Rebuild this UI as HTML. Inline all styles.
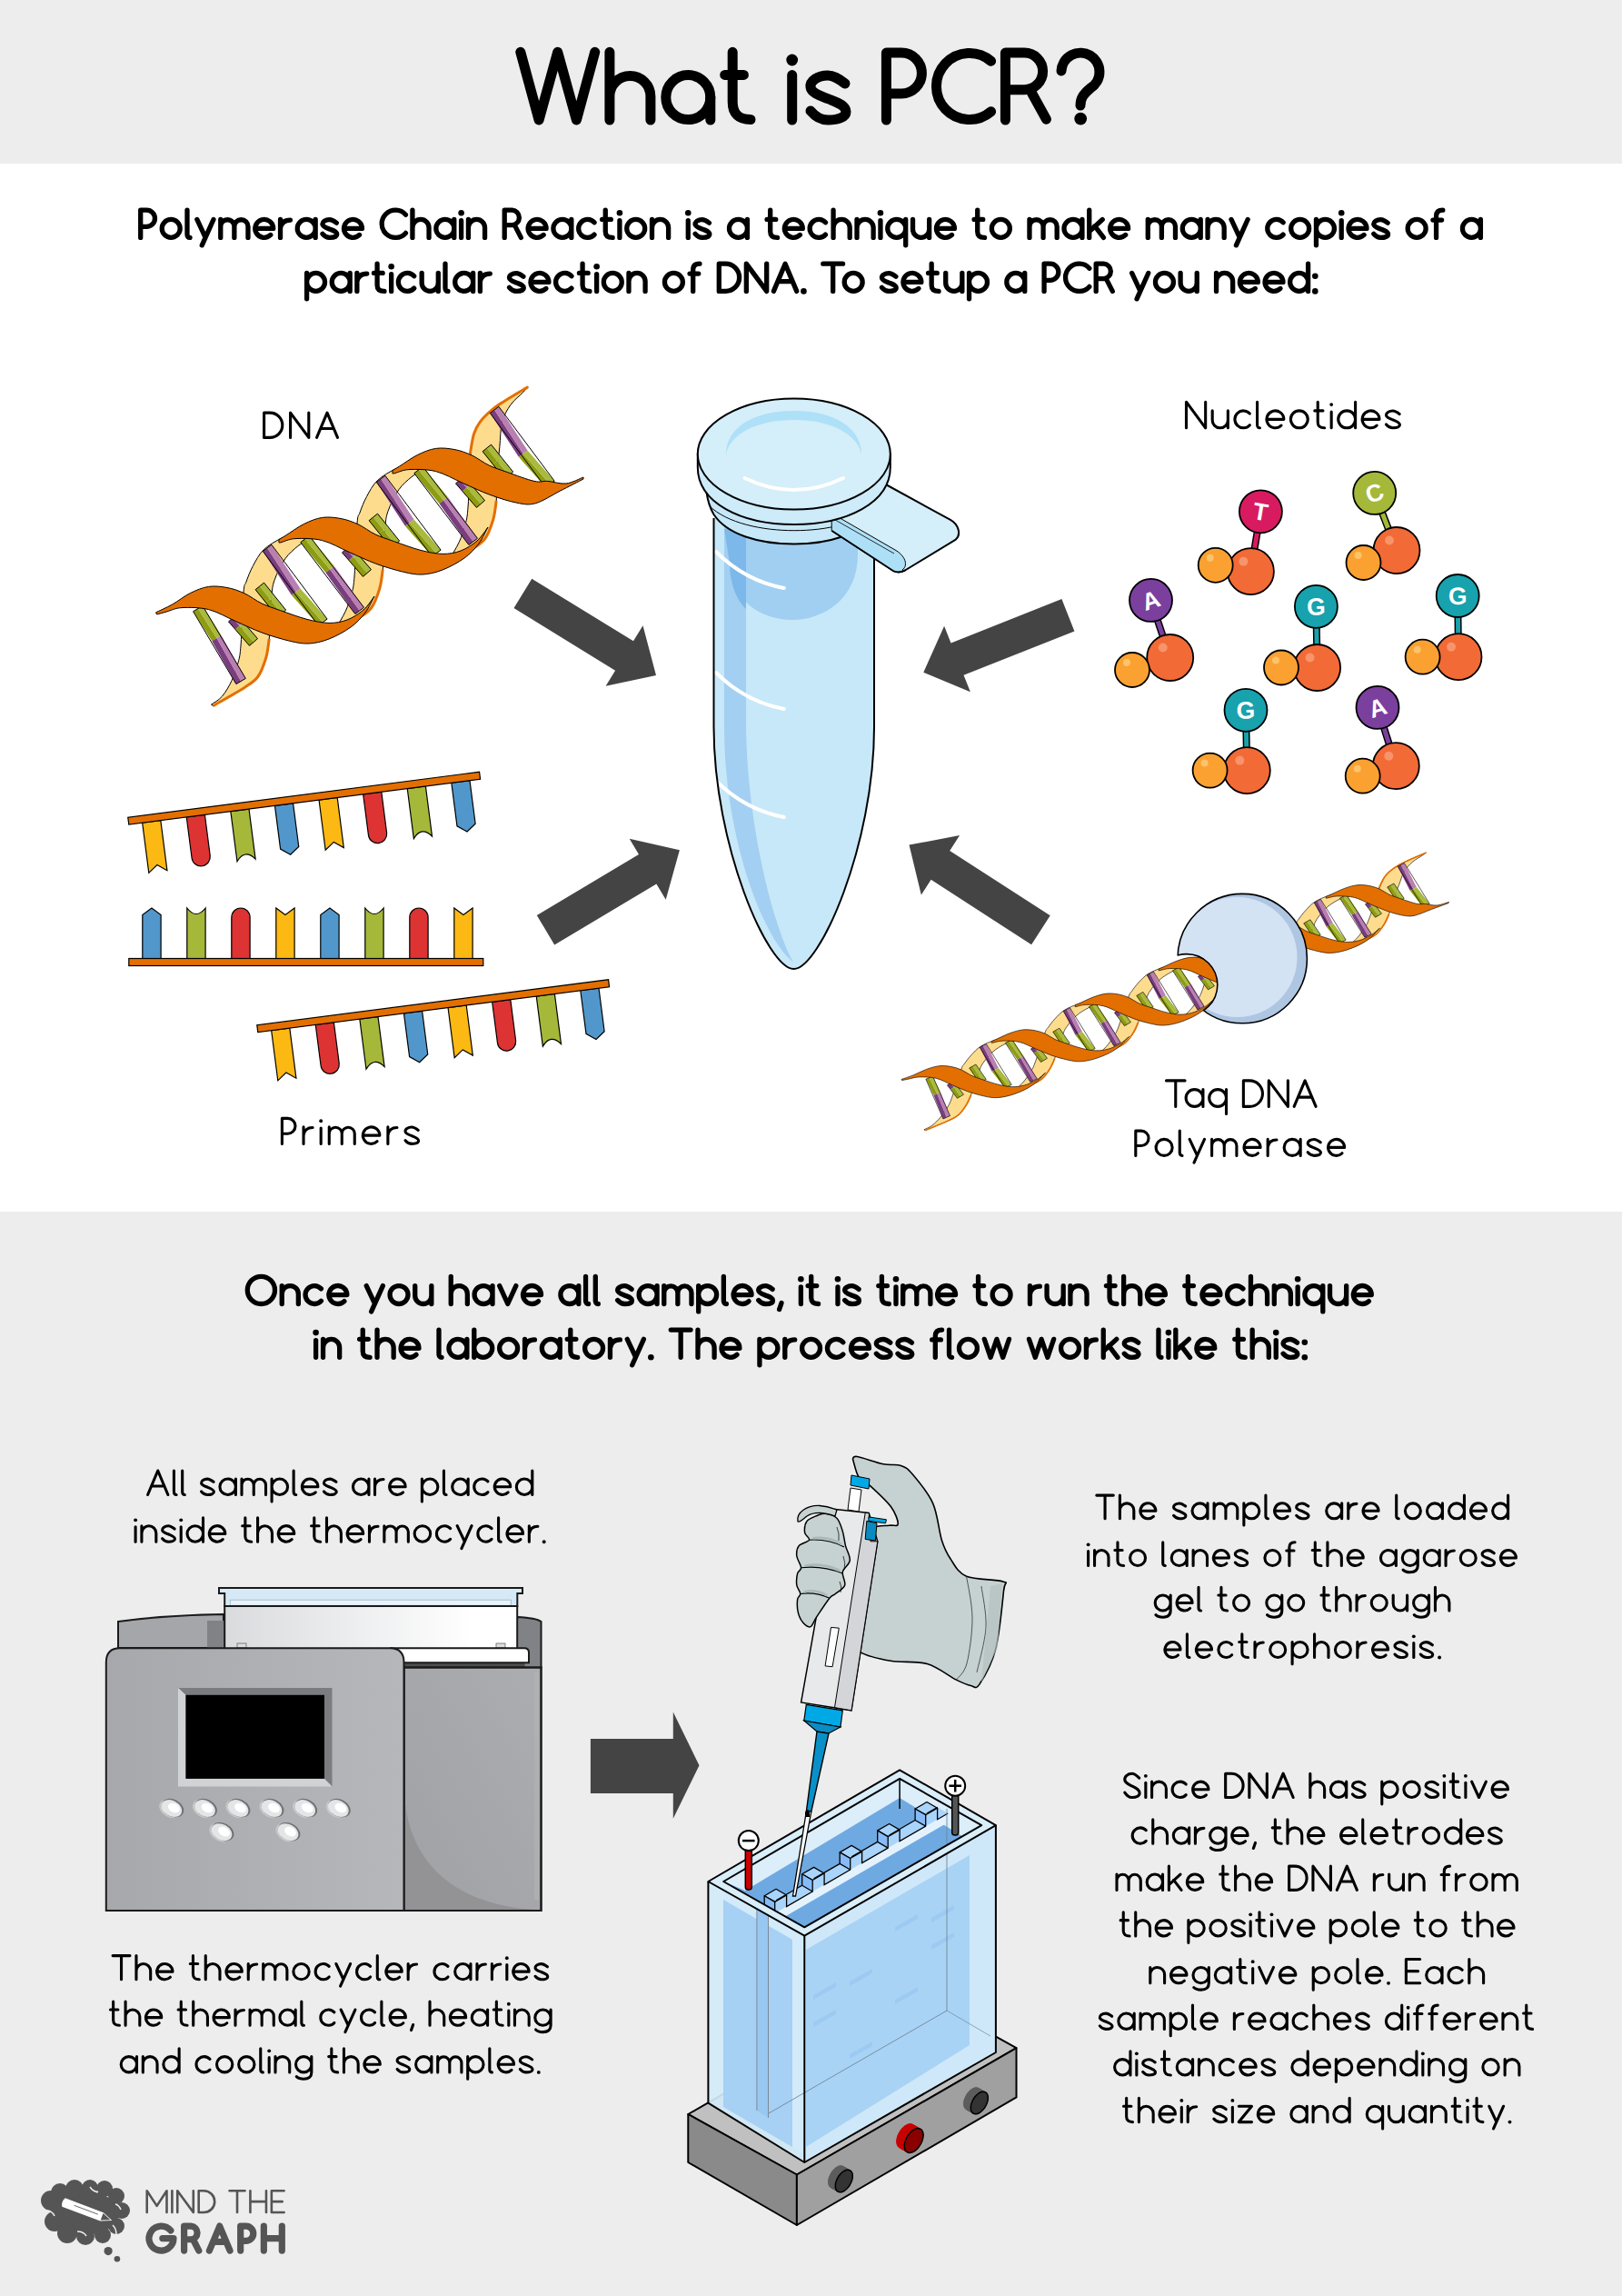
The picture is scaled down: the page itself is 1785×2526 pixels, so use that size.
<!DOCTYPE html>
<html><head><meta charset="utf-8"><title>What is PCR?</title>
<style>html,body{margin:0;padding:0;background:#fff;width:1785px;height:2526px;overflow:hidden} svg{display:block}</style>
</head><body>
<svg width="1785" height="2526" viewBox="0 0 1785 2526">
<rect x="0" y="0" width="1785" height="180" fill="#ededed"/>
<rect x="0" y="1333" width="1785" height="1193" fill="#ededed"/>
<path d="M232.5,775.1 C234.5,773.6 240.6,770.6 244.4,766.2 C248.2,761.8 252.2,754.7 255.2,748.5 C258.1,742.3 260.5,735.4 262.1,728.8 C263.8,722.2 264.1,721.8 265.1,709.0 C266.1,696.2 267.0,663.3 268.0,651.8 C269.0,640.3 269.3,644.9 271.0,640.0 C272.7,635.1 275.2,628.5 278.4,622.6 C281.6,616.7 284.9,609.9 290.2,604.8 C295.5,599.7 303.8,595.0 310.0,592.0 C316.2,589.0 321.9,588.2 327.7,587.0 C333.5,585.8 342.1,585.3 345.0,585.0 L345.0,592.0 C343.8,592.5 340.5,593.5 337.6,595.0 C334.7,596.5 331.6,597.6 327.7,600.9 C323.8,604.2 318.2,608.5 313.9,614.7 C309.6,621.0 304.6,630.9 302.0,638.4 C299.4,645.9 299.6,648.9 298.6,659.7 C297.6,670.5 297.2,692.4 296.2,703.1 C295.2,713.8 294.8,716.9 292.7,723.8 C290.6,730.7 287.8,739.1 283.8,744.5 C279.9,749.9 277.2,751.0 269.0,756.4 C260.8,761.8 240.2,773.2 234.5,776.6 Z" fill="#fedc8e" stroke="#000" stroke-width="1.0"/>
<path d="M357.5,699.1 C359.5,697.6 365.6,694.6 369.4,690.2 C373.2,685.8 377.2,678.7 380.2,672.5 C383.1,666.3 385.5,659.4 387.1,652.8 C388.8,646.2 389.1,645.8 390.1,633.0 C391.1,620.2 392.0,587.3 393.0,575.8 C394.0,564.3 394.3,568.9 396.0,564.0 C397.7,559.1 400.2,552.5 403.4,546.6 C406.6,540.7 409.9,533.9 415.2,528.8 C420.5,523.7 428.8,519.0 435.0,516.0 C441.2,513.0 446.9,512.2 452.7,511.0 C458.5,509.8 467.1,509.3 470.0,509.0 L470.0,516.0 C468.8,516.5 465.5,517.5 462.6,519.0 C459.7,520.5 456.6,521.6 452.7,524.9 C448.8,528.2 443.2,532.5 438.9,538.7 C434.6,545.0 429.6,554.9 427.0,562.4 C424.4,569.9 424.6,572.9 423.6,583.7 C422.6,594.5 422.2,616.4 421.2,627.1 C420.2,637.8 419.8,640.9 417.7,647.8 C415.6,654.7 412.8,663.1 408.8,668.5 C404.9,673.9 402.2,675.0 394.0,680.4 C385.8,685.8 365.2,697.2 359.5,700.6 Z" fill="#fedc8e" stroke="#000" stroke-width="1.0"/>
<path d="M482.5,623.1 C484.5,621.6 490.6,618.6 494.4,614.2 C498.2,609.8 502.2,602.7 505.2,596.5 C508.1,590.3 510.5,583.4 512.1,576.8 C513.8,570.2 514.1,569.8 515.1,557.0 C516.1,544.2 517.0,513.0 518.0,499.8 C519.0,486.6 519.7,483.7 521.4,477.8 C523.1,471.9 524.8,468.8 528.2,464.3 C531.6,459.8 537.2,454.6 541.7,450.7 C546.2,446.9 548.7,445.4 555.3,441.2 C561.9,437.0 576.8,428.2 581.1,425.6 L581.1,425.6 C580.2,426.6 578.8,428.4 575.6,431.7 C572.4,435.0 565.8,439.9 562.0,445.3 C558.2,450.7 554.6,456.6 552.6,464.3 C550.6,472.0 550.8,482.4 549.9,491.4 C549.0,500.4 547.7,508.6 547.1,518.5 C546.5,528.5 546.9,542.2 546.2,551.1 C545.5,560.0 544.8,564.9 542.7,571.8 C540.6,578.7 537.8,587.1 533.8,592.5 C529.8,597.9 527.2,599.0 519.0,604.4 C510.8,609.8 490.2,621.2 484.5,624.6 Z" fill="#fedc8e" stroke="#000" stroke-width="1.0"/>
<path d="M296.2,703.1 C295.6,706.5 294.8,716.9 292.7,723.8 C290.6,730.7 287.8,739.1 283.8,744.5 C279.9,749.9 277.2,751.0 269.0,756.4 C260.8,761.8 240.2,773.2 234.5,776.6" fill="none" stroke="#e36f00" stroke-width="3"/>
<path d="M421.2,627.1 C420.6,630.5 419.8,640.9 417.7,647.8 C415.6,654.7 412.8,663.1 408.8,668.5 C404.9,673.9 402.2,675.0 394.0,680.4 C385.8,685.8 365.2,697.2 359.5,700.6" fill="none" stroke="#e36f00" stroke-width="3"/>
<path d="M546.2,551.1 C545.6,554.5 544.8,564.9 542.7,571.8 C540.6,578.7 537.8,587.1 533.8,592.5 C529.8,597.9 527.2,599.0 519.0,604.4 C510.8,609.8 490.2,621.2 484.5,624.6" fill="none" stroke="#e36f00" stroke-width="3"/>
<path d="M517.3,499.5 C518.0,495.9 519.6,483.7 521.4,477.8 C523.2,471.9 524.8,468.8 528.2,464.3 C531.6,459.8 537.2,454.6 541.7,450.7 C546.2,446.8 548.7,445.4 555.3,441.2 C561.9,437.0 576.8,428.2 581.1,425.6" fill="none" stroke="#e36f00" stroke-width="3"/>
<polygon points="289.3,606.5 320.9,654.8 325.7,651.2 294.1,602.9" fill="#7a3e7f"/><polygon points="294.1,602.9 325.7,651.2 330.5,647.6 298.9,599.3" fill="#b97eb2"/><polygon points="320.9,654.8 350.5,688.3 355.3,684.7 325.7,651.2" fill="#8e9c12"/><polygon points="325.7,651.2 355.3,684.7 360.1,681.1 330.5,647.6" fill="#a9ba3c"/><polygon points="289.3,606.5 350.5,688.3 360.1,681.1 298.9,599.3" fill="none" stroke="#000" stroke-width="1"/>
<polygon points="330.8,596.6 358.4,630.1 363.2,626.5 335.6,593.0" fill="#8e9c12"/><polygon points="335.6,593.0 363.2,626.5 368.0,622.9 340.4,589.4" fill="#a9ba3c"/><polygon points="358.4,630.1 390.9,675.5 395.7,671.9 363.2,626.5" fill="#7a3e7f"/><polygon points="363.2,626.5 395.7,671.9 400.5,668.3 368.0,622.9" fill="#b97eb2"/><polygon points="330.8,596.6 390.9,675.5 400.5,668.3 340.4,589.4" fill="none" stroke="#000" stroke-width="1"/>
<polygon points="281.1,648.7 292.3,662.8 297.0,659.0 285.8,644.9" fill="#8e9c12"/><polygon points="285.8,644.9 297.0,659.0 301.7,655.2 290.5,641.1" fill="#a9ba3c"/><polygon points="292.3,662.8 305.3,678.8 310.0,675.0 297.0,659.0" fill="#8e9c12"/><polygon points="297.0,659.0 310.0,675.0 314.7,671.2 301.7,655.2" fill="#a9ba3c"/><polygon points="281.1,648.7 305.3,678.8 314.7,671.2 290.5,641.1" fill="none" stroke="#000" stroke-width="1"/>
<polygon points="251.5,683.9 259.0,692.4 263.5,688.5 256.0,680.0" fill="#7a3e7f"/><polygon points="256.0,680.0 263.5,688.5 268.0,684.6 260.5,676.1" fill="#b97eb2"/><polygon points="259.0,692.4 274.5,710.4 279.0,706.5 263.5,688.5" fill="#8e9c12"/><polygon points="263.5,688.5 279.0,706.5 283.5,702.6 268.0,684.6" fill="#a9ba3c"/><polygon points="251.5,683.9 274.5,710.4 283.5,702.6 260.5,676.1" fill="none" stroke="#000" stroke-width="1"/>
<polygon points="414.3,530.5 445.9,578.8 450.7,575.2 419.1,526.9" fill="#7a3e7f"/><polygon points="419.1,526.9 450.7,575.2 455.5,571.6 423.9,523.3" fill="#b97eb2"/><polygon points="445.9,578.8 475.5,612.3 480.3,608.7 450.7,575.2" fill="#8e9c12"/><polygon points="450.7,575.2 480.3,608.7 485.1,605.1 455.5,571.6" fill="#a9ba3c"/><polygon points="414.3,530.5 475.5,612.3 485.1,605.1 423.9,523.3" fill="none" stroke="#000" stroke-width="1"/>
<polygon points="455.8,520.6 483.4,554.1 488.2,550.5 460.6,517.0" fill="#8e9c12"/><polygon points="460.6,517.0 488.2,550.5 493.0,546.9 465.4,513.4" fill="#a9ba3c"/><polygon points="483.4,554.1 515.9,599.5 520.7,595.9 488.2,550.5" fill="#7a3e7f"/><polygon points="488.2,550.5 520.7,595.9 525.5,592.3 493.0,546.9" fill="#b97eb2"/><polygon points="455.8,520.6 515.9,599.5 525.5,592.3 465.4,513.4" fill="none" stroke="#000" stroke-width="1"/>
<polygon points="406.1,572.7 417.3,586.8 422.0,583.0 410.8,568.9" fill="#8e9c12"/><polygon points="410.8,568.9 422.0,583.0 426.7,579.2 415.5,565.1" fill="#a9ba3c"/><polygon points="417.3,586.8 430.3,602.8 435.0,599.0 422.0,583.0" fill="#8e9c12"/><polygon points="422.0,583.0 435.0,599.0 439.7,595.2 426.7,579.2" fill="#a9ba3c"/><polygon points="406.1,572.7 430.3,602.8 439.7,595.2 415.5,565.1" fill="none" stroke="#000" stroke-width="1"/>
<polygon points="376.5,607.9 384.0,616.4 388.5,612.5 381.0,604.0" fill="#7a3e7f"/><polygon points="381.0,604.0 388.5,612.5 393.0,608.6 385.5,600.1" fill="#b97eb2"/><polygon points="384.0,616.4 399.5,634.4 404.0,630.5 388.5,612.5" fill="#8e9c12"/><polygon points="388.5,612.5 404.0,630.5 408.5,626.6 393.0,608.6" fill="#a9ba3c"/><polygon points="376.5,607.9 399.5,634.4 408.5,626.6 385.5,600.1" fill="none" stroke="#000" stroke-width="1"/>
<polygon points="539.3,454.5 570.9,502.8 575.7,499.2 544.1,450.9" fill="#7a3e7f"/><polygon points="544.1,450.9 575.7,499.2 580.5,495.6 548.9,447.3" fill="#b97eb2"/><polygon points="570.9,502.8 600.5,536.3 605.3,532.7 575.7,499.2" fill="#8e9c12"/><polygon points="575.7,499.2 605.3,532.7 610.1,529.1 580.5,495.6" fill="#a9ba3c"/><polygon points="539.3,454.5 600.5,536.3 610.1,529.1 548.9,447.3" fill="none" stroke="#000" stroke-width="1"/>
<polygon points="531.1,496.7 542.3,510.8 547.0,507.0 535.8,492.9" fill="#8e9c12"/><polygon points="535.8,492.9 547.0,507.0 551.7,503.2 540.5,489.1" fill="#a9ba3c"/><polygon points="542.3,510.8 555.3,526.8 560.0,523.0 547.0,507.0" fill="#8e9c12"/><polygon points="547.0,507.0 560.0,523.0 564.7,519.2 551.7,503.2" fill="#a9ba3c"/><polygon points="531.1,496.7 555.3,526.8 564.7,519.2 540.5,489.1" fill="none" stroke="#000" stroke-width="1"/>
<polygon points="501.5,531.9 509.0,540.4 513.5,536.5 506.0,528.0" fill="#7a3e7f"/><polygon points="506.0,528.0 513.5,536.5 518.0,532.6 510.5,524.1" fill="#b97eb2"/><polygon points="509.0,540.4 524.5,558.4 529.0,554.5 513.5,536.5" fill="#8e9c12"/><polygon points="513.5,536.5 529.0,554.5 533.5,550.6 518.0,532.6" fill="#a9ba3c"/><polygon points="501.5,531.9 524.5,558.4 533.5,550.6 510.5,524.1" fill="none" stroke="#000" stroke-width="1"/>
<polygon points="212.6,672.7 233.3,705.2 238.5,702.1 217.8,669.6" fill="#8e9c12"/><polygon points="217.8,669.6 238.5,702.1 243.7,699.0 223.0,666.5" fill="#a9ba3c"/><polygon points="233.3,705.2 259.9,752.6 265.1,749.5 238.5,702.1" fill="#7a3e7f"/><polygon points="238.5,702.1 265.1,749.5 270.3,746.4 243.7,699.0" fill="#b97eb2"/><polygon points="212.6,672.7 259.9,752.6 270.3,746.4 223.0,666.5" fill="none" stroke="#000" stroke-width="1"/>
<path d="M171.4,673.9 C174.4,672.4 183.3,668.5 189.6,665.0 C195.9,661.5 202.6,655.9 209.3,652.6 C216.0,649.3 222.8,646.4 229.6,645.4 C236.4,644.4 243.4,645.3 250.0,646.5 C256.6,647.7 262.6,649.9 269.0,652.8 C275.4,655.7 281.6,660.9 288.2,664.0 C294.8,667.1 300.2,668.7 308.5,671.6 C316.8,674.5 329.1,679.1 338.0,681.4 C346.9,683.7 354.7,685.3 362.0,685.4 C369.3,685.5 375.7,684.4 382.0,682.0 C388.3,679.6 395.0,675.3 400.0,671.0 C405.0,666.7 410.0,658.5 412.0,656.0 L412.0,656.0 C410.3,659.0 406.3,668.3 402.0,674.0 C397.7,679.7 392.7,685.2 386.0,690.0 C379.3,694.8 369.7,700.0 362.0,703.0 C354.3,706.0 347.3,707.6 340.0,708.0 C332.7,708.4 326.8,707.1 318.3,705.1 C309.8,703.1 298.7,699.8 288.8,696.2 C278.9,692.6 269.1,687.7 259.2,683.4 C249.3,679.1 239.5,673.1 229.6,670.6 C219.7,668.1 207.7,668.2 200.0,668.6 C192.3,669.0 188.2,671.7 183.7,672.9 C179.2,674.1 174.6,675.4 172.8,675.9 Z" fill="#e36f00" stroke="#000" stroke-width="1.0"/>
<path d="M307.0,593.5 C308.3,592.8 310.1,591.8 314.6,589.0 C319.2,586.2 327.6,579.9 334.3,576.6 C341.0,573.3 347.8,570.4 354.6,569.4 C361.4,568.4 368.4,569.3 375.0,570.5 C381.6,571.7 387.6,573.9 394.0,576.8 C400.4,579.7 406.6,584.9 413.2,588.0 C419.8,591.1 425.2,592.7 433.5,595.6 C441.8,598.5 454.1,603.1 463.0,605.4 C471.9,607.7 479.7,609.3 487.0,609.4 C494.3,609.5 500.7,608.4 507.0,606.0 C513.3,603.6 520.0,599.3 525.0,595.0 C530.0,590.7 535.0,582.5 537.0,580.0 L537.0,580.0 C535.3,583.0 531.3,592.3 527.0,598.0 C522.7,603.7 517.7,609.2 511.0,614.0 C504.3,618.8 494.7,624.0 487.0,627.0 C479.3,630.0 472.3,631.6 465.0,632.0 C457.7,632.4 451.8,631.1 443.3,629.1 C434.8,627.1 423.7,623.8 413.8,620.2 C403.9,616.6 394.1,611.7 384.2,607.4 C374.3,603.1 364.5,597.1 354.6,594.6 C344.7,592.1 332.6,592.2 325.0,592.6 C317.4,593.0 311.7,596.3 308.7,596.9 C305.7,597.5 307.3,596.1 307.0,596.0 Z" fill="#e36f00" stroke="#000" stroke-width="1.0"/>
<path d="M432.0,517.5 C433.3,516.8 435.1,515.8 439.6,513.0 C444.2,510.2 452.6,503.9 459.3,500.6 C466.0,497.3 472.8,494.4 479.6,493.4 C486.4,492.4 493.4,493.3 500.0,494.5 C506.6,495.7 512.6,497.9 519.0,500.8 C525.4,503.7 531.6,508.9 538.2,512.0 C544.8,515.1 550.2,516.7 558.5,519.6 C566.8,522.5 580.6,527.8 588.0,529.4 C595.4,531.0 597.0,529.0 602.8,529.4 C608.6,529.8 616.5,532.7 623.0,532.0 C629.5,531.3 638.8,526.2 642.0,525.0 L642.0,527.0 C637.7,529.2 625.1,535.7 616.3,540.2 C607.5,544.7 597.2,551.6 589.2,553.8 C581.2,555.9 576.7,554.7 568.3,553.1 C559.9,551.5 548.6,547.8 538.8,544.2 C528.9,540.6 519.1,535.7 509.2,531.4 C499.3,527.1 489.5,521.1 479.6,518.6 C469.7,516.1 457.6,516.2 450.0,516.6 C442.4,517.0 436.7,520.3 433.7,520.9 C430.7,521.5 432.3,520.1 432.0,520.0 Z" fill="#e36f00" stroke="#000" stroke-width="1.0"/>
<path d="M785.5,570 L785.5,800 C785.5,930 845,1066 873.5,1066 C902,1066 962,930 962,800 L962,570 Z" fill="#c7e8f8"/>
<path d="M797,575 L821,575 L821,800 C823,930 860,1040 873,1058 C845,1040 797,930 797,800 Z" fill="#a3cff2"/>
<path d="M797,582 L944,582 L944,610 C944,660 905,682 872,682 C838,682 803,660 803,620 Z" fill="#9ecdf0" opacity="0.95"/>
<path d="M797,582 L821,582 L821,670 C810,660 803,640 803,620 Z" fill="#7db8ea"/>
<path d="M788,607 Q820,639 862.9,647" fill="none" stroke="#fff" stroke-width="4" stroke-linecap="round"/>
<path d="M788,740 Q820,772 862.9,780" fill="none" stroke="#fff" stroke-width="4" stroke-linecap="round"/>
<path d="M788,859 Q820,891 862.9,899" fill="none" stroke="#fff" stroke-width="4" stroke-linecap="round"/>
<path d="M785.5,570 L785.5,800 C785.5,930 845,1066 873.5,1066 C902,1066 962,930 962,800 L962,570" fill="none" stroke="#000" stroke-width="2"/>
<path d="M777.6,535 L777.6,542 C779,552 782,560 785.5,566 C800,588 835,598.5 873.8,598.5 C912,598.5 947,588 962,566 C965,560 969,552 970,542 L970,535 Z" fill="#c7e8f8" stroke="#000" stroke-width="2"/>
<path d="M780,556 C800,576 840,583.7 873.8,583.7 C910,583.7 945,576 968,556" fill="none" stroke="#000" stroke-width="1"/>
<path d="M915.7,565 L973,532 L1045.9,571.9 C1055,577 1058,588 1051.8,593.6 L996,627.5 C991,630 987,630 983,628 L915.7,584 Z" fill="#d4eefa" stroke="#000" stroke-width="2" stroke-linejoin="round"/>
<path d="M915.7,566 L985,605 C996,611 1000,622 993,627 C989,629.5 986,629 983,628 L915.7,584 Z" fill="#ade0f7"/>
<path d="M915.7,565 L985,605 C996,611 1000,622 993,627" fill="none" stroke="#000" stroke-width="1"/>
<path d="M915.7,570 L984,609" fill="none" stroke="#000" stroke-width="0.8"/>
<path d="M915.7,584 L983,628 C987,630 991,630 996,627.5" fill="none" stroke="#000" stroke-width="1.6"/>
<path d="M767.8,499.6 L767.8,514 C767.8,553 815,577 873.8,577 C932,577 979.8,553 979.8,514 L979.8,499.6 Z" fill="#cdebf9" stroke="#000" stroke-width="2"/>
<ellipse cx="873.8" cy="499.6" rx="106" ry="61" fill="#d4eefa" stroke="#000" stroke-width="2"/>
<path d="M799,500 C799,470 830,452 873.8,452 C917,452 948,470 948,500 C944,478 915,462 873.8,462 C832,462 803,478 799,500 Z" fill="#aee0f7"/>
<path d="M819.5,526 Q873.8,552 928,526" fill="none" stroke="#fff" stroke-width="4" stroke-linecap="round"/>
<polygon points="565.5,669.1 677.1,737.7 666.6,754.8 722.0,743.0 707.5,688.3 697.0,705.3 585.3,636.7" fill="#444444" />
<polygon points="610.2,1039.5 722.4,972.5 732.7,989.7 747.9,935.2 692.7,922.7 703.0,939.9 590.8,1006.9" fill="#444444" />
<polygon points="1168.4,659.0 1046.5,707.4 1039.1,688.8 1016.3,739.8 1067.9,761.3 1060.5,742.7 1182.4,694.4" fill="#444444" />
<polygon points="1155.7,1007.3 1045.2,935.9 1056.1,919.1 1000.5,929.6 1013.8,984.6 1024.6,967.8 1135.1,1039.3" fill="#444444" />
<polygon points="649.9,1912.9 740.8,1912.9 740.8,1883.6 769.5,1942.2 740.8,2000.8 740.8,1973.0 649.9,1973.0" fill="#444444" />
<line x1="1387.4" y1="562.8" x2="1376.4" y2="628.7" stroke="#000" stroke-width="8"/>
<line x1="1387.4" y1="562.8" x2="1376.4" y2="628.7" stroke="#d81b60" stroke-width="5"/>
<circle cx="1376.4" cy="628.7" r="25.5" fill="#f26a36" stroke="#000" stroke-width="1.8"/>
<circle cx="1368.4" cy="617.7" r="5" fill="#f7946b"/>
<circle cx="1337.7" cy="621.8" r="19" fill="#fba131" stroke="#000" stroke-width="1.8"/>
<circle cx="1331.7" cy="613.8" r="4" fill="#fcc36a"/>
<circle cx="1387.4" cy="562.8" r="23.5" fill="#d81b60" stroke="#000" stroke-width="1.8"/>
<text x="1387.4" y="572.1" font-size="26.5" font-weight="bold" fill="#fff" text-anchor="middle" font-family="Liberation Sans, sans-serif" transform="rotate(9.5 1387.4 562.8)">T</text>
<line x1="1512.7" y1="542.4" x2="1537.0" y2="605.5" stroke="#000" stroke-width="8"/>
<line x1="1512.7" y1="542.4" x2="1537.0" y2="605.5" stroke="#a5b83a" stroke-width="5"/>
<circle cx="1537.0" cy="605.5" r="25.5" fill="#f26a36" stroke="#000" stroke-width="1.8"/>
<circle cx="1529.0" cy="594.5" r="5" fill="#f7946b"/>
<circle cx="1500.5" cy="619.0" r="19" fill="#fba131" stroke="#000" stroke-width="1.8"/>
<circle cx="1494.5" cy="611.0" r="4" fill="#fcc36a"/>
<circle cx="1512.7" cy="542.4" r="23.5" fill="#a5b83a" stroke="#000" stroke-width="1.8"/>
<text x="1512.7" y="551.7" font-size="26.5" font-weight="bold" fill="#fff" text-anchor="middle" font-family="Liberation Sans, sans-serif" transform="rotate(-21.1 1512.7 542.4)">C</text>
<line x1="1266.5" y1="660.4" x2="1287.7" y2="723.5" stroke="#000" stroke-width="8"/>
<line x1="1266.5" y1="660.4" x2="1287.7" y2="723.5" stroke="#7b3f9e" stroke-width="5"/>
<circle cx="1287.7" cy="723.5" r="25.5" fill="#f26a36" stroke="#000" stroke-width="1.8"/>
<circle cx="1279.7" cy="712.5" r="5" fill="#f7946b"/>
<circle cx="1246.0" cy="737.0" r="19" fill="#fba131" stroke="#000" stroke-width="1.8"/>
<circle cx="1240.0" cy="729.0" r="4" fill="#fcc36a"/>
<circle cx="1266.5" cy="660.4" r="23.5" fill="#7b3f9e" stroke="#000" stroke-width="1.8"/>
<text x="1266.5" y="669.7" font-size="26.5" font-weight="bold" fill="#fff" text-anchor="middle" font-family="Liberation Sans, sans-serif" transform="rotate(-18.6 1266.5 660.4)">A</text>
<line x1="1448.4" y1="667.3" x2="1449.6" y2="734.5" stroke="#000" stroke-width="8"/>
<line x1="1448.4" y1="667.3" x2="1449.6" y2="734.5" stroke="#17a2ad" stroke-width="5"/>
<circle cx="1449.6" cy="734.5" r="25.5" fill="#f26a36" stroke="#000" stroke-width="1.8"/>
<circle cx="1441.6" cy="723.5" r="5" fill="#f7946b"/>
<circle cx="1410.0" cy="734.5" r="19" fill="#fba131" stroke="#000" stroke-width="1.8"/>
<circle cx="1404.0" cy="726.5" r="4" fill="#fcc36a"/>
<circle cx="1448.4" cy="667.3" r="23.5" fill="#17a2ad" stroke="#000" stroke-width="1.8"/>
<text x="1448.4" y="676.6" font-size="26.5" font-weight="bold" fill="#fff" text-anchor="middle" font-family="Liberation Sans, sans-serif" transform="rotate(-1.0 1448.4 667.3)">G</text>
<line x1="1604.2" y1="655.5" x2="1605.0" y2="722.7" stroke="#000" stroke-width="8"/>
<line x1="1604.2" y1="655.5" x2="1605.0" y2="722.7" stroke="#17a2ad" stroke-width="5"/>
<circle cx="1605.0" cy="722.7" r="25.5" fill="#f26a36" stroke="#000" stroke-width="1.8"/>
<circle cx="1597.0" cy="711.7" r="5" fill="#f7946b"/>
<circle cx="1565.6" cy="722.7" r="19" fill="#fba131" stroke="#000" stroke-width="1.8"/>
<circle cx="1559.6" cy="714.7" r="4" fill="#fcc36a"/>
<circle cx="1604.2" cy="655.5" r="23.5" fill="#17a2ad" stroke="#000" stroke-width="1.8"/>
<text x="1604.2" y="664.8" font-size="26.5" font-weight="bold" fill="#fff" text-anchor="middle" font-family="Liberation Sans, sans-serif" transform="rotate(-0.7 1604.2 655.5)">G</text>
<line x1="1371.0" y1="781.3" x2="1372.3" y2="847.6" stroke="#000" stroke-width="8"/>
<line x1="1371.0" y1="781.3" x2="1372.3" y2="847.6" stroke="#17a2ad" stroke-width="5"/>
<circle cx="1372.3" cy="847.6" r="25.5" fill="#f26a36" stroke="#000" stroke-width="1.8"/>
<circle cx="1364.3" cy="836.6" r="5" fill="#f7946b"/>
<circle cx="1331.6" cy="847.6" r="19" fill="#fba131" stroke="#000" stroke-width="1.8"/>
<circle cx="1325.6" cy="839.6" r="4" fill="#fcc36a"/>
<circle cx="1371.0" cy="781.3" r="23.5" fill="#17a2ad" stroke="#000" stroke-width="1.8"/>
<text x="1371.0" y="790.6" font-size="26.5" font-weight="bold" fill="#fff" text-anchor="middle" font-family="Liberation Sans, sans-serif" transform="rotate(-1.1 1371.0 781.3)">G</text>
<line x1="1516.0" y1="778.4" x2="1536.3" y2="842.7" stroke="#000" stroke-width="8"/>
<line x1="1516.0" y1="778.4" x2="1536.3" y2="842.7" stroke="#7b3f9e" stroke-width="5"/>
<circle cx="1536.3" cy="842.7" r="25.5" fill="#f26a36" stroke="#000" stroke-width="1.8"/>
<circle cx="1528.3" cy="831.7" r="5" fill="#f7946b"/>
<circle cx="1499.7" cy="853.7" r="19" fill="#fba131" stroke="#000" stroke-width="1.8"/>
<circle cx="1493.7" cy="845.7" r="4" fill="#fcc36a"/>
<circle cx="1516.0" cy="778.4" r="23.5" fill="#7b3f9e" stroke="#000" stroke-width="1.8"/>
<text x="1516.0" y="787.7" font-size="26.5" font-weight="bold" fill="#fff" text-anchor="middle" font-family="Liberation Sans, sans-serif" transform="rotate(-17.5 1516.0 778.4)">A</text>
<g transform="translate(141.8,907.2) rotate(-7.37)" stroke="#000" stroke-width="1.2" stroke-linejoin="miter"><path d="M15,0 H35.3 V55.5 L25.15,48.0 L15,55.5 Z" fill="#fdb913"/><path d="M64,0 H84.3 V45.35 A10.15,10.15 0 0 1 64,45.35 Z" fill="#dd3333"/><path d="M113,0 H133.3 V55.5 Q123.15,42.5 113,55.5 Z" fill="#a6b83a"/><path d="M162,0 H182.3 V48.0 L172.15,55.5 L162,48.0 Z" fill="#5197cb"/><path d="M211,0 H231.3 V55.5 L221.15,48.0 L211,55.5 Z" fill="#fdb913"/><path d="M260,0 H280.3 V45.35 A10.15,10.15 0 0 1 260,45.35 Z" fill="#dd3333"/><path d="M309,0 H329.3 V55.5 Q319.15,42.5 309,55.5 Z" fill="#a6b83a"/><path d="M358,0 H378.3 V48.0 L368.15,55.5 L358,48.0 Z" fill="#5197cb"/><rect x="0" y="-8" width="390" height="8" fill="#e36f00"/></g>
<g transform="translate(283.8,1135.7) rotate(-7.37)" stroke="#000" stroke-width="1.2" stroke-linejoin="miter"><path d="M15,0 H35.3 V55.5 L25.15,48.0 L15,55.5 Z" fill="#fdb913"/><path d="M64,0 H84.3 V45.35 A10.15,10.15 0 0 1 64,45.35 Z" fill="#dd3333"/><path d="M113,0 H133.3 V55.5 Q123.15,42.5 113,55.5 Z" fill="#a6b83a"/><path d="M162,0 H182.3 V48.0 L172.15,55.5 L162,48.0 Z" fill="#5197cb"/><path d="M211,0 H231.3 V55.5 L221.15,48.0 L211,55.5 Z" fill="#fdb913"/><path d="M260,0 H280.3 V45.35 A10.15,10.15 0 0 1 260,45.35 Z" fill="#dd3333"/><path d="M309,0 H329.3 V55.5 Q319.15,42.5 309,55.5 Z" fill="#a6b83a"/><path d="M358,0 H378.3 V48.0 L368.15,55.5 L358,48.0 Z" fill="#5197cb"/><rect x="0" y="-8" width="390" height="8" fill="#e36f00"/></g>
<g transform="translate(141.8,1054.5) scale(1,-1)" stroke="#000" stroke-width="1.2" stroke-linejoin="miter"><path d="M15,0 H35.3 V48.0 L25.15,55.5 L15,48.0 Z" fill="#5197cb"/><path d="M64,0 H84.3 V55.5 Q74.15,42.5 64,55.5 Z" fill="#a6b83a"/><path d="M113,0 H133.3 V45.35 A10.15,10.15 0 0 1 113,45.35 Z" fill="#dd3333"/><path d="M162,0 H182.3 V55.5 L172.15,48.0 L162,55.5 Z" fill="#fdb913"/><path d="M211,0 H231.3 V48.0 L221.15,55.5 L211,48.0 Z" fill="#5197cb"/><path d="M260,0 H280.3 V55.5 Q270.15,42.5 260,55.5 Z" fill="#a6b83a"/><path d="M309,0 H329.3 V45.35 A10.15,10.15 0 0 1 309,45.35 Z" fill="#dd3333"/><path d="M358,0 H378.3 V55.5 L368.15,48.0 L358,55.5 Z" fill="#fdb913"/><rect x="0" y="-8" width="390" height="8" fill="#e36f00"/></g>
<g transform="matrix(0.6478,0.0101,-0.14507,0.5403,978.73,821.67)"><path d="M232.5,775.1 C234.5,773.6 240.6,770.6 244.4,766.2 C248.2,761.8 252.2,754.7 255.2,748.5 C258.1,742.3 260.5,735.4 262.1,728.8 C263.8,722.2 264.1,721.8 265.1,709.0 C266.1,696.2 267.0,663.3 268.0,651.8 C269.0,640.3 269.3,644.9 271.0,640.0 C272.7,635.1 275.2,628.5 278.4,622.6 C281.6,616.7 284.9,609.9 290.2,604.8 C295.5,599.7 303.8,595.0 310.0,592.0 C316.2,589.0 321.9,588.2 327.7,587.0 C333.5,585.8 342.1,585.3 345.0,585.0 L345.0,592.0 C343.8,592.5 340.5,593.5 337.6,595.0 C334.7,596.5 331.6,597.6 327.7,600.9 C323.8,604.2 318.2,608.5 313.9,614.7 C309.6,621.0 304.6,630.9 302.0,638.4 C299.4,645.9 299.6,648.9 298.6,659.7 C297.6,670.5 297.2,692.4 296.2,703.1 C295.2,713.8 294.8,716.9 292.7,723.8 C290.6,730.7 287.8,739.1 283.8,744.5 C279.9,749.9 277.2,751.0 269.0,756.4 C260.8,761.8 240.2,773.2 234.5,776.6 Z" fill="#fedc8e" stroke="#000" stroke-width="1.0"/>
<path d="M357.5,699.1 C359.5,697.6 365.6,694.6 369.4,690.2 C373.2,685.8 377.2,678.7 380.2,672.5 C383.1,666.3 385.5,659.4 387.1,652.8 C388.8,646.2 389.1,645.8 390.1,633.0 C391.1,620.2 392.0,587.3 393.0,575.8 C394.0,564.3 394.3,568.9 396.0,564.0 C397.7,559.1 400.2,552.5 403.4,546.6 C406.6,540.7 409.9,533.9 415.2,528.8 C420.5,523.7 428.8,519.0 435.0,516.0 C441.2,513.0 446.9,512.2 452.7,511.0 C458.5,509.8 467.1,509.3 470.0,509.0 L470.0,516.0 C468.8,516.5 465.5,517.5 462.6,519.0 C459.7,520.5 456.6,521.6 452.7,524.9 C448.8,528.2 443.2,532.5 438.9,538.7 C434.6,545.0 429.6,554.9 427.0,562.4 C424.4,569.9 424.6,572.9 423.6,583.7 C422.6,594.5 422.2,616.4 421.2,627.1 C420.2,637.8 419.8,640.9 417.7,647.8 C415.6,654.7 412.8,663.1 408.8,668.5 C404.9,673.9 402.2,675.0 394.0,680.4 C385.8,685.8 365.2,697.2 359.5,700.6 Z" fill="#fedc8e" stroke="#000" stroke-width="1.0"/>
<path d="M482.5,623.1 C484.5,621.6 490.6,618.6 494.4,614.2 C498.2,609.8 502.2,602.7 505.2,596.5 C508.1,590.3 510.5,583.4 512.1,576.8 C513.8,570.2 514.1,569.8 515.1,557.0 C516.1,544.2 517.0,511.3 518.0,499.8 C519.0,488.3 519.3,492.9 521.0,488.0 C522.7,483.1 525.2,476.5 528.4,470.6 C531.6,464.7 534.9,457.9 540.2,452.8 C545.5,447.7 553.8,443.0 560.0,440.0 C566.2,437.0 571.9,436.2 577.7,435.0 C583.5,433.8 592.1,433.3 595.0,433.0 L595.0,440.0 C593.8,440.5 590.5,441.5 587.6,443.0 C584.7,444.5 581.7,445.6 577.7,448.9 C573.8,452.2 568.2,456.5 563.9,462.7 C559.6,469.0 554.5,478.9 552.0,486.4 C549.5,493.9 549.6,496.9 548.6,507.7 C547.6,518.5 547.2,540.4 546.2,551.1 C545.2,561.8 544.8,564.9 542.7,571.8 C540.6,578.7 537.8,587.1 533.8,592.5 C529.8,597.9 527.2,599.0 519.0,604.4 C510.8,609.8 490.2,621.2 484.5,624.6 Z" fill="#fedc8e" stroke="#000" stroke-width="1.0"/>
<path d="M607.5,547.1 C609.5,545.6 615.6,542.6 619.4,538.2 C623.2,533.8 627.2,526.7 630.2,520.5 C633.2,514.3 635.5,507.4 637.1,500.8 C638.8,494.2 639.1,493.8 640.1,481.0 C641.1,468.2 642.0,435.3 643.0,423.8 C644.0,412.3 644.3,416.9 646.0,412.0 C647.7,407.1 650.2,400.5 653.4,394.6 C656.6,388.7 659.9,381.9 665.2,376.8 C670.5,371.7 678.8,367.0 685.0,364.0 C691.2,361.0 696.9,360.2 702.7,359.0 C708.5,357.8 717.1,357.3 720.0,357.0 L720.0,364.0 C718.8,364.5 715.5,365.5 712.6,367.0 C709.7,368.5 706.7,369.6 702.7,372.9 C698.8,376.2 693.2,380.5 688.9,386.7 C684.6,393.0 679.5,402.9 677.0,410.4 C674.5,417.9 674.6,420.9 673.6,431.7 C672.6,442.5 672.2,464.4 671.2,475.1 C670.2,485.8 669.8,488.9 667.7,495.8 C665.6,502.7 662.8,511.1 658.8,516.5 C654.8,521.9 652.2,523.0 644.0,528.4 C635.8,533.8 615.2,545.2 609.5,548.6 Z" fill="#fedc8e" stroke="#000" stroke-width="1.0"/>
<path d="M732.5,471.1 C734.5,469.6 740.6,466.6 744.4,462.2 C748.2,457.8 752.2,450.7 755.2,444.5 C758.2,438.3 760.5,431.4 762.1,424.8 C763.8,418.2 764.1,417.8 765.1,405.0 C766.1,392.2 767.0,359.3 768.0,347.8 C769.0,336.3 769.3,340.9 771.0,336.0 C772.7,331.1 775.2,324.5 778.4,318.6 C781.6,312.7 784.9,305.9 790.2,300.8 C795.5,295.7 803.8,291.0 810.0,288.0 C816.2,285.0 821.9,284.2 827.7,283.0 C833.5,281.8 842.1,281.3 845.0,281.0 L845.0,288.0 C843.8,288.5 840.5,289.5 837.6,291.0 C834.7,292.5 831.7,293.6 827.7,296.9 C823.8,300.2 818.2,304.5 813.9,310.7 C809.6,317.0 804.5,326.9 802.0,334.4 C799.5,341.9 799.6,344.9 798.6,355.7 C797.6,366.5 797.2,388.4 796.2,399.1 C795.2,409.8 794.8,412.9 792.7,419.8 C790.6,426.7 787.8,435.1 783.8,440.5 C779.8,445.9 777.2,447.0 769.0,452.4 C760.8,457.8 740.2,469.2 734.5,472.6 Z" fill="#fedc8e" stroke="#000" stroke-width="1.0"/>
<path d="M857.5,395.1 C859.5,393.6 865.6,390.6 869.4,386.2 C873.2,381.8 877.2,374.7 880.2,368.5 C883.2,362.3 885.5,355.4 887.1,348.8 C888.8,342.2 889.1,341.8 890.1,329.0 C891.1,316.2 892.0,285.0 893.0,271.8 C894.0,258.6 894.7,255.7 896.4,249.8 C898.1,243.9 899.8,240.8 903.2,236.3 C906.6,231.8 912.2,226.6 916.7,222.7 C921.2,218.9 923.7,217.4 930.3,213.2 C936.9,209.0 951.8,200.2 956.1,197.6 L956.1,197.6 C955.2,198.6 953.8,200.4 950.6,203.7 C947.4,207.0 940.8,211.9 937.0,217.3 C933.2,222.7 929.6,228.6 927.6,236.3 C925.6,244.0 925.8,254.4 924.9,263.4 C924.0,272.4 922.7,280.6 922.1,290.5 C921.5,300.4 921.9,314.2 921.2,323.1 C920.5,332.0 919.8,336.9 917.7,343.8 C915.6,350.7 912.8,359.1 908.8,364.5 C904.8,369.9 902.2,371.0 894.0,376.4 C885.8,381.8 865.2,393.2 859.5,396.6 Z" fill="#fedc8e" stroke="#000" stroke-width="1.0"/>
<path d="M296.2,703.1 C295.6,706.5 294.8,716.9 292.7,723.8 C290.6,730.7 287.8,739.1 283.8,744.5 C279.9,749.9 277.2,751.0 269.0,756.4 C260.8,761.8 240.2,773.2 234.5,776.6" fill="none" stroke="#e36f00" stroke-width="3"/>
<path d="M421.2,627.1 C420.6,630.5 419.8,640.9 417.7,647.8 C415.6,654.7 412.8,663.1 408.8,668.5 C404.9,673.9 402.2,675.0 394.0,680.4 C385.8,685.8 365.2,697.2 359.5,700.6" fill="none" stroke="#e36f00" stroke-width="3"/>
<path d="M546.2,551.1 C545.6,554.5 544.8,564.9 542.7,571.8 C540.6,578.7 537.8,587.1 533.8,592.5 C529.8,597.9 527.2,599.0 519.0,604.4 C510.8,609.8 490.2,621.2 484.5,624.6" fill="none" stroke="#e36f00" stroke-width="3"/>
<path d="M671.2,475.1 C670.6,478.6 669.8,488.9 667.7,495.8 C665.6,502.7 662.8,511.1 658.8,516.5 C654.8,521.9 652.2,523.0 644.0,528.4 C635.8,533.8 615.2,545.2 609.5,548.6" fill="none" stroke="#e36f00" stroke-width="3"/>
<path d="M796.2,399.1 C795.6,402.6 794.8,412.9 792.7,419.8 C790.6,426.7 787.8,435.1 783.8,440.5 C779.8,445.9 777.2,447.0 769.0,452.4 C760.8,457.8 740.2,469.2 734.5,472.6" fill="none" stroke="#e36f00" stroke-width="3"/>
<path d="M921.2,323.1 C920.6,326.6 919.8,336.9 917.7,343.8 C915.6,350.7 912.8,359.1 908.8,364.5 C904.8,369.9 902.2,371.0 894.0,376.4 C885.8,381.8 865.2,393.2 859.5,396.6" fill="none" stroke="#e36f00" stroke-width="3"/>
<path d="M892.3,271.5 C893.0,267.9 894.6,255.7 896.4,249.8 C898.2,243.9 899.8,240.8 903.2,236.3 C906.6,231.8 912.2,226.5 916.7,222.7 C921.2,218.8 923.7,217.4 930.3,213.2 C936.9,209.0 951.8,200.2 956.1,197.6" fill="none" stroke="#e36f00" stroke-width="3"/>
<polygon points="289.3,606.5 320.9,654.8 325.7,651.2 294.1,602.9" fill="#7a3e7f"/><polygon points="294.1,602.9 325.7,651.2 330.5,647.6 298.9,599.3" fill="#b97eb2"/><polygon points="320.9,654.8 350.5,688.3 355.3,684.7 325.7,651.2" fill="#8e9c12"/><polygon points="325.7,651.2 355.3,684.7 360.1,681.1 330.5,647.6" fill="#a9ba3c"/><polygon points="289.3,606.5 350.5,688.3 360.1,681.1 298.9,599.3" fill="none" stroke="#000" stroke-width="1"/>
<polygon points="330.8,596.6 358.4,630.1 363.2,626.5 335.6,593.0" fill="#8e9c12"/><polygon points="335.6,593.0 363.2,626.5 368.0,622.9 340.4,589.4" fill="#a9ba3c"/><polygon points="358.4,630.1 390.9,675.5 395.7,671.9 363.2,626.5" fill="#7a3e7f"/><polygon points="363.2,626.5 395.7,671.9 400.5,668.3 368.0,622.9" fill="#b97eb2"/><polygon points="330.8,596.6 390.9,675.5 400.5,668.3 340.4,589.4" fill="none" stroke="#000" stroke-width="1"/>
<polygon points="281.1,648.7 292.3,662.8 297.0,659.0 285.8,644.9" fill="#8e9c12"/><polygon points="285.8,644.9 297.0,659.0 301.7,655.2 290.5,641.1" fill="#a9ba3c"/><polygon points="292.3,662.8 305.3,678.8 310.0,675.0 297.0,659.0" fill="#8e9c12"/><polygon points="297.0,659.0 310.0,675.0 314.7,671.2 301.7,655.2" fill="#a9ba3c"/><polygon points="281.1,648.7 305.3,678.8 314.7,671.2 290.5,641.1" fill="none" stroke="#000" stroke-width="1"/>
<polygon points="251.5,683.9 259.0,692.4 263.5,688.5 256.0,680.0" fill="#7a3e7f"/><polygon points="256.0,680.0 263.5,688.5 268.0,684.6 260.5,676.1" fill="#b97eb2"/><polygon points="259.0,692.4 274.5,710.4 279.0,706.5 263.5,688.5" fill="#8e9c12"/><polygon points="263.5,688.5 279.0,706.5 283.5,702.6 268.0,684.6" fill="#a9ba3c"/><polygon points="251.5,683.9 274.5,710.4 283.5,702.6 260.5,676.1" fill="none" stroke="#000" stroke-width="1"/>
<polygon points="414.3,530.5 445.9,578.8 450.7,575.2 419.1,526.9" fill="#7a3e7f"/><polygon points="419.1,526.9 450.7,575.2 455.5,571.6 423.9,523.3" fill="#b97eb2"/><polygon points="445.9,578.8 475.5,612.3 480.3,608.7 450.7,575.2" fill="#8e9c12"/><polygon points="450.7,575.2 480.3,608.7 485.1,605.1 455.5,571.6" fill="#a9ba3c"/><polygon points="414.3,530.5 475.5,612.3 485.1,605.1 423.9,523.3" fill="none" stroke="#000" stroke-width="1"/>
<polygon points="455.8,520.6 483.4,554.1 488.2,550.5 460.6,517.0" fill="#8e9c12"/><polygon points="460.6,517.0 488.2,550.5 493.0,546.9 465.4,513.4" fill="#a9ba3c"/><polygon points="483.4,554.1 515.9,599.5 520.7,595.9 488.2,550.5" fill="#7a3e7f"/><polygon points="488.2,550.5 520.7,595.9 525.5,592.3 493.0,546.9" fill="#b97eb2"/><polygon points="455.8,520.6 515.9,599.5 525.5,592.3 465.4,513.4" fill="none" stroke="#000" stroke-width="1"/>
<polygon points="406.1,572.7 417.3,586.8 422.0,583.0 410.8,568.9" fill="#8e9c12"/><polygon points="410.8,568.9 422.0,583.0 426.7,579.2 415.5,565.1" fill="#a9ba3c"/><polygon points="417.3,586.8 430.3,602.8 435.0,599.0 422.0,583.0" fill="#8e9c12"/><polygon points="422.0,583.0 435.0,599.0 439.7,595.2 426.7,579.2" fill="#a9ba3c"/><polygon points="406.1,572.7 430.3,602.8 439.7,595.2 415.5,565.1" fill="none" stroke="#000" stroke-width="1"/>
<polygon points="376.5,607.9 384.0,616.4 388.5,612.5 381.0,604.0" fill="#7a3e7f"/><polygon points="381.0,604.0 388.5,612.5 393.0,608.6 385.5,600.1" fill="#b97eb2"/><polygon points="384.0,616.4 399.5,634.4 404.0,630.5 388.5,612.5" fill="#8e9c12"/><polygon points="388.5,612.5 404.0,630.5 408.5,626.6 393.0,608.6" fill="#a9ba3c"/><polygon points="376.5,607.9 399.5,634.4 408.5,626.6 385.5,600.1" fill="none" stroke="#000" stroke-width="1"/>
<polygon points="539.3,454.5 570.9,502.8 575.7,499.2 544.1,450.9" fill="#7a3e7f"/><polygon points="544.1,450.9 575.7,499.2 580.5,495.6 548.9,447.3" fill="#b97eb2"/><polygon points="570.9,502.8 600.5,536.3 605.3,532.7 575.7,499.2" fill="#8e9c12"/><polygon points="575.7,499.2 605.3,532.7 610.1,529.1 580.5,495.6" fill="#a9ba3c"/><polygon points="539.3,454.5 600.5,536.3 610.1,529.1 548.9,447.3" fill="none" stroke="#000" stroke-width="1"/>
<polygon points="580.8,444.6 608.4,478.1 613.2,474.5 585.6,441.0" fill="#8e9c12"/><polygon points="585.6,441.0 613.2,474.5 618.0,470.9 590.4,437.4" fill="#a9ba3c"/><polygon points="608.4,478.1 640.9,523.5 645.7,519.9 613.2,474.5" fill="#7a3e7f"/><polygon points="613.2,474.5 645.7,519.9 650.5,516.3 618.0,470.9" fill="#b97eb2"/><polygon points="580.8,444.6 640.9,523.5 650.5,516.3 590.4,437.4" fill="none" stroke="#000" stroke-width="1"/>
<polygon points="531.1,496.7 542.3,510.8 547.0,507.0 535.8,492.9" fill="#8e9c12"/><polygon points="535.8,492.9 547.0,507.0 551.7,503.2 540.5,489.1" fill="#a9ba3c"/><polygon points="542.3,510.8 555.3,526.8 560.0,523.0 547.0,507.0" fill="#8e9c12"/><polygon points="547.0,507.0 560.0,523.0 564.7,519.2 551.7,503.2" fill="#a9ba3c"/><polygon points="531.1,496.7 555.3,526.8 564.7,519.2 540.5,489.1" fill="none" stroke="#000" stroke-width="1"/>
<polygon points="501.5,531.9 509.0,540.4 513.5,536.5 506.0,528.0" fill="#7a3e7f"/><polygon points="506.0,528.0 513.5,536.5 518.0,532.6 510.5,524.1" fill="#b97eb2"/><polygon points="509.0,540.4 524.5,558.4 529.0,554.5 513.5,536.5" fill="#8e9c12"/><polygon points="513.5,536.5 529.0,554.5 533.5,550.6 518.0,532.6" fill="#a9ba3c"/><polygon points="501.5,531.9 524.5,558.4 533.5,550.6 510.5,524.1" fill="none" stroke="#000" stroke-width="1"/>
<polygon points="664.3,378.5 695.9,426.8 700.7,423.2 669.1,374.9" fill="#7a3e7f"/><polygon points="669.1,374.9 700.7,423.2 705.5,419.6 673.9,371.3" fill="#b97eb2"/><polygon points="695.9,426.8 725.5,460.3 730.3,456.7 700.7,423.2" fill="#8e9c12"/><polygon points="700.7,423.2 730.3,456.7 735.1,453.1 705.5,419.6" fill="#a9ba3c"/><polygon points="664.3,378.5 725.5,460.3 735.1,453.1 673.9,371.3" fill="none" stroke="#000" stroke-width="1"/>
<polygon points="705.8,368.6 733.4,402.1 738.2,398.5 710.6,365.0" fill="#8e9c12"/><polygon points="710.6,365.0 738.2,398.5 743.0,394.9 715.4,361.4" fill="#a9ba3c"/><polygon points="733.4,402.1 765.9,447.5 770.7,443.9 738.2,398.5" fill="#7a3e7f"/><polygon points="738.2,398.5 770.7,443.9 775.5,440.3 743.0,394.9" fill="#b97eb2"/><polygon points="705.8,368.6 765.9,447.5 775.5,440.3 715.4,361.4" fill="none" stroke="#000" stroke-width="1"/>
<polygon points="656.1,420.7 667.3,434.8 672.0,431.0 660.8,416.9" fill="#8e9c12"/><polygon points="660.8,416.9 672.0,431.0 676.7,427.2 665.5,413.1" fill="#a9ba3c"/><polygon points="667.3,434.8 680.3,450.8 685.0,447.0 672.0,431.0" fill="#8e9c12"/><polygon points="672.0,431.0 685.0,447.0 689.7,443.2 676.7,427.2" fill="#a9ba3c"/><polygon points="656.1,420.7 680.3,450.8 689.7,443.2 665.5,413.1" fill="none" stroke="#000" stroke-width="1"/>
<polygon points="626.5,455.9 634.0,464.4 638.5,460.5 631.0,452.0" fill="#7a3e7f"/><polygon points="631.0,452.0 638.5,460.5 643.0,456.6 635.5,448.1" fill="#b97eb2"/><polygon points="634.0,464.4 649.5,482.4 654.0,478.5 638.5,460.5" fill="#8e9c12"/><polygon points="638.5,460.5 654.0,478.5 658.5,474.6 643.0,456.6" fill="#a9ba3c"/><polygon points="626.5,455.9 649.5,482.4 658.5,474.6 635.5,448.1" fill="none" stroke="#000" stroke-width="1"/>
<polygon points="789.3,302.5 820.9,350.8 825.7,347.2 794.1,298.9" fill="#7a3e7f"/><polygon points="794.1,298.9 825.7,347.2 830.5,343.6 798.9,295.3" fill="#b97eb2"/><polygon points="820.9,350.8 850.5,384.3 855.3,380.7 825.7,347.2" fill="#8e9c12"/><polygon points="825.7,347.2 855.3,380.7 860.1,377.1 830.5,343.6" fill="#a9ba3c"/><polygon points="789.3,302.5 850.5,384.3 860.1,377.1 798.9,295.3" fill="none" stroke="#000" stroke-width="1"/>
<polygon points="830.8,292.6 858.4,326.1 863.2,322.5 835.6,289.0" fill="#8e9c12"/><polygon points="835.6,289.0 863.2,322.5 868.0,318.9 840.4,285.4" fill="#a9ba3c"/><polygon points="858.4,326.1 890.9,371.5 895.7,367.9 863.2,322.5" fill="#7a3e7f"/><polygon points="863.2,322.5 895.7,367.9 900.5,364.3 868.0,318.9" fill="#b97eb2"/><polygon points="830.8,292.6 890.9,371.5 900.5,364.3 840.4,285.4" fill="none" stroke="#000" stroke-width="1"/>
<polygon points="781.1,344.7 792.3,358.8 797.0,355.0 785.8,340.9" fill="#8e9c12"/><polygon points="785.8,340.9 797.0,355.0 801.7,351.2 790.5,337.1" fill="#a9ba3c"/><polygon points="792.3,358.8 805.3,374.8 810.0,371.0 797.0,355.0" fill="#8e9c12"/><polygon points="797.0,355.0 810.0,371.0 814.7,367.2 801.7,351.2" fill="#a9ba3c"/><polygon points="781.1,344.7 805.3,374.8 814.7,367.2 790.5,337.1" fill="none" stroke="#000" stroke-width="1"/>
<polygon points="751.5,379.9 759.0,388.4 763.5,384.5 756.0,376.0" fill="#7a3e7f"/><polygon points="756.0,376.0 763.5,384.5 768.0,380.6 760.5,372.1" fill="#b97eb2"/><polygon points="759.0,388.4 774.5,406.4 779.0,402.5 763.5,384.5" fill="#8e9c12"/><polygon points="763.5,384.5 779.0,402.5 783.5,398.6 768.0,380.6" fill="#a9ba3c"/><polygon points="751.5,379.9 774.5,406.4 783.5,398.6 760.5,372.1" fill="none" stroke="#000" stroke-width="1"/>
<polygon points="914.3,226.5 945.9,274.8 950.7,271.2 919.1,222.9" fill="#7a3e7f"/><polygon points="919.1,222.9 950.7,271.2 955.5,267.6 923.9,219.3" fill="#b97eb2"/><polygon points="945.9,274.8 975.5,308.3 980.3,304.7 950.7,271.2" fill="#8e9c12"/><polygon points="950.7,271.2 980.3,304.7 985.1,301.1 955.5,267.6" fill="#a9ba3c"/><polygon points="914.3,226.5 975.5,308.3 985.1,301.1 923.9,219.3" fill="none" stroke="#000" stroke-width="1"/>
<polygon points="906.1,268.7 917.3,282.8 922.0,279.0 910.8,264.9" fill="#8e9c12"/><polygon points="910.8,264.9 922.0,279.0 926.7,275.2 915.5,261.1" fill="#a9ba3c"/><polygon points="917.3,282.8 930.3,298.8 935.0,295.0 922.0,279.0" fill="#8e9c12"/><polygon points="922.0,279.0 935.0,295.0 939.7,291.2 926.7,275.2" fill="#a9ba3c"/><polygon points="906.1,268.7 930.3,298.8 939.7,291.2 915.5,261.1" fill="none" stroke="#000" stroke-width="1"/>
<polygon points="876.5,303.9 884.0,312.4 888.5,308.5 881.0,300.0" fill="#7a3e7f"/><polygon points="881.0,300.0 888.5,308.5 893.0,304.6 885.5,296.1" fill="#b97eb2"/><polygon points="884.0,312.4 899.5,330.4 904.0,326.5 888.5,308.5" fill="#8e9c12"/><polygon points="888.5,308.5 904.0,326.5 908.5,322.6 893.0,304.6" fill="#a9ba3c"/><polygon points="876.5,303.9 899.5,330.4 908.5,322.6 885.5,296.1" fill="none" stroke="#000" stroke-width="1"/>
<polygon points="212.6,672.7 233.3,705.2 238.5,702.1 217.8,669.6" fill="#8e9c12"/><polygon points="217.8,669.6 238.5,702.1 243.7,699.0 223.0,666.5" fill="#a9ba3c"/><polygon points="233.3,705.2 259.9,752.6 265.1,749.5 238.5,702.1" fill="#7a3e7f"/><polygon points="238.5,702.1 265.1,749.5 270.3,746.4 243.7,699.0" fill="#b97eb2"/><polygon points="212.6,672.7 259.9,752.6 270.3,746.4 223.0,666.5" fill="none" stroke="#000" stroke-width="1"/>
<path d="M171.4,673.9 C174.4,672.4 183.3,668.5 189.6,665.0 C195.9,661.5 202.6,655.9 209.3,652.6 C216.0,649.3 222.8,646.4 229.6,645.4 C236.4,644.4 243.4,645.3 250.0,646.5 C256.6,647.7 262.6,649.9 269.0,652.8 C275.4,655.7 281.6,660.9 288.2,664.0 C294.8,667.1 300.2,668.7 308.5,671.6 C316.8,674.5 329.1,679.1 338.0,681.4 C346.9,683.7 354.7,685.3 362.0,685.4 C369.3,685.5 375.7,684.4 382.0,682.0 C388.3,679.6 395.0,675.3 400.0,671.0 C405.0,666.7 410.0,658.5 412.0,656.0 L412.0,656.0 C410.3,659.0 406.3,668.3 402.0,674.0 C397.7,679.7 392.7,685.2 386.0,690.0 C379.3,694.8 369.7,700.0 362.0,703.0 C354.3,706.0 347.3,707.6 340.0,708.0 C332.7,708.4 326.8,707.1 318.3,705.1 C309.8,703.1 298.7,699.8 288.8,696.2 C278.9,692.6 269.1,687.7 259.2,683.4 C249.3,679.1 239.5,673.1 229.6,670.6 C219.7,668.1 207.7,668.2 200.0,668.6 C192.3,669.0 188.2,671.7 183.7,672.9 C179.2,674.1 174.6,675.4 172.8,675.9 Z" fill="#e36f00" stroke="#000" stroke-width="1.0"/>
<path d="M307.0,593.5 C308.3,592.8 310.1,591.8 314.6,589.0 C319.2,586.2 327.6,579.9 334.3,576.6 C341.0,573.3 347.8,570.4 354.6,569.4 C361.4,568.4 368.4,569.3 375.0,570.5 C381.6,571.7 387.6,573.9 394.0,576.8 C400.4,579.7 406.6,584.9 413.2,588.0 C419.8,591.1 425.2,592.7 433.5,595.6 C441.8,598.5 454.1,603.1 463.0,605.4 C471.9,607.7 479.7,609.3 487.0,609.4 C494.3,609.5 500.7,608.4 507.0,606.0 C513.3,603.6 520.0,599.3 525.0,595.0 C530.0,590.7 535.0,582.5 537.0,580.0 L537.0,580.0 C535.3,583.0 531.3,592.3 527.0,598.0 C522.7,603.7 517.7,609.2 511.0,614.0 C504.3,618.8 494.7,624.0 487.0,627.0 C479.3,630.0 472.3,631.6 465.0,632.0 C457.7,632.4 451.8,631.1 443.3,629.1 C434.8,627.1 423.7,623.8 413.8,620.2 C403.9,616.6 394.1,611.7 384.2,607.4 C374.3,603.1 364.5,597.1 354.6,594.6 C344.7,592.1 332.6,592.2 325.0,592.6 C317.4,593.0 311.7,596.3 308.7,596.9 C305.7,597.5 307.3,596.1 307.0,596.0 Z" fill="#e36f00" stroke="#000" stroke-width="1.0"/>
<path d="M432.0,517.5 C433.3,516.8 435.1,515.8 439.6,513.0 C444.2,510.2 452.6,503.9 459.3,500.6 C466.0,497.3 472.8,494.4 479.6,493.4 C486.4,492.4 493.4,493.3 500.0,494.5 C506.6,495.7 512.6,497.9 519.0,500.8 C525.4,503.7 531.6,508.9 538.2,512.0 C544.8,515.1 550.2,516.7 558.5,519.6 C566.8,522.5 579.1,527.1 588.0,529.4 C596.9,531.7 604.7,533.3 612.0,533.4 C619.3,533.5 625.7,532.4 632.0,530.0 C638.3,527.6 645.0,523.3 650.0,519.0 C655.0,514.7 660.0,506.5 662.0,504.0 L662.0,504.0 C660.3,507.0 656.3,516.3 652.0,522.0 C647.7,527.7 642.7,533.2 636.0,538.0 C629.3,542.8 619.7,548.0 612.0,551.0 C604.3,554.0 597.3,555.6 590.0,556.0 C582.7,556.4 576.8,555.1 568.3,553.1 C559.8,551.1 548.6,547.8 538.8,544.2 C528.9,540.6 519.1,535.7 509.2,531.4 C499.3,527.1 489.5,521.1 479.6,518.6 C469.7,516.1 457.6,516.2 450.0,516.6 C442.4,517.0 436.7,520.3 433.7,520.9 C430.7,521.5 432.3,520.1 432.0,520.0 Z" fill="#e36f00" stroke="#000" stroke-width="1.0"/>
<path d="M557.0,441.5 C558.3,440.8 560.1,439.8 564.6,437.0 C569.1,434.2 577.6,427.9 584.3,424.6 C591.0,421.3 597.8,418.4 604.6,417.4 C611.4,416.4 618.4,417.3 625.0,418.5 C631.6,419.7 637.6,421.9 644.0,424.8 C650.4,427.7 656.6,432.9 663.2,436.0 C669.8,439.1 675.2,440.7 683.5,443.6 C691.8,446.5 704.1,451.1 713.0,453.4 C721.9,455.7 729.7,457.3 737.0,457.4 C744.3,457.5 750.7,456.4 757.0,454.0 C763.3,451.6 770.0,447.3 775.0,443.0 C780.0,438.7 785.0,430.5 787.0,428.0 L787.0,428.0 C785.3,431.0 781.3,440.3 777.0,446.0 C772.7,451.7 767.7,457.2 761.0,462.0 C754.3,466.8 744.7,472.0 737.0,475.0 C729.3,478.0 722.3,479.6 715.0,480.0 C707.7,480.4 701.8,479.1 693.3,477.1 C684.8,475.1 673.6,471.8 663.8,468.2 C653.9,464.6 644.1,459.7 634.2,455.4 C624.3,451.1 614.5,445.1 604.6,442.6 C594.7,440.1 582.6,440.2 575.0,440.6 C567.4,441.0 561.7,444.3 558.7,444.9 C555.7,445.5 557.3,444.1 557.0,444.0 Z" fill="#e36f00" stroke="#000" stroke-width="1.0"/>
<path d="M682.0,365.5 C683.3,364.8 685.1,363.8 689.6,361.0 C694.1,358.2 702.6,351.9 709.3,348.6 C716.0,345.3 722.8,342.4 729.6,341.4 C736.4,340.4 743.4,341.3 750.0,342.5 C756.6,343.7 762.6,345.9 769.0,348.8 C775.4,351.7 781.6,356.9 788.2,360.0 C794.8,363.1 800.2,364.7 808.5,367.6 C816.8,370.5 829.1,375.1 838.0,377.4 C846.9,379.7 854.7,381.3 862.0,381.4 C869.3,381.5 875.7,380.4 882.0,378.0 C888.3,375.6 895.0,371.3 900.0,367.0 C905.0,362.7 910.0,354.5 912.0,352.0 L912.0,352.0 C910.3,355.0 906.3,364.3 902.0,370.0 C897.7,375.7 892.7,381.2 886.0,386.0 C879.3,390.8 869.7,396.0 862.0,399.0 C854.3,402.0 847.3,403.6 840.0,404.0 C832.7,404.4 826.8,403.1 818.3,401.1 C809.8,399.1 798.6,395.8 788.8,392.2 C778.9,388.6 769.1,383.7 759.2,379.4 C749.3,375.1 739.5,369.1 729.6,366.6 C719.7,364.1 707.6,364.2 700.0,364.6 C692.4,365.0 686.7,368.3 683.7,368.9 C680.7,369.5 682.3,368.1 682.0,368.0 Z" fill="#e36f00" stroke="#000" stroke-width="1.0"/>
<path d="M807.0,289.5 C808.3,288.8 810.1,287.8 814.6,285.0 C819.1,282.2 827.6,275.9 834.3,272.6 C841.0,269.3 847.8,266.4 854.6,265.4 C861.4,264.4 868.4,265.3 875.0,266.5 C881.6,267.7 887.6,269.9 894.0,272.8 C900.4,275.7 906.6,280.9 913.2,284.0 C919.8,287.1 925.2,288.7 933.5,291.6 C941.8,294.5 955.6,299.8 963.0,301.4 C970.4,303.0 972.0,301.0 977.8,301.4 C983.6,301.8 991.5,304.7 998.0,304.0 C1004.5,303.3 1013.8,298.2 1017.0,297.0 L1017.0,299.0 C1012.7,301.2 1000.1,307.7 991.3,312.2 C982.5,316.7 972.2,323.6 964.2,325.8 C956.2,327.9 951.7,326.7 943.3,325.1 C934.9,323.5 923.6,319.8 913.8,316.2 C903.9,312.6 894.1,307.7 884.2,303.4 C874.3,299.1 864.5,293.1 854.6,290.6 C844.7,288.1 832.6,288.2 825.0,288.6 C817.4,289.0 811.7,292.3 808.7,292.9 C805.7,293.5 807.3,292.1 807.0,292.0 Z" fill="#e36f00" stroke="#000" stroke-width="1.0"/></g>
<defs><mask id="bite" maskUnits="userSpaceOnUse" x="1200" y="900" width="300" height="300"><rect x="1200" y="900" width="300" height="300" fill="#fff"/><circle cx="1306" cy="1083.4" r="33.8" fill="#000"/></mask><clipPath id="bigc"><circle cx="1367.2" cy="1054.6" r="71.2"/></clipPath></defs>
<g mask="url(#bite)">
<circle cx="1367.2" cy="1054.6" r="71.2" fill="#aec6e2"/>
<circle cx="1361.5" cy="1053" r="66" fill="#d3e3f4" clip-path="url(#bigc)"/>
<circle cx="1367.2" cy="1054.6" r="71.2" fill="none" stroke="#000" stroke-width="1.6"/>
</g>
<g clip-path="url(#bigc)"><circle cx="1306" cy="1083.4" r="33.8" fill="none" stroke="#000" stroke-width="1.6"/></g>
<defs>
<linearGradient id="trayg" x1="0" y1="0" x2="1" y2="0"><stop offset="0" stop-color="#dadbde"/><stop offset="0.85" stop-color="#ffffff"/><stop offset="1" stop-color="#ffffff"/></linearGradient>
<linearGradient id="frontg" x1="0" y1="0" x2="1" y2="0"><stop offset="0" stop-color="#a7a8ac"/><stop offset="1" stop-color="#b6b7ba"/></linearGradient>
<linearGradient id="sideg" x1="0" y1="1" x2="1" y2="0"><stop offset="0" stop-color="#a0a1a5"/><stop offset="1" stop-color="#acadb0"/></linearGradient>
<radialGradient id="btng" cx="0.45" cy="0.4" r="0.6"><stop offset="0" stop-color="#ffffff"/><stop offset="0.5" stop-color="#f2f2f2"/><stop offset="1" stop-color="#c9c9cb"/></radialGradient>
</defs>
<path d="M130,1813 L130,1784 Q180,1777 246,1776 L246,1813 Z" fill="#a5a6aa" stroke="#1a1a1a" stroke-width="2"/>
<rect x="228" y="1783" width="19" height="30" fill="#818286"/>
<path d="M569,1779 Q590,1780 595.5,1784 L595.5,1835 L569,1835 Z" fill="#818286" stroke="#1a1a1a" stroke-width="2"/>
<path d="M241,1747 L575,1747 L575,1753 L569.3,1753 L569.3,1767 L247.2,1767 L247.2,1753 L241,1753 Z" fill="#d5eaf6" stroke="#1a1a1a" stroke-width="2"/>
<rect x="253.3" y="1760.2" width="309" height="6" fill="#e6f3fa" stroke="#9fb6c4" stroke-width="0.8"/>
<rect x="247.2" y="1767" width="322" height="47" fill="url(#trayg)" stroke="#1a1a1a" stroke-width="2"/>
<rect x="261" y="1808" width="10" height="5" fill="#ddd" stroke="#666" stroke-width="0.8"/>
<rect x="546" y="1808" width="10" height="5" fill="#ddd" stroke="#666" stroke-width="0.8"/>
<rect x="444.5" y="1829.3" width="133" height="6" fill="#4d4d4f"/>
<path d="M430,1813.2 L577,1813.2 Q582,1813.2 582,1818 L582,1829.3 L430,1829.3 Z" fill="#fff" stroke="#1a1a1a" stroke-width="2"/>
<rect x="444.5" y="1834.5" width="151" height="267.5" fill="url(#sideg)" stroke="#1a1a1a" stroke-width="2"/>
<rect x="588" y="1840" width="5" height="250" fill="#b3b4b7" opacity="0.6"/>
<path d="M445.5,1980 C452,2050 500,2095 588,2101 L445.5,2101 Z" fill="#939396"/>
<rect x="444.5" y="1834.5" width="151" height="267.5" fill="none" stroke="#1a1a1a" stroke-width="2"/>
<path d="M116.8,2102 L116.8,1829 Q116.8,1813.2 132,1813.2 L429,1813.2 Q444.5,1813.2 444.5,1829 L444.5,2102 Z" fill="url(#frontg)" stroke="#1a1a1a" stroke-width="2"/>
<polygon points="196,1856.9 365.5,1856.9 365.5,1965.4 357,1956.9 357,1864.7 204.4,1864.7" fill="#7b7c80"/>
<polygon points="196,1856.9 204.4,1864.7 204.4,1956.9 357,1956.9 365.5,1965.4 196,1965.4" fill="#d1d2d5"/>
<rect x="204.4" y="1864.7" width="152.6" height="92.2" fill="#000"/>
<ellipse cx="188.0" cy="1990.3" rx="13.2" ry="9.6" fill="#c6c7c9" transform="rotate(28 188.8 1989.5)"/>
<ellipse cx="189.60000000000002" cy="1988.7" rx="13" ry="9.4" fill="#6f7074" transform="rotate(28 188.8 1989.5)"/>
<ellipse cx="188.8" cy="1989.5" rx="12" ry="8.6" fill="#e4e5e7" transform="rotate(28 188.8 1989.5)"/>
<ellipse cx="190.8" cy="1987.9" rx="6.8" ry="4.8" fill="#ffffff" transform="rotate(28 188.8 1989.5)"/>
<ellipse cx="224.7" cy="1990.3" rx="13.2" ry="9.6" fill="#c6c7c9" transform="rotate(28 225.5 1989.5)"/>
<ellipse cx="226.3" cy="1988.7" rx="13" ry="9.4" fill="#6f7074" transform="rotate(28 225.5 1989.5)"/>
<ellipse cx="225.5" cy="1989.5" rx="12" ry="8.6" fill="#e4e5e7" transform="rotate(28 225.5 1989.5)"/>
<ellipse cx="227.5" cy="1987.9" rx="6.8" ry="4.8" fill="#ffffff" transform="rotate(28 225.5 1989.5)"/>
<ellipse cx="261.2" cy="1990.3" rx="13.2" ry="9.6" fill="#c6c7c9" transform="rotate(28 262 1989.5)"/>
<ellipse cx="262.8" cy="1988.7" rx="13" ry="9.4" fill="#6f7074" transform="rotate(28 262 1989.5)"/>
<ellipse cx="262" cy="1989.5" rx="12" ry="8.6" fill="#e4e5e7" transform="rotate(28 262 1989.5)"/>
<ellipse cx="264" cy="1987.9" rx="6.8" ry="4.8" fill="#ffffff" transform="rotate(28 262 1989.5)"/>
<ellipse cx="298.2" cy="1990.3" rx="13.2" ry="9.6" fill="#c6c7c9" transform="rotate(28 299 1989.5)"/>
<ellipse cx="299.8" cy="1988.7" rx="13" ry="9.4" fill="#6f7074" transform="rotate(28 299 1989.5)"/>
<ellipse cx="299" cy="1989.5" rx="12" ry="8.6" fill="#e4e5e7" transform="rotate(28 299 1989.5)"/>
<ellipse cx="301" cy="1987.9" rx="6.8" ry="4.8" fill="#ffffff" transform="rotate(28 299 1989.5)"/>
<ellipse cx="334.9" cy="1990.3" rx="13.2" ry="9.6" fill="#c6c7c9" transform="rotate(28 335.7 1989.5)"/>
<ellipse cx="336.5" cy="1988.7" rx="13" ry="9.4" fill="#6f7074" transform="rotate(28 335.7 1989.5)"/>
<ellipse cx="335.7" cy="1989.5" rx="12" ry="8.6" fill="#e4e5e7" transform="rotate(28 335.7 1989.5)"/>
<ellipse cx="337.7" cy="1987.9" rx="6.8" ry="4.8" fill="#ffffff" transform="rotate(28 335.7 1989.5)"/>
<ellipse cx="371.5" cy="1990.3" rx="13.2" ry="9.6" fill="#c6c7c9" transform="rotate(28 372.3 1989.5)"/>
<ellipse cx="373.1" cy="1988.7" rx="13" ry="9.4" fill="#6f7074" transform="rotate(28 372.3 1989.5)"/>
<ellipse cx="372.3" cy="1989.5" rx="12" ry="8.6" fill="#e4e5e7" transform="rotate(28 372.3 1989.5)"/>
<ellipse cx="374.3" cy="1987.9" rx="6.8" ry="4.8" fill="#ffffff" transform="rotate(28 372.3 1989.5)"/>
<ellipse cx="243.2" cy="2016.3999999999999" rx="13.2" ry="9.6" fill="#c6c7c9" transform="rotate(28 244 2015.6)"/>
<ellipse cx="244.8" cy="2014.8" rx="13" ry="9.4" fill="#6f7074" transform="rotate(28 244 2015.6)"/>
<ellipse cx="244" cy="2015.6" rx="12" ry="8.6" fill="#e4e5e7" transform="rotate(28 244 2015.6)"/>
<ellipse cx="246" cy="2014.0" rx="6.8" ry="4.8" fill="#ffffff" transform="rotate(28 244 2015.6)"/>
<ellipse cx="316.2" cy="2016.3999999999999" rx="13.2" ry="9.6" fill="#c6c7c9" transform="rotate(28 317 2015.6)"/>
<ellipse cx="317.8" cy="2014.8" rx="13" ry="9.4" fill="#6f7074" transform="rotate(28 317 2015.6)"/>
<ellipse cx="317" cy="2015.6" rx="12" ry="8.6" fill="#e4e5e7" transform="rotate(28 317 2015.6)"/>
<ellipse cx="319" cy="2014.0" rx="6.8" ry="4.8" fill="#ffffff" transform="rotate(28 317 2015.6)"/>
<polygon points="757.3,2326.0 999.0,2186.6 1118.5,2253.2 876.9,2392.5" fill="#c0c0c0" stroke="#000" stroke-width="2" stroke-linejoin="round"/>
<polygon points="757.3,2326.0 876.9,2392.5 876.9,2448.0 757.3,2379.0" fill="#8a8a8a" stroke="#000" stroke-width="2" stroke-linejoin="round"/>
<polygon points="876.9,2392.5 1118.5,2253.2 1118.5,2307.4 876.9,2448.0" fill="#a0a0a0" stroke="#000" stroke-width="2" stroke-linejoin="round"/>
<polygon points="930.5,2389.5 930.4,2391.3 938.2,2395.8 938.3,2394.0" fill="#5c5c5c" stroke="#5c5c5c" stroke-width="0.6"/><polygon points="930.4,2391.3 930.1,2393.2 937.9,2397.7 938.2,2395.8" fill="#5c5c5c" stroke="#5c5c5c" stroke-width="0.6"/><polygon points="930.1,2393.2 929.5,2395.1 937.3,2399.6 937.9,2397.7" fill="#5c5c5c" stroke="#5c5c5c" stroke-width="0.6"/><polygon points="929.5,2395.1 928.7,2397.0 936.5,2401.5 937.3,2399.6" fill="#5c5c5c" stroke="#5c5c5c" stroke-width="0.6"/><polygon points="928.7,2397.0 927.7,2398.9 935.5,2403.4 936.5,2401.5" fill="#5c5c5c" stroke="#5c5c5c" stroke-width="0.6"/><polygon points="927.7,2398.9 926.6,2400.7 934.4,2405.2 935.5,2403.4" fill="#5c5c5c" stroke="#5c5c5c" stroke-width="0.6"/><polygon points="926.6,2400.7 925.3,2402.3 933.1,2406.8 934.4,2405.2" fill="#5c5c5c" stroke="#5c5c5c" stroke-width="0.6"/><polygon points="925.3,2402.3 923.9,2403.8 931.7,2408.3 933.1,2406.8" fill="#5c5c5c" stroke="#5c5c5c" stroke-width="0.6"/><polygon points="923.9,2403.8 922.5,2405.0 930.3,2409.5 931.7,2408.3" fill="#5c5c5c" stroke="#5c5c5c" stroke-width="0.6"/><polygon points="922.5,2405.0 921.0,2406.0 928.8,2410.5 930.3,2409.5" fill="#5c5c5c" stroke="#5c5c5c" stroke-width="0.6"/><polygon points="921.0,2406.0 919.5,2406.7 927.3,2411.2 928.8,2410.5" fill="#5c5c5c" stroke="#5c5c5c" stroke-width="0.6"/><polygon points="919.5,2406.7 918.1,2407.2 925.9,2411.7 927.3,2411.2" fill="#5c5c5c" stroke="#5c5c5c" stroke-width="0.6"/><polygon points="918.1,2407.2 916.7,2407.3 924.5,2411.8 925.9,2411.7" fill="#5c5c5c" stroke="#5c5c5c" stroke-width="0.6"/><polygon points="916.7,2407.3 915.4,2407.1 923.2,2411.6 924.5,2411.8" fill="#5c5c5c" stroke="#5c5c5c" stroke-width="0.6"/><polygon points="915.4,2407.1 914.3,2406.7 922.1,2411.2 923.2,2411.6" fill="#5c5c5c" stroke="#5c5c5c" stroke-width="0.6"/><polygon points="914.3,2406.7 913.3,2405.9 921.1,2410.4 922.1,2411.2" fill="#5c5c5c" stroke="#5c5c5c" stroke-width="0.6"/><polygon points="913.3,2405.9 912.5,2404.9 920.3,2409.4 921.1,2410.4" fill="#5c5c5c" stroke="#5c5c5c" stroke-width="0.6"/><polygon points="912.5,2404.9 911.9,2403.6 919.7,2408.1 920.3,2409.4" fill="#5c5c5c" stroke="#5c5c5c" stroke-width="0.6"/><polygon points="911.9,2403.6 911.6,2402.2 919.4,2406.7 919.7,2408.1" fill="#5c5c5c" stroke="#5c5c5c" stroke-width="0.6"/><polygon points="911.6,2402.2 911.5,2400.5 919.3,2405.0 919.4,2406.7" fill="#5c5c5c" stroke="#5c5c5c" stroke-width="0.6"/><polygon points="911.5,2400.5 911.6,2398.7 919.4,2403.2 919.3,2405.0" fill="#5c5c5c" stroke="#5c5c5c" stroke-width="0.6"/><polygon points="911.6,2398.7 911.9,2396.8 919.7,2401.3 919.4,2403.2" fill="#5c5c5c" stroke="#5c5c5c" stroke-width="0.6"/><polygon points="911.9,2396.8 912.5,2394.9 920.3,2399.4 919.7,2401.3" fill="#5c5c5c" stroke="#5c5c5c" stroke-width="0.6"/><polygon points="912.5,2394.9 913.3,2393.0 921.1,2397.5 920.3,2399.4" fill="#5c5c5c" stroke="#5c5c5c" stroke-width="0.6"/><polygon points="913.3,2393.0 914.3,2391.1 922.1,2395.6 921.1,2397.5" fill="#5c5c5c" stroke="#5c5c5c" stroke-width="0.6"/><polygon points="914.3,2391.1 915.4,2389.3 923.2,2393.8 922.1,2395.6" fill="#5c5c5c" stroke="#5c5c5c" stroke-width="0.6"/><polygon points="915.4,2389.3 916.7,2387.7 924.5,2392.2 923.2,2393.8" fill="#5c5c5c" stroke="#5c5c5c" stroke-width="0.6"/><polygon points="916.7,2387.7 918.1,2386.2 925.9,2390.7 924.5,2392.2" fill="#5c5c5c" stroke="#5c5c5c" stroke-width="0.6"/><polygon points="918.1,2386.2 919.5,2385.0 927.3,2389.5 925.9,2390.7" fill="#5c5c5c" stroke="#5c5c5c" stroke-width="0.6"/><polygon points="919.5,2385.0 921.0,2384.0 928.8,2388.5 927.3,2389.5" fill="#5c5c5c" stroke="#5c5c5c" stroke-width="0.6"/><polygon points="921.0,2384.0 922.5,2383.3 930.3,2387.8 928.8,2388.5" fill="#5c5c5c" stroke="#5c5c5c" stroke-width="0.6"/><polygon points="922.5,2383.3 923.9,2382.8 931.7,2387.3 930.3,2387.8" fill="#5c5c5c" stroke="#5c5c5c" stroke-width="0.6"/><polygon points="923.9,2382.8 925.3,2382.7 933.1,2387.2 931.7,2387.3" fill="#5c5c5c" stroke="#5c5c5c" stroke-width="0.6"/><polygon points="925.3,2382.7 926.6,2382.9 934.4,2387.4 933.1,2387.2" fill="#5c5c5c" stroke="#5c5c5c" stroke-width="0.6"/><polygon points="926.6,2382.9 927.7,2383.3 935.5,2387.8 934.4,2387.4" fill="#5c5c5c" stroke="#5c5c5c" stroke-width="0.6"/><polygon points="927.7,2383.3 928.7,2384.1 936.5,2388.6 935.5,2387.8" fill="#5c5c5c" stroke="#5c5c5c" stroke-width="0.6"/><polygon points="928.7,2384.1 929.5,2385.1 937.3,2389.6 936.5,2388.6" fill="#5c5c5c" stroke="#5c5c5c" stroke-width="0.6"/><polygon points="929.5,2385.1 930.1,2386.4 937.9,2390.9 937.3,2389.6" fill="#5c5c5c" stroke="#5c5c5c" stroke-width="0.6"/><polygon points="930.1,2386.4 930.4,2387.8 938.2,2392.3 937.9,2390.9" fill="#5c5c5c" stroke="#5c5c5c" stroke-width="0.6"/><polygon points="930.4,2387.8 930.5,2389.5 938.3,2394.0 938.2,2392.3" fill="#5c5c5c" stroke="#5c5c5c" stroke-width="0.6"/><polygon points="930.5,2389.5 930.4,2391.3 930.1,2393.2 929.5,2395.1 928.7,2397.0 927.7,2398.9 926.6,2400.7 925.3,2402.3 923.9,2403.8 922.5,2405.0 921.0,2406.0 919.5,2406.7 918.1,2407.2 916.7,2407.3 915.4,2407.1 914.3,2406.7 913.3,2405.9 912.5,2404.9 911.9,2403.6 911.6,2402.2 911.5,2400.5 911.6,2398.7 911.9,2396.8 912.5,2394.9 913.3,2393.0 914.3,2391.1 915.4,2389.3 916.7,2387.7 918.1,2386.2 919.5,2385.0 921.0,2384.0 922.5,2383.3 923.9,2382.8 925.3,2382.7 926.6,2382.9 927.7,2383.3 928.7,2384.1 929.5,2385.1 930.1,2386.4 930.4,2387.8" fill="#5c5c5c"/><polygon points="938.3,2394.0 938.2,2395.8 937.9,2397.7 937.3,2399.6 936.5,2401.5 935.5,2403.4 934.4,2405.2 933.1,2406.8 931.7,2408.3 930.3,2409.5 928.8,2410.5 927.3,2411.2 925.9,2411.7 924.5,2411.8 923.2,2411.6 922.1,2411.2 921.1,2410.4 920.3,2409.4 919.7,2408.1 919.4,2406.7 919.3,2405.0 919.4,2403.2 919.7,2401.3 920.3,2399.4 921.1,2397.5 922.1,2395.6 923.2,2393.8 924.5,2392.2 925.9,2390.7 927.3,2389.5 928.8,2388.5 930.3,2387.8 931.7,2387.3 933.1,2387.2 934.4,2387.4 935.5,2387.8 936.5,2388.6 937.3,2389.6 937.9,2390.9 938.2,2392.3" fill="#333333" stroke="#000" stroke-width="1.5"/><path d="M921.0,2406.0 A1,1 0 0 0 0,0" fill="none"/>
<polygon points="1079.5,2303.5 1079.4,2305.3 1087.2,2309.8 1087.3,2308.0" fill="#5c5c5c" stroke="#5c5c5c" stroke-width="0.6"/><polygon points="1079.4,2305.3 1079.1,2307.2 1086.9,2311.7 1087.2,2309.8" fill="#5c5c5c" stroke="#5c5c5c" stroke-width="0.6"/><polygon points="1079.1,2307.2 1078.5,2309.1 1086.3,2313.6 1086.9,2311.7" fill="#5c5c5c" stroke="#5c5c5c" stroke-width="0.6"/><polygon points="1078.5,2309.1 1077.7,2311.0 1085.5,2315.5 1086.3,2313.6" fill="#5c5c5c" stroke="#5c5c5c" stroke-width="0.6"/><polygon points="1077.7,2311.0 1076.7,2312.9 1084.5,2317.4 1085.5,2315.5" fill="#5c5c5c" stroke="#5c5c5c" stroke-width="0.6"/><polygon points="1076.7,2312.9 1075.6,2314.7 1083.4,2319.2 1084.5,2317.4" fill="#5c5c5c" stroke="#5c5c5c" stroke-width="0.6"/><polygon points="1075.6,2314.7 1074.3,2316.3 1082.1,2320.8 1083.4,2319.2" fill="#5c5c5c" stroke="#5c5c5c" stroke-width="0.6"/><polygon points="1074.3,2316.3 1072.9,2317.8 1080.7,2322.3 1082.1,2320.8" fill="#5c5c5c" stroke="#5c5c5c" stroke-width="0.6"/><polygon points="1072.9,2317.8 1071.5,2319.0 1079.3,2323.5 1080.7,2322.3" fill="#5c5c5c" stroke="#5c5c5c" stroke-width="0.6"/><polygon points="1071.5,2319.0 1070.0,2320.0 1077.8,2324.5 1079.3,2323.5" fill="#5c5c5c" stroke="#5c5c5c" stroke-width="0.6"/><polygon points="1070.0,2320.0 1068.5,2320.7 1076.3,2325.2 1077.8,2324.5" fill="#5c5c5c" stroke="#5c5c5c" stroke-width="0.6"/><polygon points="1068.5,2320.7 1067.1,2321.2 1074.9,2325.7 1076.3,2325.2" fill="#5c5c5c" stroke="#5c5c5c" stroke-width="0.6"/><polygon points="1067.1,2321.2 1065.7,2321.3 1073.5,2325.8 1074.9,2325.7" fill="#5c5c5c" stroke="#5c5c5c" stroke-width="0.6"/><polygon points="1065.7,2321.3 1064.4,2321.1 1072.2,2325.6 1073.5,2325.8" fill="#5c5c5c" stroke="#5c5c5c" stroke-width="0.6"/><polygon points="1064.4,2321.1 1063.3,2320.7 1071.1,2325.2 1072.2,2325.6" fill="#5c5c5c" stroke="#5c5c5c" stroke-width="0.6"/><polygon points="1063.3,2320.7 1062.3,2319.9 1070.1,2324.4 1071.1,2325.2" fill="#5c5c5c" stroke="#5c5c5c" stroke-width="0.6"/><polygon points="1062.3,2319.9 1061.5,2318.9 1069.3,2323.4 1070.1,2324.4" fill="#5c5c5c" stroke="#5c5c5c" stroke-width="0.6"/><polygon points="1061.5,2318.9 1060.9,2317.6 1068.7,2322.1 1069.3,2323.4" fill="#5c5c5c" stroke="#5c5c5c" stroke-width="0.6"/><polygon points="1060.9,2317.6 1060.6,2316.2 1068.4,2320.7 1068.7,2322.1" fill="#5c5c5c" stroke="#5c5c5c" stroke-width="0.6"/><polygon points="1060.6,2316.2 1060.5,2314.5 1068.3,2319.0 1068.4,2320.7" fill="#5c5c5c" stroke="#5c5c5c" stroke-width="0.6"/><polygon points="1060.5,2314.5 1060.6,2312.7 1068.4,2317.2 1068.3,2319.0" fill="#5c5c5c" stroke="#5c5c5c" stroke-width="0.6"/><polygon points="1060.6,2312.7 1060.9,2310.8 1068.7,2315.3 1068.4,2317.2" fill="#5c5c5c" stroke="#5c5c5c" stroke-width="0.6"/><polygon points="1060.9,2310.8 1061.5,2308.9 1069.3,2313.4 1068.7,2315.3" fill="#5c5c5c" stroke="#5c5c5c" stroke-width="0.6"/><polygon points="1061.5,2308.9 1062.3,2307.0 1070.1,2311.5 1069.3,2313.4" fill="#5c5c5c" stroke="#5c5c5c" stroke-width="0.6"/><polygon points="1062.3,2307.0 1063.3,2305.1 1071.1,2309.6 1070.1,2311.5" fill="#5c5c5c" stroke="#5c5c5c" stroke-width="0.6"/><polygon points="1063.3,2305.1 1064.4,2303.3 1072.2,2307.8 1071.1,2309.6" fill="#5c5c5c" stroke="#5c5c5c" stroke-width="0.6"/><polygon points="1064.4,2303.3 1065.7,2301.7 1073.5,2306.2 1072.2,2307.8" fill="#5c5c5c" stroke="#5c5c5c" stroke-width="0.6"/><polygon points="1065.7,2301.7 1067.1,2300.2 1074.9,2304.7 1073.5,2306.2" fill="#5c5c5c" stroke="#5c5c5c" stroke-width="0.6"/><polygon points="1067.1,2300.2 1068.5,2299.0 1076.3,2303.5 1074.9,2304.7" fill="#5c5c5c" stroke="#5c5c5c" stroke-width="0.6"/><polygon points="1068.5,2299.0 1070.0,2298.0 1077.8,2302.5 1076.3,2303.5" fill="#5c5c5c" stroke="#5c5c5c" stroke-width="0.6"/><polygon points="1070.0,2298.0 1071.5,2297.3 1079.3,2301.8 1077.8,2302.5" fill="#5c5c5c" stroke="#5c5c5c" stroke-width="0.6"/><polygon points="1071.5,2297.3 1072.9,2296.8 1080.7,2301.3 1079.3,2301.8" fill="#5c5c5c" stroke="#5c5c5c" stroke-width="0.6"/><polygon points="1072.9,2296.8 1074.3,2296.7 1082.1,2301.2 1080.7,2301.3" fill="#5c5c5c" stroke="#5c5c5c" stroke-width="0.6"/><polygon points="1074.3,2296.7 1075.6,2296.9 1083.4,2301.4 1082.1,2301.2" fill="#5c5c5c" stroke="#5c5c5c" stroke-width="0.6"/><polygon points="1075.6,2296.9 1076.7,2297.3 1084.5,2301.8 1083.4,2301.4" fill="#5c5c5c" stroke="#5c5c5c" stroke-width="0.6"/><polygon points="1076.7,2297.3 1077.7,2298.1 1085.5,2302.6 1084.5,2301.8" fill="#5c5c5c" stroke="#5c5c5c" stroke-width="0.6"/><polygon points="1077.7,2298.1 1078.5,2299.1 1086.3,2303.6 1085.5,2302.6" fill="#5c5c5c" stroke="#5c5c5c" stroke-width="0.6"/><polygon points="1078.5,2299.1 1079.1,2300.4 1086.9,2304.9 1086.3,2303.6" fill="#5c5c5c" stroke="#5c5c5c" stroke-width="0.6"/><polygon points="1079.1,2300.4 1079.4,2301.8 1087.2,2306.3 1086.9,2304.9" fill="#5c5c5c" stroke="#5c5c5c" stroke-width="0.6"/><polygon points="1079.4,2301.8 1079.5,2303.5 1087.3,2308.0 1087.2,2306.3" fill="#5c5c5c" stroke="#5c5c5c" stroke-width="0.6"/><polygon points="1079.5,2303.5 1079.4,2305.3 1079.1,2307.2 1078.5,2309.1 1077.7,2311.0 1076.7,2312.9 1075.6,2314.7 1074.3,2316.3 1072.9,2317.8 1071.5,2319.0 1070.0,2320.0 1068.5,2320.7 1067.1,2321.2 1065.7,2321.3 1064.4,2321.1 1063.3,2320.7 1062.3,2319.9 1061.5,2318.9 1060.9,2317.6 1060.6,2316.2 1060.5,2314.5 1060.6,2312.7 1060.9,2310.8 1061.5,2308.9 1062.3,2307.0 1063.3,2305.1 1064.4,2303.3 1065.7,2301.7 1067.1,2300.2 1068.5,2299.0 1070.0,2298.0 1071.5,2297.3 1072.9,2296.8 1074.3,2296.7 1075.6,2296.9 1076.7,2297.3 1077.7,2298.1 1078.5,2299.1 1079.1,2300.4 1079.4,2301.8" fill="#5c5c5c"/><polygon points="1087.3,2308.0 1087.2,2309.8 1086.9,2311.7 1086.3,2313.6 1085.5,2315.5 1084.5,2317.4 1083.4,2319.2 1082.1,2320.8 1080.7,2322.3 1079.3,2323.5 1077.8,2324.5 1076.3,2325.2 1074.9,2325.7 1073.5,2325.8 1072.2,2325.6 1071.1,2325.2 1070.1,2324.4 1069.3,2323.4 1068.7,2322.1 1068.4,2320.7 1068.3,2319.0 1068.4,2317.2 1068.7,2315.3 1069.3,2313.4 1070.1,2311.5 1071.1,2309.6 1072.2,2307.8 1073.5,2306.2 1074.9,2304.7 1076.3,2303.5 1077.8,2302.5 1079.3,2301.8 1080.7,2301.3 1082.1,2301.2 1083.4,2301.4 1084.5,2301.8 1085.5,2302.6 1086.3,2303.6 1086.9,2304.9 1087.2,2306.3" fill="#333333" stroke="#000" stroke-width="1.5"/><path d="M1070.0,2320.0 A1,1 0 0 0 0,0" fill="none"/>
<polygon points="1007.4,2344.0 1007.3,2346.0 1015.9,2351.0 1016.1,2349.0" fill="#c80000" stroke="#c80000" stroke-width="0.6"/><polygon points="1007.3,2346.0 1006.9,2348.0 1015.5,2353.0 1015.9,2351.0" fill="#c80000" stroke="#c80000" stroke-width="0.6"/><polygon points="1006.9,2348.0 1006.3,2350.1 1014.9,2355.1 1015.5,2353.0" fill="#c80000" stroke="#c80000" stroke-width="0.6"/><polygon points="1006.3,2350.1 1005.4,2352.2 1014.1,2357.2 1014.9,2355.1" fill="#c80000" stroke="#c80000" stroke-width="0.6"/><polygon points="1005.4,2352.2 1004.3,2354.2 1013.0,2359.2 1014.1,2357.2" fill="#c80000" stroke="#c80000" stroke-width="0.6"/><polygon points="1004.3,2354.2 1003.1,2356.2 1011.8,2361.2 1013.0,2359.2" fill="#c80000" stroke="#c80000" stroke-width="0.6"/><polygon points="1003.1,2356.2 1001.7,2358.0 1010.4,2363.0 1011.8,2361.2" fill="#c80000" stroke="#c80000" stroke-width="0.6"/><polygon points="1001.7,2358.0 1000.2,2359.6 1008.9,2364.6 1010.4,2363.0" fill="#c80000" stroke="#c80000" stroke-width="0.6"/><polygon points="1000.2,2359.6 998.6,2360.9 1007.3,2365.9 1008.9,2364.6" fill="#c80000" stroke="#c80000" stroke-width="0.6"/><polygon points="998.6,2360.9 997.0,2362.0 1005.7,2367.0 1007.3,2365.9" fill="#c80000" stroke="#c80000" stroke-width="0.6"/><polygon points="997.0,2362.0 995.4,2362.8 1004.0,2367.8 1005.7,2367.0" fill="#c80000" stroke="#c80000" stroke-width="0.6"/><polygon points="995.4,2362.8 993.8,2363.3 1002.4,2368.3 1004.0,2367.8" fill="#c80000" stroke="#c80000" stroke-width="0.6"/><polygon points="993.8,2363.3 992.3,2363.4 1000.9,2368.4 1002.4,2368.3" fill="#c80000" stroke="#c80000" stroke-width="0.6"/><polygon points="992.3,2363.4 990.9,2363.2 999.6,2368.2 1000.9,2368.4" fill="#c80000" stroke="#c80000" stroke-width="0.6"/><polygon points="990.9,2363.2 989.7,2362.7 998.3,2367.7 999.6,2368.2" fill="#c80000" stroke="#c80000" stroke-width="0.6"/><polygon points="989.7,2362.7 988.6,2361.9 997.3,2366.9 998.3,2367.7" fill="#c80000" stroke="#c80000" stroke-width="0.6"/><polygon points="988.6,2361.9 987.7,2360.8 996.4,2365.8 997.3,2366.9" fill="#c80000" stroke="#c80000" stroke-width="0.6"/><polygon points="987.7,2360.8 987.1,2359.4 995.8,2364.4 996.4,2365.8" fill="#c80000" stroke="#c80000" stroke-width="0.6"/><polygon points="987.1,2359.4 986.7,2357.8 995.4,2362.8 995.8,2364.4" fill="#c80000" stroke="#c80000" stroke-width="0.6"/><polygon points="986.7,2357.8 986.6,2356.0 995.3,2361.0 995.4,2362.8" fill="#c80000" stroke="#c80000" stroke-width="0.6"/><polygon points="986.6,2356.0 986.7,2354.0 995.4,2359.0 995.3,2361.0" fill="#c80000" stroke="#c80000" stroke-width="0.6"/><polygon points="986.7,2354.0 987.1,2352.0 995.8,2357.0 995.4,2359.0" fill="#c80000" stroke="#c80000" stroke-width="0.6"/><polygon points="987.1,2352.0 987.7,2349.9 996.4,2354.9 995.8,2357.0" fill="#c80000" stroke="#c80000" stroke-width="0.6"/><polygon points="987.7,2349.9 988.6,2347.8 997.3,2352.8 996.4,2354.9" fill="#c80000" stroke="#c80000" stroke-width="0.6"/><polygon points="988.6,2347.8 989.7,2345.8 998.3,2350.8 997.3,2352.8" fill="#c80000" stroke="#c80000" stroke-width="0.6"/><polygon points="989.7,2345.8 990.9,2343.8 999.6,2348.8 998.3,2350.8" fill="#c80000" stroke="#c80000" stroke-width="0.6"/><polygon points="990.9,2343.8 992.3,2342.0 1000.9,2347.0 999.6,2348.8" fill="#c80000" stroke="#c80000" stroke-width="0.6"/><polygon points="992.3,2342.0 993.8,2340.4 1002.4,2345.4 1000.9,2347.0" fill="#c80000" stroke="#c80000" stroke-width="0.6"/><polygon points="993.8,2340.4 995.4,2339.1 1004.0,2344.1 1002.4,2345.4" fill="#c80000" stroke="#c80000" stroke-width="0.6"/><polygon points="995.4,2339.1 997.0,2338.0 1005.7,2343.0 1004.0,2344.1" fill="#c80000" stroke="#c80000" stroke-width="0.6"/><polygon points="997.0,2338.0 998.6,2337.2 1007.3,2342.2 1005.7,2343.0" fill="#c80000" stroke="#c80000" stroke-width="0.6"/><polygon points="998.6,2337.2 1000.2,2336.7 1008.9,2341.7 1007.3,2342.2" fill="#c80000" stroke="#c80000" stroke-width="0.6"/><polygon points="1000.2,2336.7 1001.7,2336.6 1010.4,2341.6 1008.9,2341.7" fill="#c80000" stroke="#c80000" stroke-width="0.6"/><polygon points="1001.7,2336.6 1003.1,2336.8 1011.8,2341.8 1010.4,2341.6" fill="#c80000" stroke="#c80000" stroke-width="0.6"/><polygon points="1003.1,2336.8 1004.3,2337.3 1013.0,2342.3 1011.8,2341.8" fill="#c80000" stroke="#c80000" stroke-width="0.6"/><polygon points="1004.3,2337.3 1005.4,2338.1 1014.1,2343.1 1013.0,2342.3" fill="#c80000" stroke="#c80000" stroke-width="0.6"/><polygon points="1005.4,2338.1 1006.3,2339.2 1014.9,2344.2 1014.1,2343.1" fill="#c80000" stroke="#c80000" stroke-width="0.6"/><polygon points="1006.3,2339.2 1006.9,2340.6 1015.5,2345.6 1014.9,2344.2" fill="#c80000" stroke="#c80000" stroke-width="0.6"/><polygon points="1006.9,2340.6 1007.3,2342.2 1015.9,2347.2 1015.5,2345.6" fill="#c80000" stroke="#c80000" stroke-width="0.6"/><polygon points="1007.3,2342.2 1007.4,2344.0 1016.1,2349.0 1015.9,2347.2" fill="#c80000" stroke="#c80000" stroke-width="0.6"/><polygon points="1007.4,2344.0 1007.3,2346.0 1006.9,2348.0 1006.3,2350.1 1005.4,2352.2 1004.3,2354.2 1003.1,2356.2 1001.7,2358.0 1000.2,2359.6 998.6,2360.9 997.0,2362.0 995.4,2362.8 993.8,2363.3 992.3,2363.4 990.9,2363.2 989.7,2362.7 988.6,2361.9 987.7,2360.8 987.1,2359.4 986.7,2357.8 986.6,2356.0 986.7,2354.0 987.1,2352.0 987.7,2349.9 988.6,2347.8 989.7,2345.8 990.9,2343.8 992.3,2342.0 993.8,2340.4 995.4,2339.1 997.0,2338.0 998.6,2337.2 1000.2,2336.7 1001.7,2336.6 1003.1,2336.8 1004.3,2337.3 1005.4,2338.1 1006.3,2339.2 1006.9,2340.6 1007.3,2342.2" fill="#c80000"/><polygon points="1016.1,2349.0 1015.9,2351.0 1015.5,2353.0 1014.9,2355.1 1014.1,2357.2 1013.0,2359.2 1011.8,2361.2 1010.4,2363.0 1008.9,2364.6 1007.3,2365.9 1005.7,2367.0 1004.0,2367.8 1002.4,2368.3 1000.9,2368.4 999.6,2368.2 998.3,2367.7 997.3,2366.9 996.4,2365.8 995.8,2364.4 995.4,2362.8 995.3,2361.0 995.4,2359.0 995.8,2357.0 996.4,2354.9 997.3,2352.8 998.3,2350.8 999.6,2348.8 1000.9,2347.0 1002.4,2345.4 1004.0,2344.1 1005.7,2343.0 1007.3,2342.2 1008.9,2341.7 1010.4,2341.6 1011.8,2341.8 1013.0,2342.3 1014.1,2343.1 1014.9,2344.2 1015.5,2345.6 1015.9,2347.2" fill="#8a0000" stroke="#000" stroke-width="1.5"/><path d="M997.0,2362.0 A1,1 0 0 0 0,0" fill="none"/>
<polygon points="796.2,2070.0 990.1,1956.8 1080.2,2008.1 1080.2,2250.0 885.3,2370.0 796.2,2315.0" fill="#cfe7f8"/>
<polygon points="796.2,2070.0 990.1,1956.8 1080.2,2008.1 885.3,2120.3" fill="#6fa9e2"/>
<polygon points="796.2,2070.0 990.1,1956.8 990.1,1978.0 820.0,2080.0" fill="#dbeef9"/>
<polygon points="990.1,1956.8 1080.2,2008.1 1080.2,2012.0 1062.0,2022.0 990.1,1978.0" fill="#dbeef9"/>
<line x1="990.1" y1="1956.8" x2="990.1" y2="1990" stroke="#000" stroke-width="1.5"/>
<polygon points="840.5,2112.0 852.7,2104.9 852.7,2092.4 865.6,2085.0 865.6,2097.5 894.2,2081.0 894.2,2068.5 907.1,2061.0 907.1,2073.5 935.7,2057.0 935.7,2044.5 948.6,2037.1 948.6,2049.6 977.2,2033.1 977.2,2020.6 990.1,2013.1 990.1,2025.6 1018.7,2009.1 1018.7,1996.6 1031.6,1989.2 1031.6,2001.7 1043.2,1995.0 1043.2,2005.0 840.5,2122.0" fill="#e4f2fd"/>
<polygon points="829.0,2105.3 1031.7,1988.3 1043.2,1995.0 840.5,2112.0" fill="#a9d4fb"/>
<polygon points="841.2,2085.8 854.1,2078.3 865.6,2085.0 852.7,2092.4" fill="#a9d4fb" stroke="#000" stroke-width="1.3" stroke-linejoin="round"/>
<polygon points="841.2,2085.8 852.7,2092.4 852.7,2104.9 841.2,2098.2" fill="#86bbf8" stroke="#000" stroke-width="1.3" stroke-linejoin="round"/>
<polyline points="865.6,2085.0 865.6,2097.5 894.2,2081.0" fill="none" stroke="#000" stroke-width="1.3"/>
<polyline points="854.1,2090.8 882.7,2074.3" fill="none" stroke="#000" stroke-width="1.3"/>
<polygon points="882.7,2061.8 895.6,2054.4 907.1,2061.0 894.2,2068.5" fill="#a9d4fb" stroke="#000" stroke-width="1.3" stroke-linejoin="round"/>
<polygon points="882.7,2061.8 894.2,2068.5 894.2,2081.0 882.7,2074.3" fill="#86bbf8" stroke="#000" stroke-width="1.3" stroke-linejoin="round"/>
<polyline points="907.1,2061.0 907.1,2073.5 935.7,2057.0" fill="none" stroke="#000" stroke-width="1.3"/>
<polyline points="895.6,2066.9 924.2,2050.4" fill="none" stroke="#000" stroke-width="1.3"/>
<polygon points="924.2,2037.9 937.1,2030.4 948.6,2037.1 935.7,2044.5" fill="#a9d4fb" stroke="#000" stroke-width="1.3" stroke-linejoin="round"/>
<polygon points="924.2,2037.9 935.7,2044.5 935.7,2057.0 924.2,2050.4" fill="#86bbf8" stroke="#000" stroke-width="1.3" stroke-linejoin="round"/>
<polyline points="948.6,2037.1 948.6,2049.6 977.2,2033.1" fill="none" stroke="#000" stroke-width="1.3"/>
<polyline points="937.1,2042.9 965.7,2026.4" fill="none" stroke="#000" stroke-width="1.3"/>
<polygon points="965.7,2013.9 978.6,2006.5 990.1,2013.1 977.2,2020.6" fill="#a9d4fb" stroke="#000" stroke-width="1.3" stroke-linejoin="round"/>
<polygon points="965.7,2013.9 977.2,2020.6 977.2,2033.1 965.7,2026.4" fill="#86bbf8" stroke="#000" stroke-width="1.3" stroke-linejoin="round"/>
<polyline points="990.1,2013.1 990.1,2025.6 1018.7,2009.1" fill="none" stroke="#000" stroke-width="1.3"/>
<polyline points="978.6,2019.0 1007.1,2002.5" fill="none" stroke="#000" stroke-width="1.3"/>
<polygon points="1007.1,1990.0 1020.0,1982.5 1031.6,1989.2 1018.7,1996.6" fill="#a9d4fb" stroke="#000" stroke-width="1.3" stroke-linejoin="round"/>
<polygon points="1007.1,1990.0 1018.7,1996.6 1018.7,2009.1 1007.1,2002.5" fill="#86bbf8" stroke="#000" stroke-width="1.3" stroke-linejoin="round"/>
<polyline points="1031.6,1989.2 1031.6,2001.7 1043.2,1995.0" fill="none" stroke="#000" stroke-width="1.3"/>
<polyline points="1020.0,1995.0 1031.7,1988.3" fill="none" stroke="#000" stroke-width="1.3"/>
<polygon points="779.4,2070.0 885.3,2129.7 885.3,2379.0 779.4,2313.6" fill="#d3eaf9" opacity="0.92"/>
<polygon points="796.0,2090.0 872.0,2134.0 872.0,2362.0 796.0,2318.0" fill="#a6d0f4"/>
<polygon points="832.9,2097 845.5,2105 845.5,2330 832.9,2322" fill="#98c8f2"/>
<line x1="832.9" y1="2097" x2="832.9" y2="2322" stroke="#7a8a99" stroke-width="1"/>
<line x1="845.5" y1="2105" x2="845.5" y2="2330" stroke="#7a8a99" stroke-width="1"/>
<polygon points="885.3,2129.7 1095.9,2008.1 1095.9,2258.0 885.3,2379.0" fill="#cfe8f9"/>
<polygon points="887.0,2145.0 1067.0,2041.0 1067.0,2250.0 887.0,2362.0" fill="#a9d3f5"/>
<polygon points="895.0,2195.0 920.0,2181.0 920.0,2186.0 895.0,2200.0" fill="#9ccaf2"/>
<polygon points="895.0,2225.0 920.0,2211.0 920.0,2216.0 895.0,2230.0" fill="#9ccaf2"/>
<polygon points="935.0,2180.0 960.0,2166.0 960.0,2171.0 935.0,2185.0" fill="#9ccaf2"/>
<polygon points="935.0,2260.0 960.0,2246.0 960.0,2251.0 935.0,2265.0" fill="#9ccaf2"/>
<polygon points="985.0,2120.0 1010.0,2106.0 1010.0,2111.0 985.0,2125.0" fill="#9ccaf2"/>
<polygon points="985.0,2200.0 1010.0,2186.0 1010.0,2191.0 985.0,2205.0" fill="#9ccaf2"/>
<polygon points="1025.0,2110.0 1050.0,2096.0 1050.0,2101.0 1025.0,2115.0" fill="#9ccaf2"/>
<polygon points="1025.0,2140.0 1050.0,2126.0 1050.0,2131.0 1025.0,2145.0" fill="#9ccaf2"/>
<polyline points="1042,1990 1042,2212 846,2325" fill="none" stroke="#6f8799" stroke-width="0.9"/>
<line x1="1042" y1="2212" x2="1090" y2="2240" stroke="#6f8799" stroke-width="0.7"/>
<path d="M779.4,2070 L990.1,1947.3 L1095.9,2008.1 L885.3,2129.7 Z M796.2,2070 L885.3,2120.3 L1080.2,2008.1 L990.1,1956.8 Z" fill="#d9eef9" fill-rule="evenodd" stroke="#000" stroke-width="2" stroke-linejoin="round"/>
<polyline points="779.4,2070 779.4,2313.6 885.3,2379 1095.9,2258 1095.9,2008.1" fill="none" stroke="#000" stroke-width="2" stroke-linejoin="round"/>
<line x1="885.3" y1="2129.7" x2="885.3" y2="2379" stroke="#000" stroke-width="2" stroke-linejoin="round"/>
<rect x="820.3" y="2034" width="7" height="45" rx="3" fill="#cc0000" stroke="#000" stroke-width="1.5"/>
<circle cx="823.8" cy="2025.1" r="11" fill="#fff" stroke="#000" stroke-width="2"/><line x1="817" y1="2025.1" x2="830.6" y2="2025.1" stroke="#000" stroke-width="2.5"/>
<rect x="1047.7" y="1972" width="7" height="47" rx="3" fill="#555" stroke="#000" stroke-width="1.5"/>
<circle cx="1051.2" cy="1964.7" r="11" fill="#fff" stroke="#000" stroke-width="2"/><line x1="1044.4" y1="1964.7" x2="1058" y2="1964.7" stroke="#000" stroke-width="2.5"/><line x1="1051.2" y1="1957.9" x2="1051.2" y2="1971.5" stroke="#000" stroke-width="2.5"/>
<path d="M938.5,1605.2 C939.3,1604.8 937.8,1601.6 943.4,1602.5 C949.0,1603.4 964.2,1609.1 972.2,1610.8 C980.2,1612.5 986.1,1610.5 991.5,1612.4 C996.9,1614.3 998.4,1615.1 1004.3,1622.1 C1010.2,1629.0 1021.4,1642.1 1026.7,1654.1 C1032.0,1666.1 1033.1,1684.0 1036.3,1694.2 C1039.5,1704.4 1041.5,1708.3 1046.0,1715.0 C1050.5,1721.7 1054.0,1730.1 1063.6,1734.3 C1073.2,1738.5 1096.9,1737.2 1103.7,1739.9 C1110.5,1742.6 1105.8,1737.9 1104.5,1750.3 C1103.2,1762.7 1100.1,1797.3 1095.7,1814.4 C1091.3,1831.5 1082.5,1846.2 1078.0,1852.9 C1073.5,1859.6 1072.7,1855.3 1068.4,1854.5 C1064.1,1853.7 1060.4,1852.1 1052.4,1848.1 C1044.4,1844.1 1032.3,1834.0 1020.3,1830.5 C1008.3,1827.0 992.5,1829.5 980.2,1827.3 C967.9,1825.1 954.1,1822.1 946.6,1817.6 C939.1,1813.0 937.8,1809.6 935.0,1800.0 C932.2,1790.4 929.2,1776.7 930.0,1760.0 C930.8,1743.3 935.0,1713.2 940.0,1700.0 C945.0,1686.8 953.6,1684.6 960.0,1681.0 C966.4,1677.4 973.9,1678.9 978.6,1678.2 C983.3,1677.5 987.9,1680.1 988.2,1676.6 C988.5,1673.1 985.5,1664.5 980.2,1657.3 C974.9,1650.1 962.1,1638.7 956.2,1633.3 C950.3,1627.9 948.0,1629.7 945.0,1625.0 C942.0,1620.3 939.6,1608.5 938.5,1605.2 Z" fill="#c6d1d1" stroke="#000" stroke-width="1.6"/>
<path d="M1063.6,1734.3 C1064.7,1741.9 1069.9,1764.0 1070.0,1780.0 C1070.1,1796.0 1066.9,1818.7 1064.0,1830.0 C1061.1,1841.3 1054.3,1845.1 1052.4,1848.1" fill="none" stroke="#333" stroke-width="0.8"/>
<path d="M1080.0,1745.0 C1080.8,1752.5 1085.8,1774.2 1085.0,1790.0 C1084.2,1805.8 1076.7,1831.7 1075.0,1840.0" fill="none" stroke="#333" stroke-width="0.8"/>
<path d="M1090,1745 L1103,1742 L1098,1812 L1080,1851 Z" fill="#b5c2c2" opacity="0.7"/>
<polygon points="919.3,1660.5 956.2,1664.5 965.8,1695.8 937.0,1881.8 881.6,1872.9" fill="#e8e9eb" stroke="#000" stroke-width="1.5"/>
<polygon points="952.2,1664.5 956.2,1664.5 958.0,1695.8 965.8,1695.8 937.0,1881.8 918.5,1878.6" fill="#d4d5d8" stroke="#000" stroke-width="1"/>
<polygon points="914.5,1790.4 923.3,1791.2 916.1,1833.7 908.1,1832.9" fill="#fff" stroke="#000" stroke-width="1"/>
<polygon points="936.0,1637.0 948.0,1639.0 945.0,1663.0 933.0,1661.0" fill="#fff" stroke="#000" stroke-width="1"/>
<polygon points="937.0,1623.0 957.0,1627.0 956.0,1638.0 936.0,1634.0" fill="#00a9e6" stroke="#000" stroke-width="1"/>
<polygon points="953.8,1673.4 965.0,1675.8 963.4,1695.0 952.2,1693.4" fill="#0b8ac0" stroke="#000" stroke-width="1"/>
<polygon points="955.9,1668.9 975.4,1671.8 974.6,1675.8 955.9,1673.4" fill="#00a9e6" stroke="#000" stroke-width="1"/>
<path d="M900.1,1667.0 C898.1,1668.1 890.5,1670.2 888.1,1673.4 C885.7,1676.6 885.2,1682.7 885.6,1686.2 C886.0,1689.7 891.6,1691.8 890.5,1694.2 C889.4,1696.6 881.5,1697.7 879.2,1700.6 C876.9,1703.5 876.4,1707.8 876.8,1711.8 C877.2,1715.8 881.5,1721.5 881.6,1724.7 C881.7,1727.9 878.4,1727.9 877.6,1731.1 C876.8,1734.3 876.3,1740.2 876.8,1743.9 C877.3,1747.6 880.7,1750.8 880.8,1753.5 C880.9,1756.2 878.0,1756.4 877.6,1759.9 C877.2,1763.4 877.3,1770.1 878.4,1774.4 C879.5,1778.7 881.7,1783.1 884.0,1785.6 C886.3,1788.1 889.7,1790.7 892.1,1789.6 C894.5,1788.5 895.0,1784.4 898.5,1779.2 C902.0,1774.0 909.4,1762.6 912.9,1758.3 C916.4,1754.0 916.5,1755.9 919.3,1753.5 C922.1,1751.1 928.4,1747.9 929.7,1743.9 C931.0,1739.9 926.4,1734.0 927.3,1729.5 C928.2,1725.0 934.8,1721.4 935.3,1716.6 C935.8,1711.8 931.8,1705.9 930.5,1700.6 C929.2,1695.3 928.9,1689.7 927.3,1684.6 C925.7,1679.5 924.1,1673.4 920.9,1670.2 C917.7,1667.0 911.6,1665.8 908.1,1665.3 C904.6,1664.8 901.4,1666.7 900.1,1667.0 Z" fill="#c6d1d1" stroke="#000" stroke-width="1.5" stroke-linejoin="round"/>
<path d="M890.5,1694.2 Q912,1693 929,1702" fill="none" stroke="#000" stroke-width="1.1"/>
<path d="M894.5,1692.2 Q912,1690 926,1699" fill="none" stroke="#a9b8b8" stroke-width="2.5"/>
<path d="M881.6,1724.7 Q905,1722 927.3,1731" fill="none" stroke="#000" stroke-width="1.1"/>
<path d="M885.6,1722.7 Q905,1719 924.3,1728" fill="none" stroke="#a9b8b8" stroke-width="2.5"/>
<path d="M880.8,1753.5 Q897,1751 912.9,1758.3" fill="none" stroke="#000" stroke-width="1.1"/>
<path d="M884.8,1751.5 Q897,1748 909.9,1755.3" fill="none" stroke="#a9b8b8" stroke-width="2.5"/>
<path d="M921,1680 Q924,1687.5 923,1695" fill="none" stroke="#000" stroke-width="0.7"/>
<path d="M928,1712 Q931,1719.5 929,1727" fill="none" stroke="#000" stroke-width="0.7"/>
<path d="M924,1740 Q927,1746.0 925,1752" fill="none" stroke="#000" stroke-width="0.7"/>
<path d="M878,1674 C876,1664 888,1656 902,1656.5 C912,1657 918,1660 921,1661 L919,1668 C908,1664 896,1663 888,1668 C884,1671 881,1675 878,1674 Z" fill="#c6d1d1" stroke="#000" stroke-width="1.3"/>
<polygon points="887.3,1875.3 927.3,1881.8 924.9,1900.0 884.8,1893.0" fill="#00a9e6" stroke="#000" stroke-width="1.2"/>
<polygon points="884.8,1893.0 924.9,1900.0 912.0,1907.0 899.0,1905.0" fill="#0c8cc2" stroke="#000" stroke-width="1.2"/>
<polygon points="899.0,1905.0 912.0,1907.0 892.8,1993.0 887.5,1992.0" fill="#0a90c8" stroke="#000" stroke-width="1.4"/>
<polygon points="887.5,1992.0 892.8,1993.0 875.5,2086.0 872.5,2086.0" fill="#fff" stroke="#000" stroke-width="1.3"/>
<rect x="886" y="1993" width="5" height="6" fill="#000"/>
<g fill="#555555">
<ellipse cx="93" cy="2435" rx="38" ry="24"/>
<circle cx="56" cy="2421" r="11"/>
<circle cx="60" cy="2444" r="11"/>
<circle cx="74" cy="2457" r="11"/>
<circle cx="94" cy="2460" r="10"/>
<circle cx="113" cy="2459" r="9"/>
<circle cx="128" cy="2449" r="9"/>
<circle cx="134" cy="2432" r="9"/>
<circle cx="128" cy="2416" r="9"/>
<circle cx="115" cy="2408" r="9"/>
<circle cx="99" cy="2407" r="9"/>
<circle cx="82" cy="2408" r="10"/>
<circle cx="66" cy="2412" r="10"/>
<circle cx="119.1" cy="2476.6" r="4.6"/><circle cx="128.9" cy="2485.2" r="3.3"/>
</g>
<path d="M99,2406 Q103,2412 108,2411" fill="none" stroke="#ededed" stroke-width="1.5"/>
<path d="M52,2432 Q58,2433 60,2438" fill="none" stroke="#ededed" stroke-width="1.5"/>
<path d="M85,2455 Q92,2455 95,2460" fill="none" stroke="#ededed" stroke-width="1.5"/>
<path d="M124,2448 Q128,2452 128,2458" fill="none" stroke="#ededed" stroke-width="1.5"/>
<path d="M127,2425 Q131,2426 133,2431" fill="none" stroke="#ededed" stroke-width="1.5"/>
<g transform="translate(70,2423) rotate(20.6)"><path d="M0,-5 Q-3,0 0,5 L45,5 L57,0 L45,-5 Z" fill="#fff"/><path d="M45,-4 L55,0 L45,4 Z" fill="#555"/><line x1="12" y1="-1" x2="40" y2="-1" stroke="#555" stroke-width="0.8"/></g>
<g font-family="Liberation Sans, sans-serif"><g fill="none" stroke="#000" stroke-width="11" stroke-linecap="round" stroke-linejoin="round">
<path d="M572.8,57.3 L593.1,132 L613.7,57.3 L634.4,132 L654.7,57.3"/>
<path d="M670.9,57.3 V132 M670.9,106 A22.5,22.5 0 0 1 715.9,106 V132"/>
<circle cx="757.3" cy="107.1" r="24.5"/><path d="M781.8,107 V132"/>
<path d="M806.2,57.3 V112 Q806.2,131.5 826,131.5 M797.7,82.4 H818.4"/>
<path d="M871.7,82.6 V132"/>
<path d="M930,92 C922,86 917,83 911,83 C900,83 891,89 892,96 C893,103 905,106 912,109 C922,113 931,116 931,123 C931,129 922,132 911,132 C903,132 897,128 892,122"/>
<path d="M975.4,132 V58.1 H992 A22.4,22.4 0 0 1 992,102.9 H975.4"/>
<path d="M1090.6,67.2 A36.5,36.5 0 1 0 1090.6,122.8"/>
<path d="M1106.4,132 V58.1 H1127.3 A20.3,20.3 0 0 1 1127.3,98.7 H1106.4 M1134.7,100.8 L1151.4,131.2"/>
<path d="M1168,78 A21,21 0 1 1 1200,97 C1192,104 1189,108 1189,116"/>
</g>
<circle cx="871.7" cy="66" r="6.4" fill="#000"/><circle cx="1189.2" cy="130.6" r="6.9" fill="#000"/>
<g transform="translate(154.7,261.4) scale(30.200)"><g fill="none" stroke="#000" stroke-width="0.1755" stroke-linecap="round" stroke-linejoin="round"><path transform="translate(0.000,0)" d="M0,0 V-1 H0.222 A0.3,0.3 0 0 1 0.222,-0.4 H0"/><path transform="translate(0.779,0)" d="M0.000,-0.330 A0.330,0.330 0 1 0 0.660,-0.330 A0.330,0.330 0 1 0 0.000,-0.330 Z"/><path transform="translate(1.698,0)" d="M0,-1 V-0.12 Q0,0 0.1,0"/><path transform="translate(2.057,0)" d="M0,-0.66 L0.3,-0.02 M0.6,-0.66 L0.18,0.28"/><path transform="translate(2.916,0)" d="M0,-0.66 V0 M0,-0.4 A0.25,0.25 0 0 1 0.5,-0.4 V0 M0.5,-0.4 A0.25,0.25 0 0 1 1.0,-0.4 V0"/><path transform="translate(4.175,0)" d="M0.02,-0.33 H0.66  A0.330,0.330 0 1 0 0.563,-0.097"/><path transform="translate(5.094,0)" d="M0,-0.66 V0 M0,-0.34 Q0.05,-0.64 0.36,-0.64"/><path transform="translate(5.713,0)" d="M0.000,-0.330 A0.330,0.330 0 1 0 0.660,-0.330 A0.330,0.330 0 1 0 0.000,-0.330 Z M0.66,-0.66 V0"/><path transform="translate(6.632,0)" d="M0.509,-0.535 C0.402,-0.616 0.335,-0.656 0.254,-0.656 C0.107,-0.656 -0.013,-0.576 0,-0.482 C0.013,-0.388 0.174,-0.348 0.268,-0.308 C0.402,-0.254 0.522,-0.214 0.522,-0.12 C0.522,-0.04 0.402,0 0.254,0 C0.147,0 0.067,-0.054 0,-0.134"/><path transform="translate(7.411,0)" d="M0.02,-0.33 H0.66  A0.330,0.330 0 1 0 0.563,-0.097"/><path transform="translate(8.789,0)" d="M0.872,-0.835 A0.500,0.500 0 1 0 0.872,-0.165"/><path transform="translate(9.908,0)" d="M0,-1 V0 M0,-0.36 A0.3,0.3 0 0 1 0.6,-0.36 V0"/><path transform="translate(10.767,0)" d="M0.000,-0.330 A0.330,0.330 0 1 0 0.660,-0.330 A0.330,0.330 0 1 0 0.000,-0.330 Z M0.66,-0.66 V0"/><path transform="translate(11.686,0)" d="M0,-0.62 V0"/><path transform="translate(11.945,0)" d="M0,-0.66 V0 M0,-0.36 A0.3,0.3 0 0 1 0.6,-0.36 V0"/><path transform="translate(13.262,0)" d="M0,0 V-1 H0.28 A0.272,0.272 0 0 1 0.28,-0.457 H0 M0.38,-0.43 L0.6,0"/><path transform="translate(14.121,0)" d="M0.02,-0.33 H0.66  A0.330,0.330 0 1 0 0.563,-0.097"/><path transform="translate(15.040,0)" d="M0.000,-0.330 A0.330,0.330 0 1 0 0.660,-0.330 A0.330,0.330 0 1 0 0.000,-0.330 Z M0.66,-0.66 V0"/><path transform="translate(15.960,0)" d="M0.575,-0.551 A0.330,0.330 0 1 0 0.575,-0.109"/><path transform="translate(16.819,0)" d="M0.12,-1 V-0.22 Q0.12,0 0.38,0 M0,-0.66 H0.32"/><path transform="translate(17.458,0)" d="M0,-0.62 V0"/><path transform="translate(17.717,0)" d="M0.000,-0.330 A0.330,0.330 0 1 0 0.660,-0.330 A0.330,0.330 0 1 0 0.000,-0.330 Z"/><path transform="translate(18.636,0)" d="M0,-0.66 V0 M0,-0.36 A0.3,0.3 0 0 1 0.6,-0.36 V0"/><path transform="translate(19.953,0)" d="M0,-0.62 V0"/><path transform="translate(20.212,0)" d="M0.509,-0.535 C0.402,-0.616 0.335,-0.656 0.254,-0.656 C0.107,-0.656 -0.013,-0.576 0,-0.482 C0.013,-0.388 0.174,-0.348 0.268,-0.308 C0.402,-0.254 0.522,-0.214 0.522,-0.12 C0.522,-0.04 0.402,0 0.254,0 C0.147,0 0.067,-0.054 0,-0.134"/><path transform="translate(21.450,0)" d="M0.000,-0.330 A0.330,0.330 0 1 0 0.660,-0.330 A0.330,0.330 0 1 0 0.000,-0.330 Z M0.66,-0.66 V0"/><path transform="translate(22.827,0)" d="M0.12,-1 V-0.22 Q0.12,0 0.38,0 M0,-0.66 H0.32"/><path transform="translate(23.466,0)" d="M0.02,-0.33 H0.66  A0.330,0.330 0 1 0 0.563,-0.097"/><path transform="translate(24.385,0)" d="M0.575,-0.551 A0.330,0.330 0 1 0 0.575,-0.109"/><path transform="translate(25.244,0)" d="M0,-1 V0 M0,-0.36 A0.3,0.3 0 0 1 0.6,-0.36 V0"/><path transform="translate(26.103,0)" d="M0,-0.66 V0 M0,-0.36 A0.3,0.3 0 0 1 0.6,-0.36 V0"/><path transform="translate(26.962,0)" d="M0,-0.62 V0"/><path transform="translate(27.221,0)" d="M0.000,-0.330 A0.330,0.330 0 1 0 0.660,-0.330 A0.330,0.330 0 1 0 0.000,-0.330 Z M0.66,-0.66 V0.28"/><path transform="translate(28.140,0)" d="M0,-0.66 V-0.3 A0.3,0.3 0 0 0 0.6,-0.3 M0.6,-0.66 V0"/><path transform="translate(28.999,0)" d="M0.02,-0.33 H0.66  A0.330,0.330 0 1 0 0.563,-0.097"/><path transform="translate(30.377,0)" d="M0.12,-1 V-0.22 Q0.12,0 0.38,0 M0,-0.66 H0.32"/><path transform="translate(31.016,0)" d="M0.000,-0.330 A0.330,0.330 0 1 0 0.660,-0.330 A0.330,0.330 0 1 0 0.000,-0.330 Z"/><path transform="translate(32.393,0)" d="M0,-0.66 V0 M0,-0.4 A0.25,0.25 0 0 1 0.5,-0.4 V0 M0.5,-0.4 A0.25,0.25 0 0 1 1.0,-0.4 V0"/><path transform="translate(33.652,0)" d="M0.000,-0.330 A0.330,0.330 0 1 0 0.660,-0.330 A0.330,0.330 0 1 0 0.000,-0.330 Z M0.66,-0.66 V0"/><path transform="translate(34.571,0)" d="M0,-1 V0 M0.48,-0.66 L0.02,-0.24 M0.2,-0.42 L0.52,0"/><path transform="translate(35.330,0)" d="M0.02,-0.33 H0.66  A0.330,0.330 0 1 0 0.563,-0.097"/><path transform="translate(36.708,0)" d="M0,-0.66 V0 M0,-0.4 A0.25,0.25 0 0 1 0.5,-0.4 V0 M0.5,-0.4 A0.25,0.25 0 0 1 1.0,-0.4 V0"/><path transform="translate(37.967,0)" d="M0.000,-0.330 A0.330,0.330 0 1 0 0.660,-0.330 A0.330,0.330 0 1 0 0.000,-0.330 Z M0.66,-0.66 V0"/><path transform="translate(38.886,0)" d="M0,-0.66 V0 M0,-0.36 A0.3,0.3 0 0 1 0.6,-0.36 V0"/><path transform="translate(39.745,0)" d="M0,-0.66 L0.3,-0.02 M0.6,-0.66 L0.18,0.28"/><path transform="translate(41.062,0)" d="M0.575,-0.551 A0.330,0.330 0 1 0 0.575,-0.109"/><path transform="translate(41.921,0)" d="M0.000,-0.330 A0.330,0.330 0 1 0 0.660,-0.330 A0.330,0.330 0 1 0 0.000,-0.330 Z"/><path transform="translate(42.840,0)" d="M0.000,-0.330 A0.330,0.330 0 1 0 0.660,-0.330 A0.330,0.330 0 1 0 0.000,-0.330 Z M0,-0.66 V0.28"/><path transform="translate(43.759,0)" d="M0,-0.62 V0"/><path transform="translate(44.018,0)" d="M0.02,-0.33 H0.66  A0.330,0.330 0 1 0 0.563,-0.097"/><path transform="translate(44.937,0)" d="M0.509,-0.535 C0.402,-0.616 0.335,-0.656 0.254,-0.656 C0.107,-0.656 -0.013,-0.576 0,-0.482 C0.013,-0.388 0.174,-0.348 0.268,-0.308 C0.402,-0.254 0.522,-0.214 0.522,-0.12 C0.522,-0.04 0.402,0 0.254,0 C0.147,0 0.067,-0.054 0,-0.134"/><path transform="translate(46.175,0)" d="M0.000,-0.330 A0.330,0.330 0 1 0 0.660,-0.330 A0.330,0.330 0 1 0 0.000,-0.330 Z"/><path transform="translate(47.094,0)" d="M0.12,0 V-0.78 Q0.12,-1 0.36,-1 M0,-0.64 H0.32"/><path transform="translate(48.171,0)" d="M0.000,-0.330 A0.330,0.330 0 1 0 0.660,-0.330 A0.330,0.330 0 1 0 0.000,-0.330 Z M0.66,-0.66 V0"/></g><g fill="#000"><circle cx="11.686" cy="-0.900" r="0.109"/><circle cx="17.458" cy="-0.900" r="0.109"/><circle cx="19.953" cy="-0.900" r="0.109"/><circle cx="26.962" cy="-0.900" r="0.109"/><circle cx="43.759" cy="-0.900" r="0.109"/></g></g>
<g transform="translate(337.6,320.4) scale(30.200)"><g fill="none" stroke="#000" stroke-width="0.1755" stroke-linecap="round" stroke-linejoin="round"><path transform="translate(0.000,0)" d="M0.000,-0.330 A0.330,0.330 0 1 0 0.660,-0.330 A0.330,0.330 0 1 0 0.000,-0.330 Z M0,-0.66 V0.28"/><path transform="translate(0.915,0)" d="M0.000,-0.330 A0.330,0.330 0 1 0 0.660,-0.330 A0.330,0.330 0 1 0 0.000,-0.330 Z M0.66,-0.66 V0"/><path transform="translate(1.830,0)" d="M0,-0.66 V0 M0,-0.34 Q0.05,-0.64 0.36,-0.64"/><path transform="translate(2.446,0)" d="M0.12,-1 V-0.22 Q0.12,0 0.38,0 M0,-0.66 H0.32"/><path transform="translate(3.081,0)" d="M0,-0.62 V0"/><path transform="translate(3.336,0)" d="M0.575,-0.551 A0.330,0.330 0 1 0 0.575,-0.109"/><path transform="translate(4.191,0)" d="M0,-0.66 V-0.3 A0.3,0.3 0 0 0 0.6,-0.3 M0.6,-0.66 V0"/><path transform="translate(5.046,0)" d="M0,-1 V-0.12 Q0,0 0.1,0"/><path transform="translate(5.401,0)" d="M0.000,-0.330 A0.330,0.330 0 1 0 0.660,-0.330 A0.330,0.330 0 1 0 0.000,-0.330 Z M0.66,-0.66 V0"/><path transform="translate(6.317,0)" d="M0,-0.66 V0 M0,-0.34 Q0.05,-0.64 0.36,-0.64"/><path transform="translate(7.383,0)" d="M0.509,-0.535 C0.402,-0.616 0.335,-0.656 0.254,-0.656 C0.107,-0.656 -0.013,-0.576 0,-0.482 C0.013,-0.388 0.174,-0.348 0.268,-0.308 C0.402,-0.254 0.522,-0.214 0.522,-0.12 C0.522,-0.04 0.402,0 0.254,0 C0.147,0 0.067,-0.054 0,-0.134"/><path transform="translate(8.158,0)" d="M0.02,-0.33 H0.66  A0.330,0.330 0 1 0 0.563,-0.097"/><path transform="translate(9.073,0)" d="M0.575,-0.551 A0.330,0.330 0 1 0 0.575,-0.109"/><path transform="translate(9.929,0)" d="M0.12,-1 V-0.22 Q0.12,0 0.38,0 M0,-0.66 H0.32"/><path transform="translate(10.564,0)" d="M0,-0.62 V0"/><path transform="translate(10.819,0)" d="M0.000,-0.330 A0.330,0.330 0 1 0 0.660,-0.330 A0.330,0.330 0 1 0 0.000,-0.330 Z"/><path transform="translate(11.734,0)" d="M0,-0.66 V0 M0,-0.36 A0.3,0.3 0 0 1 0.6,-0.36 V0"/><path transform="translate(13.041,0)" d="M0.000,-0.330 A0.330,0.330 0 1 0 0.660,-0.330 A0.330,0.330 0 1 0 0.000,-0.330 Z"/><path transform="translate(13.956,0)" d="M0.12,0 V-0.78 Q0.12,-1 0.36,-1 M0,-0.64 H0.32"/><path transform="translate(15.023,0)" d="M0,0 V-1 H0.24 A0.5,0.5 0 0 1 0.24,0 Z"/><path transform="translate(16.018,0)" d="M0,0 V-1 L0.74,0 V-1"/><path transform="translate(17.013,0)" d="M0,0 L0.42,-1 L0.84,0 M0.17,-0.36 H0.67"/><path transform="translate(18.815,0)" d="M0,-1 H0.72 M0.36,-1 V0"/><path transform="translate(19.590,0)" d="M0.000,-0.330 A0.330,0.330 0 1 0 0.660,-0.330 A0.330,0.330 0 1 0 0.000,-0.330 Z"/><path transform="translate(20.957,0)" d="M0.509,-0.535 C0.402,-0.616 0.335,-0.656 0.254,-0.656 C0.107,-0.656 -0.013,-0.576 0,-0.482 C0.013,-0.388 0.174,-0.348 0.268,-0.308 C0.402,-0.254 0.522,-0.214 0.522,-0.12 C0.522,-0.04 0.402,0 0.254,0 C0.147,0 0.067,-0.054 0,-0.134"/><path transform="translate(21.732,0)" d="M0.02,-0.33 H0.66  A0.330,0.330 0 1 0 0.563,-0.097"/><path transform="translate(22.647,0)" d="M0.12,-1 V-0.22 Q0.12,0 0.38,0 M0,-0.66 H0.32"/><path transform="translate(23.282,0)" d="M0,-0.66 V-0.3 A0.3,0.3 0 0 0 0.6,-0.3 M0.6,-0.66 V0"/><path transform="translate(24.137,0)" d="M0.000,-0.330 A0.330,0.330 0 1 0 0.660,-0.330 A0.330,0.330 0 1 0 0.000,-0.330 Z M0,-0.66 V0.28"/><path transform="translate(25.504,0)" d="M0.000,-0.330 A0.330,0.330 0 1 0 0.660,-0.330 A0.330,0.330 0 1 0 0.000,-0.330 Z M0.66,-0.66 V0"/><path transform="translate(26.870,0)" d="M0,0 V-1 H0.222 A0.3,0.3 0 0 1 0.222,-0.4 H0"/><path transform="translate(27.646,0)" d="M0.872,-0.835 A0.500,0.500 0 1 0 0.872,-0.165"/><path transform="translate(28.761,0)" d="M0,0 V-1 H0.28 A0.272,0.272 0 0 1 0.28,-0.457 H0 M0.38,-0.43 L0.6,0"/><path transform="translate(30.067,0)" d="M0,-0.66 L0.3,-0.02 M0.6,-0.66 L0.18,0.28"/><path transform="translate(30.923,0)" d="M0.000,-0.330 A0.330,0.330 0 1 0 0.660,-0.330 A0.330,0.330 0 1 0 0.000,-0.330 Z"/><path transform="translate(31.838,0)" d="M0,-0.66 V-0.3 A0.3,0.3 0 0 0 0.6,-0.3 M0.6,-0.66 V0"/><path transform="translate(33.144,0)" d="M0,-0.66 V0 M0,-0.36 A0.3,0.3 0 0 1 0.6,-0.36 V0"/><path transform="translate(34.000,0)" d="M0.02,-0.33 H0.66  A0.330,0.330 0 1 0 0.563,-0.097"/><path transform="translate(34.915,0)" d="M0.02,-0.33 H0.66  A0.330,0.330 0 1 0 0.563,-0.097"/><path transform="translate(35.830,0)" d="M0.000,-0.330 A0.330,0.330 0 1 0 0.660,-0.330 A0.330,0.330 0 1 0 0.000,-0.330 Z M0.66,-1 V0"/></g><g fill="#000"><circle cx="3.081" cy="-0.900" r="0.109"/><circle cx="10.564" cy="-0.900" r="0.109"/><circle cx="18.108" cy="0.000" r="0.109"/><circle cx="36.745" cy="0.000" r="0.109"/><circle cx="36.745" cy="-0.550" r="0.109"/></g></g>
<g transform="translate(290.6,481.4) scale(27.300)"><g fill="none" stroke="#000" stroke-width="0.1136" stroke-linecap="round" stroke-linejoin="round"><path transform="translate(0.000,0)" d="M0,0 V-1 H0.24 A0.5,0.5 0 0 1 0.24,0 Z"/><path transform="translate(1.062,0)" d="M0,0 V-1 L0.74,0 V-1"/><path transform="translate(2.123,0)" d="M0,0 L0.42,-1 L0.84,0 M0.17,-0.36 H0.67"/></g><g fill="#000"></g></g>
<g transform="translate(1305.5,470.8) scale(28.600)"><g fill="none" stroke="#000" stroke-width="0.1084" stroke-linecap="round" stroke-linejoin="round"><path transform="translate(0.000,0)" d="M0,0 V-1 L0.74,0 V-1"/><path transform="translate(1.003,0)" d="M0,-0.66 V-0.3 A0.3,0.3 0 0 0 0.6,-0.3 M0.6,-0.66 V0"/><path transform="translate(1.867,0)" d="M0.575,-0.551 A0.330,0.330 0 1 0 0.575,-0.109"/><path transform="translate(2.730,0)" d="M0,-1 V-0.12 Q0,0 0.1,0"/><path transform="translate(3.093,0)" d="M0.02,-0.33 H0.66  A0.330,0.330 0 1 0 0.563,-0.097"/><path transform="translate(4.017,0)" d="M0.000,-0.330 A0.330,0.330 0 1 0 0.660,-0.330 A0.330,0.330 0 1 0 0.000,-0.330 Z"/><path transform="translate(4.940,0)" d="M0.12,-1 V-0.22 Q0.12,0 0.38,0 M0,-0.66 H0.32"/><path transform="translate(5.583,0)" d="M0,-0.62 V0"/><path transform="translate(5.847,0)" d="M0.000,-0.330 A0.330,0.330 0 1 0 0.660,-0.330 A0.330,0.330 0 1 0 0.000,-0.330 Z M0.66,-1 V0"/><path transform="translate(6.770,0)" d="M0.02,-0.33 H0.66  A0.330,0.330 0 1 0 0.563,-0.097"/><path transform="translate(7.693,0)" d="M0.509,-0.535 C0.402,-0.616 0.335,-0.656 0.254,-0.656 C0.107,-0.656 -0.013,-0.576 0,-0.482 C0.013,-0.388 0.174,-0.348 0.268,-0.308 C0.402,-0.254 0.522,-0.214 0.522,-0.12 C0.522,-0.04 0.402,0 0.254,0 C0.147,0 0.067,-0.054 0,-0.134"/></g><g fill="#000"><circle cx="5.583" cy="-0.900" r="0.067"/></g></g>
<g transform="translate(310.4,1258.4) scale(28.000)"><g fill="none" stroke="#000" stroke-width="0.1107" stroke-linecap="round" stroke-linejoin="round"><path transform="translate(0.000,0)" d="M0,0 V-1 H0.222 A0.3,0.3 0 0 1 0.222,-0.4 H0"/><path transform="translate(0.844,0)" d="M0,-0.66 V0 M0,-0.34 Q0.05,-0.64 0.36,-0.64"/><path transform="translate(1.528,0)" d="M0,-0.62 V0"/><path transform="translate(1.852,0)" d="M0,-0.66 V0 M0,-0.4 A0.25,0.25 0 0 1 0.5,-0.4 V0 M0.5,-0.4 A0.25,0.25 0 0 1 1.0,-0.4 V0"/><path transform="translate(3.176,0)" d="M0.02,-0.33 H0.66  A0.330,0.330 0 1 0 0.563,-0.097"/><path transform="translate(4.160,0)" d="M0,-0.66 V0 M0,-0.34 Q0.05,-0.64 0.36,-0.64"/><path transform="translate(4.844,0)" d="M0.509,-0.535 C0.402,-0.616 0.335,-0.656 0.254,-0.656 C0.107,-0.656 -0.013,-0.576 0,-0.482 C0.013,-0.388 0.174,-0.348 0.268,-0.308 C0.402,-0.254 0.522,-0.214 0.522,-0.12 C0.522,-0.04 0.402,0 0.254,0 C0.147,0 0.067,-0.054 0,-0.134"/></g><g fill="#000"><circle cx="1.528" cy="-0.900" r="0.069"/></g></g>
<g transform="translate(1283.5,1217.4) scale(28.500)"><g fill="none" stroke="#000" stroke-width="0.1088" stroke-linecap="round" stroke-linejoin="round"><path transform="translate(0.000,0)" d="M0,-1 H0.72 M0.36,-1 V0"/><path transform="translate(0.759,0)" d="M0.000,-0.330 A0.330,0.330 0 1 0 0.660,-0.330 A0.330,0.330 0 1 0 0.000,-0.330 Z M0.66,-0.66 V0"/><path transform="translate(1.657,0)" d="M0.000,-0.330 A0.330,0.330 0 1 0 0.660,-0.330 A0.330,0.330 0 1 0 0.000,-0.330 Z M0.66,-0.66 V0.28"/><path transform="translate(2.978,0)" d="M0,0 V-1 H0.24 A0.5,0.5 0 0 1 0.24,0 Z"/><path transform="translate(3.957,0)" d="M0,0 V-1 L0.74,0 V-1"/><path transform="translate(4.935,0)" d="M0,0 L0.42,-1 L0.84,0 M0.17,-0.36 H0.67"/></g><g fill="#000"></g></g>
<g transform="translate(1249.8,1271.4) scale(27.300)"><g fill="none" stroke="#000" stroke-width="0.1136" stroke-linecap="round" stroke-linejoin="round"><path transform="translate(0.000,0)" d="M0,0 V-1 H0.222 A0.3,0.3 0 0 1 0.222,-0.4 H0"/><path transform="translate(0.818,0)" d="M0.000,-0.330 A0.330,0.330 0 1 0 0.660,-0.330 A0.330,0.330 0 1 0 0.000,-0.330 Z"/><path transform="translate(1.775,0)" d="M0,-1 V-0.12 Q0,0 0.1,0"/><path transform="translate(2.173,0)" d="M0,-0.66 L0.3,-0.02 M0.6,-0.66 L0.18,0.28"/><path transform="translate(3.070,0)" d="M0,-0.66 V0 M0,-0.4 A0.25,0.25 0 0 1 0.5,-0.4 V0 M0.5,-0.4 A0.25,0.25 0 0 1 1.0,-0.4 V0"/><path transform="translate(4.368,0)" d="M0.02,-0.33 H0.66  A0.330,0.330 0 1 0 0.563,-0.097"/><path transform="translate(5.325,0)" d="M0,-0.66 V0 M0,-0.34 Q0.05,-0.64 0.36,-0.64"/><path transform="translate(5.983,0)" d="M0.000,-0.330 A0.330,0.330 0 1 0 0.660,-0.330 A0.330,0.330 0 1 0 0.000,-0.330 Z M0.66,-0.66 V0"/><path transform="translate(6.940,0)" d="M0.509,-0.535 C0.402,-0.616 0.335,-0.656 0.254,-0.656 C0.107,-0.656 -0.013,-0.576 0,-0.482 C0.013,-0.388 0.174,-0.348 0.268,-0.308 C0.402,-0.254 0.522,-0.214 0.522,-0.12 C0.522,-0.04 0.402,0 0.254,0 C0.147,0 0.067,-0.054 0,-0.134"/><path transform="translate(7.758,0)" d="M0.02,-0.33 H0.66  A0.330,0.330 0 1 0 0.563,-0.097"/></g><g fill="#000"></g></g>
<g transform="translate(272.3,1434.5) scale(30.200)"><g fill="none" stroke="#000" stroke-width="0.1755" stroke-linecap="round" stroke-linejoin="round"><path transform="translate(0.000,0)" d="M0.000,-0.500 A0.500,0.500 0 1 0 1.000,-0.500 A0.500,0.500 0 1 0 0.000,-0.500 Z"/><path transform="translate(1.256,0)" d="M0,-0.66 V0 M0,-0.36 A0.3,0.3 0 0 1 0.6,-0.36 V0"/><path transform="translate(2.111,0)" d="M0.575,-0.551 A0.330,0.330 0 1 0 0.575,-0.109"/><path transform="translate(2.967,0)" d="M0.02,-0.33 H0.66  A0.330,0.330 0 1 0 0.563,-0.097"/><path transform="translate(4.335,0)" d="M0,-0.66 L0.3,-0.02 M0.6,-0.66 L0.18,0.28"/><path transform="translate(5.191,0)" d="M0.000,-0.330 A0.330,0.330 0 1 0 0.660,-0.330 A0.330,0.330 0 1 0 0.000,-0.330 Z"/><path transform="translate(6.107,0)" d="M0,-0.66 V-0.3 A0.3,0.3 0 0 0 0.6,-0.3 M0.6,-0.66 V0"/><path transform="translate(7.415,0)" d="M0,-1 V0 M0,-0.36 A0.3,0.3 0 0 1 0.6,-0.36 V0"/><path transform="translate(8.271,0)" d="M0.000,-0.330 A0.330,0.330 0 1 0 0.660,-0.330 A0.330,0.330 0 1 0 0.000,-0.330 Z M0.66,-0.66 V0"/><path transform="translate(9.186,0)" d="M0,-0.66 L0.3,0 L0.6,-0.66"/><path transform="translate(10.042,0)" d="M0.02,-0.33 H0.66  A0.330,0.330 0 1 0 0.563,-0.097"/><path transform="translate(11.410,0)" d="M0.000,-0.330 A0.330,0.330 0 1 0 0.660,-0.330 A0.330,0.330 0 1 0 0.000,-0.330 Z M0.66,-0.66 V0"/><path transform="translate(12.326,0)" d="M0,-1 V-0.12 Q0,0 0.1,0"/><path transform="translate(12.682,0)" d="M0,-1 V-0.12 Q0,0 0.1,0"/><path transform="translate(13.490,0)" d="M0.509,-0.535 C0.402,-0.616 0.335,-0.656 0.254,-0.656 C0.107,-0.656 -0.013,-0.576 0,-0.482 C0.013,-0.388 0.174,-0.348 0.268,-0.308 C0.402,-0.254 0.522,-0.214 0.522,-0.12 C0.522,-0.04 0.402,0 0.254,0 C0.147,0 0.067,-0.054 0,-0.134"/><path transform="translate(14.266,0)" d="M0.000,-0.330 A0.330,0.330 0 1 0 0.660,-0.330 A0.330,0.330 0 1 0 0.000,-0.330 Z M0.66,-0.66 V0"/><path transform="translate(15.181,0)" d="M0,-0.66 V0 M0,-0.4 A0.25,0.25 0 0 1 0.5,-0.4 V0 M0.5,-0.4 A0.25,0.25 0 0 1 1.0,-0.4 V0"/><path transform="translate(16.437,0)" d="M0.000,-0.330 A0.330,0.330 0 1 0 0.660,-0.330 A0.330,0.330 0 1 0 0.000,-0.330 Z M0,-0.66 V0.28"/><path transform="translate(17.353,0)" d="M0,-1 V-0.12 Q0,0 0.1,0"/><path transform="translate(17.709,0)" d="M0.02,-0.33 H0.66  A0.330,0.330 0 1 0 0.563,-0.097"/><path transform="translate(18.624,0)" d="M0.509,-0.535 C0.402,-0.616 0.335,-0.656 0.254,-0.656 C0.107,-0.656 -0.013,-0.576 0,-0.482 C0.013,-0.388 0.174,-0.348 0.268,-0.308 C0.402,-0.254 0.522,-0.214 0.522,-0.12 C0.522,-0.04 0.402,0 0.254,0 C0.147,0 0.067,-0.054 0,-0.134"/><path transform="translate(19.400,0)" d="M0.06,-0.03 L-0.02,0.2"/><path transform="translate(20.168,0)" d="M0,-0.62 V0"/><path transform="translate(20.424,0)" d="M0.12,-1 V-0.22 Q0.12,0 0.38,0 M0,-0.66 H0.32"/><path transform="translate(21.512,0)" d="M0,-0.62 V0"/><path transform="translate(21.768,0)" d="M0.509,-0.535 C0.402,-0.616 0.335,-0.656 0.254,-0.656 C0.107,-0.656 -0.013,-0.576 0,-0.482 C0.013,-0.388 0.174,-0.348 0.268,-0.308 C0.402,-0.254 0.522,-0.214 0.522,-0.12 C0.522,-0.04 0.402,0 0.254,0 C0.147,0 0.067,-0.054 0,-0.134"/><path transform="translate(22.996,0)" d="M0.12,-1 V-0.22 Q0.12,0 0.38,0 M0,-0.66 H0.32"/><path transform="translate(23.632,0)" d="M0,-0.62 V0"/><path transform="translate(23.887,0)" d="M0,-0.66 V0 M0,-0.4 A0.25,0.25 0 0 1 0.5,-0.4 V0 M0.5,-0.4 A0.25,0.25 0 0 1 1.0,-0.4 V0"/><path transform="translate(25.143,0)" d="M0.02,-0.33 H0.66  A0.330,0.330 0 1 0 0.563,-0.097"/><path transform="translate(26.511,0)" d="M0.12,-1 V-0.22 Q0.12,0 0.38,0 M0,-0.66 H0.32"/><path transform="translate(27.147,0)" d="M0.000,-0.330 A0.330,0.330 0 1 0 0.660,-0.330 A0.330,0.330 0 1 0 0.000,-0.330 Z"/><path transform="translate(28.515,0)" d="M0,-0.66 V0 M0,-0.34 Q0.05,-0.64 0.36,-0.64"/><path transform="translate(29.131,0)" d="M0,-0.66 V-0.3 A0.3,0.3 0 0 0 0.6,-0.3 M0.6,-0.66 V0"/><path transform="translate(29.987,0)" d="M0,-0.66 V0 M0,-0.36 A0.3,0.3 0 0 1 0.6,-0.36 V0"/><path transform="translate(31.295,0)" d="M0.12,-1 V-0.22 Q0.12,0 0.38,0 M0,-0.66 H0.32"/><path transform="translate(31.931,0)" d="M0,-1 V0 M0,-0.36 A0.3,0.3 0 0 1 0.6,-0.36 V0"/><path transform="translate(32.786,0)" d="M0.02,-0.33 H0.66  A0.330,0.330 0 1 0 0.563,-0.097"/><path transform="translate(34.154,0)" d="M0.12,-1 V-0.22 Q0.12,0 0.38,0 M0,-0.66 H0.32"/><path transform="translate(34.790,0)" d="M0.02,-0.33 H0.66  A0.330,0.330 0 1 0 0.563,-0.097"/><path transform="translate(35.706,0)" d="M0.575,-0.551 A0.330,0.330 0 1 0 0.575,-0.109"/><path transform="translate(36.562,0)" d="M0,-1 V0 M0,-0.36 A0.3,0.3 0 0 1 0.6,-0.36 V0"/><path transform="translate(37.417,0)" d="M0,-0.66 V0 M0,-0.36 A0.3,0.3 0 0 1 0.6,-0.36 V0"/><path transform="translate(38.273,0)" d="M0,-0.62 V0"/><path transform="translate(38.529,0)" d="M0.000,-0.330 A0.330,0.330 0 1 0 0.660,-0.330 A0.330,0.330 0 1 0 0.000,-0.330 Z M0.66,-0.66 V0.28"/><path transform="translate(39.445,0)" d="M0,-0.66 V-0.3 A0.3,0.3 0 0 0 0.6,-0.3 M0.6,-0.66 V0"/><path transform="translate(40.300,0)" d="M0.02,-0.33 H0.66  A0.330,0.330 0 1 0 0.563,-0.097"/></g><g fill="#000"><circle cx="20.168" cy="-0.900" r="0.109"/><circle cx="21.512" cy="-0.900" r="0.109"/><circle cx="23.632" cy="-0.900" r="0.109"/><circle cx="38.273" cy="-0.900" r="0.109"/></g></g>
<g transform="translate(347.6,1493.3) scale(30.200)"><g fill="none" stroke="#000" stroke-width="0.1755" stroke-linecap="round" stroke-linejoin="round"><path transform="translate(0.000,0)" d="M0,-0.62 V0"/><path transform="translate(0.263,0)" d="M0,-0.66 V0 M0,-0.36 A0.3,0.3 0 0 1 0.6,-0.36 V0"/><path transform="translate(1.590,0)" d="M0.12,-1 V-0.22 Q0.12,0 0.38,0 M0,-0.66 H0.32"/><path transform="translate(2.233,0)" d="M0,-1 V0 M0,-0.36 A0.3,0.3 0 0 1 0.6,-0.36 V0"/><path transform="translate(3.095,0)" d="M0.02,-0.33 H0.66  A0.330,0.330 0 1 0 0.563,-0.097"/><path transform="translate(4.483,0)" d="M0,-1 V-0.12 Q0,0 0.1,0"/><path transform="translate(4.846,0)" d="M0.000,-0.330 A0.330,0.330 0 1 0 0.660,-0.330 A0.330,0.330 0 1 0 0.000,-0.330 Z M0.66,-0.66 V0"/><path transform="translate(5.768,0)" d="M0.000,-0.330 A0.330,0.330 0 1 0 0.660,-0.330 A0.330,0.330 0 1 0 0.000,-0.330 Z M0,-1 V0"/><path transform="translate(6.691,0)" d="M0.000,-0.330 A0.330,0.330 0 1 0 0.660,-0.330 A0.330,0.330 0 1 0 0.000,-0.330 Z"/><path transform="translate(7.614,0)" d="M0,-0.66 V0 M0,-0.34 Q0.05,-0.64 0.36,-0.64"/><path transform="translate(8.236,0)" d="M0.000,-0.330 A0.330,0.330 0 1 0 0.660,-0.330 A0.330,0.330 0 1 0 0.000,-0.330 Z M0.66,-0.66 V0"/><path transform="translate(9.159,0)" d="M0.12,-1 V-0.22 Q0.12,0 0.38,0 M0,-0.66 H0.32"/><path transform="translate(9.802,0)" d="M0.000,-0.330 A0.330,0.330 0 1 0 0.660,-0.330 A0.330,0.330 0 1 0 0.000,-0.330 Z"/><path transform="translate(10.724,0)" d="M0,-0.66 V0 M0,-0.34 Q0.05,-0.64 0.36,-0.64"/><path transform="translate(11.347,0)" d="M0,-0.66 L0.3,-0.02 M0.6,-0.66 L0.18,0.28"/><path transform="translate(12.937,0)" d="M0,-1 H0.72 M0.36,-1 V0"/><path transform="translate(13.920,0)" d="M0,-1 V0 M0,-0.36 A0.3,0.3 0 0 1 0.6,-0.36 V0"/><path transform="translate(14.782,0)" d="M0.02,-0.33 H0.66  A0.330,0.330 0 1 0 0.563,-0.097"/><path transform="translate(16.170,0)" d="M0.000,-0.330 A0.330,0.330 0 1 0 0.660,-0.330 A0.330,0.330 0 1 0 0.000,-0.330 Z M0,-0.66 V0.28"/><path transform="translate(17.093,0)" d="M0,-0.66 V0 M0,-0.34 Q0.05,-0.64 0.36,-0.64"/><path transform="translate(17.715,0)" d="M0.000,-0.330 A0.330,0.330 0 1 0 0.660,-0.330 A0.330,0.330 0 1 0 0.000,-0.330 Z"/><path transform="translate(18.638,0)" d="M0.575,-0.551 A0.330,0.330 0 1 0 0.575,-0.109"/><path transform="translate(19.501,0)" d="M0.02,-0.33 H0.66  A0.330,0.330 0 1 0 0.563,-0.097"/><path transform="translate(20.423,0)" d="M0.509,-0.535 C0.402,-0.616 0.335,-0.656 0.254,-0.656 C0.107,-0.656 -0.013,-0.576 0,-0.482 C0.013,-0.388 0.174,-0.348 0.268,-0.308 C0.402,-0.254 0.522,-0.214 0.522,-0.12 C0.522,-0.04 0.402,0 0.254,0 C0.147,0 0.067,-0.054 0,-0.134"/><path transform="translate(21.206,0)" d="M0.509,-0.535 C0.402,-0.616 0.335,-0.656 0.254,-0.656 C0.107,-0.656 -0.013,-0.576 0,-0.482 C0.013,-0.388 0.174,-0.348 0.268,-0.308 C0.402,-0.254 0.522,-0.214 0.522,-0.12 C0.522,-0.04 0.402,0 0.254,0 C0.147,0 0.067,-0.054 0,-0.134"/><path transform="translate(22.453,0)" d="M0.12,0 V-0.78 Q0.12,-1 0.36,-1 M0,-0.64 H0.32"/><path transform="translate(23.076,0)" d="M0,-1 V-0.12 Q0,0 0.1,0"/><path transform="translate(23.439,0)" d="M0.000,-0.330 A0.330,0.330 0 1 0 0.660,-0.330 A0.330,0.330 0 1 0 0.000,-0.330 Z"/><path transform="translate(24.361,0)" d="M0,-0.66 L0.225,0 L0.45,-0.66 L0.675,0 L0.9,-0.66"/><path transform="translate(25.989,0)" d="M0,-0.66 L0.225,0 L0.45,-0.66 L0.675,0 L0.9,-0.66"/><path transform="translate(27.151,0)" d="M0.000,-0.330 A0.330,0.330 0 1 0 0.660,-0.330 A0.330,0.330 0 1 0 0.000,-0.330 Z"/><path transform="translate(28.074,0)" d="M0,-0.66 V0 M0,-0.34 Q0.05,-0.64 0.36,-0.64"/><path transform="translate(28.697,0)" d="M0,-1 V0 M0.48,-0.66 L0.02,-0.24 M0.2,-0.42 L0.52,0"/><path transform="translate(29.460,0)" d="M0.509,-0.535 C0.402,-0.616 0.335,-0.656 0.254,-0.656 C0.107,-0.656 -0.013,-0.576 0,-0.482 C0.013,-0.388 0.174,-0.348 0.268,-0.308 C0.402,-0.254 0.522,-0.214 0.522,-0.12 C0.522,-0.04 0.402,0 0.254,0 C0.147,0 0.067,-0.054 0,-0.134"/><path transform="translate(30.707,0)" d="M0,-1 V-0.12 Q0,0 0.1,0"/><path transform="translate(31.070,0)" d="M0,-0.62 V0"/><path transform="translate(31.332,0)" d="M0,-1 V0 M0.48,-0.66 L0.02,-0.24 M0.2,-0.42 L0.52,0"/><path transform="translate(32.095,0)" d="M0.02,-0.33 H0.66  A0.330,0.330 0 1 0 0.563,-0.097"/><path transform="translate(33.482,0)" d="M0.12,-1 V-0.22 Q0.12,0 0.38,0 M0,-0.66 H0.32"/><path transform="translate(34.125,0)" d="M0,-1 V0 M0,-0.36 A0.3,0.3 0 0 1 0.6,-0.36 V0"/><path transform="translate(34.988,0)" d="M0,-0.62 V0"/><path transform="translate(35.250,0)" d="M0.509,-0.535 C0.402,-0.616 0.335,-0.656 0.254,-0.656 C0.107,-0.656 -0.013,-0.576 0,-0.482 C0.013,-0.388 0.174,-0.348 0.268,-0.308 C0.402,-0.254 0.522,-0.214 0.522,-0.12 C0.522,-0.04 0.402,0 0.254,0 C0.147,0 0.067,-0.054 0,-0.134"/></g><g fill="#000"><circle cx="0.000" cy="-0.900" r="0.109"/><circle cx="12.210" cy="0.000" r="0.109"/><circle cx="31.070" cy="-0.900" r="0.109"/><circle cx="34.988" cy="-0.900" r="0.109"/><circle cx="36.033" cy="0.000" r="0.109"/><circle cx="36.033" cy="-0.550" r="0.109"/></g></g>
<g transform="translate(162.6,1644.5) scale(26.500)"><g fill="none" stroke="#000" stroke-width="0.1170" stroke-linecap="round" stroke-linejoin="round"><path transform="translate(0.000,0)" d="M0,0 L0.42,-1 L0.84,0 M0.17,-0.36 H0.67"/><path transform="translate(1.088,0)" d="M0,-1 V-0.12 Q0,0 0.1,0"/><path transform="translate(1.437,0)" d="M0,-1 V-0.12 Q0,0 0.1,0"/><path transform="translate(2.225,0)" d="M0.509,-0.535 C0.402,-0.616 0.335,-0.656 0.254,-0.656 C0.107,-0.656 -0.013,-0.576 0,-0.482 C0.013,-0.388 0.174,-0.348 0.268,-0.308 C0.402,-0.254 0.522,-0.214 0.522,-0.12 C0.522,-0.04 0.402,0 0.254,0 C0.147,0 0.067,-0.054 0,-0.134"/><path transform="translate(2.993,0)" d="M0.000,-0.330 A0.330,0.330 0 1 0 0.660,-0.330 A0.330,0.330 0 1 0 0.000,-0.330 Z M0.66,-0.66 V0"/><path transform="translate(3.902,0)" d="M0,-0.66 V0 M0,-0.4 A0.25,0.25 0 0 1 0.5,-0.4 V0 M0.5,-0.4 A0.25,0.25 0 0 1 1.0,-0.4 V0"/><path transform="translate(5.150,0)" d="M0.000,-0.330 A0.330,0.330 0 1 0 0.660,-0.330 A0.330,0.330 0 1 0 0.000,-0.330 Z M0,-0.66 V0.28"/><path transform="translate(6.058,0)" d="M0,-1 V-0.12 Q0,0 0.1,0"/><path transform="translate(6.407,0)" d="M0.02,-0.33 H0.66  A0.330,0.330 0 1 0 0.563,-0.097"/><path transform="translate(7.315,0)" d="M0.509,-0.535 C0.402,-0.616 0.335,-0.656 0.254,-0.656 C0.107,-0.656 -0.013,-0.576 0,-0.482 C0.013,-0.388 0.174,-0.348 0.268,-0.308 C0.402,-0.254 0.522,-0.214 0.522,-0.12 C0.522,-0.04 0.402,0 0.254,0 C0.147,0 0.067,-0.054 0,-0.134"/><path transform="translate(8.523,0)" d="M0.000,-0.330 A0.330,0.330 0 1 0 0.660,-0.330 A0.330,0.330 0 1 0 0.000,-0.330 Z M0.66,-0.66 V0"/><path transform="translate(9.431,0)" d="M0,-0.66 V0 M0,-0.34 Q0.05,-0.64 0.36,-0.64"/><path transform="translate(10.040,0)" d="M0.02,-0.33 H0.66  A0.330,0.330 0 1 0 0.563,-0.097"/><path transform="translate(11.388,0)" d="M0.000,-0.330 A0.330,0.330 0 1 0 0.660,-0.330 A0.330,0.330 0 1 0 0.000,-0.330 Z M0,-0.66 V0.28"/><path transform="translate(12.296,0)" d="M0,-1 V-0.12 Q0,0 0.1,0"/><path transform="translate(12.645,0)" d="M0.000,-0.330 A0.330,0.330 0 1 0 0.660,-0.330 A0.330,0.330 0 1 0 0.000,-0.330 Z M0.66,-0.66 V0"/><path transform="translate(13.553,0)" d="M0.575,-0.551 A0.330,0.330 0 1 0 0.575,-0.109"/><path transform="translate(14.401,0)" d="M0.02,-0.33 H0.66  A0.330,0.330 0 1 0 0.563,-0.097"/><path transform="translate(15.310,0)" d="M0.000,-0.330 A0.330,0.330 0 1 0 0.660,-0.330 A0.330,0.330 0 1 0 0.000,-0.330 Z M0.66,-1 V0"/></g><g fill="#000"></g></g>
<g transform="translate(149.1,1696.2) scale(26.500)"><g fill="none" stroke="#000" stroke-width="0.1170" stroke-linecap="round" stroke-linejoin="round"><path transform="translate(0.000,0)" d="M0,-0.62 V0"/><path transform="translate(0.257,0)" d="M0,-0.66 V0 M0,-0.36 A0.3,0.3 0 0 1 0.6,-0.36 V0"/><path transform="translate(1.114,0)" d="M0.509,-0.535 C0.402,-0.616 0.335,-0.656 0.254,-0.656 C0.107,-0.656 -0.013,-0.576 0,-0.482 C0.013,-0.388 0.174,-0.348 0.268,-0.308 C0.402,-0.254 0.522,-0.214 0.522,-0.12 C0.522,-0.04 0.402,0 0.254,0 C0.147,0 0.067,-0.054 0,-0.134"/><path transform="translate(1.891,0)" d="M0,-0.62 V0"/><path transform="translate(2.148,0)" d="M0.000,-0.330 A0.330,0.330 0 1 0 0.660,-0.330 A0.330,0.330 0 1 0 0.000,-0.330 Z M0.66,-1 V0"/><path transform="translate(3.065,0)" d="M0.02,-0.33 H0.66  A0.330,0.330 0 1 0 0.563,-0.097"/><path transform="translate(4.437,0)" d="M0.12,-1 V-0.22 Q0.12,0 0.38,0 M0,-0.66 H0.32"/><path transform="translate(5.074,0)" d="M0,-1 V0 M0,-0.36 A0.3,0.3 0 0 1 0.6,-0.36 V0"/><path transform="translate(5.931,0)" d="M0.02,-0.33 H0.66  A0.330,0.330 0 1 0 0.563,-0.097"/><path transform="translate(7.302,0)" d="M0.12,-1 V-0.22 Q0.12,0 0.38,0 M0,-0.66 H0.32"/><path transform="translate(7.939,0)" d="M0,-1 V0 M0,-0.36 A0.3,0.3 0 0 1 0.6,-0.36 V0"/><path transform="translate(8.796,0)" d="M0.02,-0.33 H0.66  A0.330,0.330 0 1 0 0.563,-0.097"/><path transform="translate(9.713,0)" d="M0,-0.66 V0 M0,-0.34 Q0.05,-0.64 0.36,-0.64"/><path transform="translate(10.330,0)" d="M0,-0.66 V0 M0,-0.4 A0.25,0.25 0 0 1 0.5,-0.4 V0 M0.5,-0.4 A0.25,0.25 0 0 1 1.0,-0.4 V0"/><path transform="translate(11.587,0)" d="M0.000,-0.330 A0.330,0.330 0 1 0 0.660,-0.330 A0.330,0.330 0 1 0 0.000,-0.330 Z"/><path transform="translate(12.504,0)" d="M0.575,-0.551 A0.330,0.330 0 1 0 0.575,-0.109"/><path transform="translate(13.361,0)" d="M0,-0.66 L0.3,-0.02 M0.6,-0.66 L0.18,0.28"/><path transform="translate(14.218,0)" d="M0.575,-0.551 A0.330,0.330 0 1 0 0.575,-0.109"/><path transform="translate(15.075,0)" d="M0,-1 V-0.12 Q0,0 0.1,0"/><path transform="translate(15.432,0)" d="M0.02,-0.33 H0.66  A0.330,0.330 0 1 0 0.563,-0.097"/><path transform="translate(16.349,0)" d="M0,-0.66 V0 M0,-0.34 Q0.05,-0.64 0.36,-0.64"/></g><g fill="#000"><circle cx="0.000" cy="-0.900" r="0.073"/><circle cx="1.891" cy="-0.900" r="0.073"/><circle cx="16.966" cy="0.000" r="0.073"/></g></g>
<g transform="translate(1206.8,1670.8) scale(25.700)"><g fill="none" stroke="#000" stroke-width="0.1206" stroke-linecap="round" stroke-linejoin="round"><path transform="translate(0.000,0)" d="M0,-1 H0.72 M0.36,-1 V0"/><path transform="translate(0.996,0)" d="M0,-1 V0 M0,-0.36 A0.3,0.3 0 0 1 0.6,-0.36 V0"/><path transform="translate(1.872,0)" d="M0.02,-0.33 H0.66  A0.330,0.330 0 1 0 0.563,-0.097"/><path transform="translate(3.297,0)" d="M0.509,-0.535 C0.402,-0.616 0.335,-0.656 0.254,-0.656 C0.107,-0.656 -0.013,-0.576 0,-0.482 C0.013,-0.388 0.174,-0.348 0.268,-0.308 C0.402,-0.254 0.522,-0.214 0.522,-0.12 C0.522,-0.04 0.402,0 0.254,0 C0.147,0 0.067,-0.054 0,-0.134"/><path transform="translate(4.094,0)" d="M0.000,-0.330 A0.330,0.330 0 1 0 0.660,-0.330 A0.330,0.330 0 1 0 0.000,-0.330 Z M0.66,-0.66 V0"/><path transform="translate(5.030,0)" d="M0,-0.66 V0 M0,-0.4 A0.25,0.25 0 0 1 0.5,-0.4 V0 M0.5,-0.4 A0.25,0.25 0 0 1 1.0,-0.4 V0"/><path transform="translate(6.306,0)" d="M0.000,-0.330 A0.330,0.330 0 1 0 0.660,-0.330 A0.330,0.330 0 1 0 0.000,-0.330 Z M0,-0.66 V0.28"/><path transform="translate(7.242,0)" d="M0,-1 V-0.12 Q0,0 0.1,0"/><path transform="translate(7.619,0)" d="M0.02,-0.33 H0.66  A0.330,0.330 0 1 0 0.563,-0.097"/><path transform="translate(8.555,0)" d="M0.509,-0.535 C0.402,-0.616 0.335,-0.656 0.254,-0.656 C0.107,-0.656 -0.013,-0.576 0,-0.482 C0.013,-0.388 0.174,-0.348 0.268,-0.308 C0.402,-0.254 0.522,-0.214 0.522,-0.12 C0.522,-0.04 0.402,0 0.254,0 C0.147,0 0.067,-0.054 0,-0.134"/><path transform="translate(9.840,0)" d="M0.000,-0.330 A0.330,0.330 0 1 0 0.660,-0.330 A0.330,0.330 0 1 0 0.000,-0.330 Z M0.66,-0.66 V0"/><path transform="translate(10.776,0)" d="M0,-0.66 V0 M0,-0.34 Q0.05,-0.64 0.36,-0.64"/><path transform="translate(11.412,0)" d="M0.02,-0.33 H0.66  A0.330,0.330 0 1 0 0.563,-0.097"/><path transform="translate(12.837,0)" d="M0,-1 V-0.12 Q0,0 0.1,0"/><path transform="translate(13.214,0)" d="M0.000,-0.330 A0.330,0.330 0 1 0 0.660,-0.330 A0.330,0.330 0 1 0 0.000,-0.330 Z"/><path transform="translate(14.150,0)" d="M0.000,-0.330 A0.330,0.330 0 1 0 0.660,-0.330 A0.330,0.330 0 1 0 0.000,-0.330 Z M0.66,-0.66 V0"/><path transform="translate(15.086,0)" d="M0.000,-0.330 A0.330,0.330 0 1 0 0.660,-0.330 A0.330,0.330 0 1 0 0.000,-0.330 Z M0.66,-1 V0"/><path transform="translate(16.022,0)" d="M0.02,-0.33 H0.66  A0.330,0.330 0 1 0 0.563,-0.097"/><path transform="translate(16.959,0)" d="M0.000,-0.330 A0.330,0.330 0 1 0 0.660,-0.330 A0.330,0.330 0 1 0 0.000,-0.330 Z M0.66,-1 V0"/></g><g fill="#000"></g></g>
<g transform="translate(1197.6,1722.5) scale(25.700)"><g fill="none" stroke="#000" stroke-width="0.1206" stroke-linecap="round" stroke-linejoin="round"><path transform="translate(0.000,0)" d="M0,-0.62 V0"/><path transform="translate(0.270,0)" d="M0,-0.66 V0 M0,-0.36 A0.3,0.3 0 0 1 0.6,-0.36 V0"/><path transform="translate(1.139,0)" d="M0.12,-1 V-0.22 Q0.12,0 0.38,0 M0,-0.66 H0.32"/><path transform="translate(1.789,0)" d="M0.000,-0.330 A0.330,0.330 0 1 0 0.660,-0.330 A0.330,0.330 0 1 0 0.000,-0.330 Z"/><path transform="translate(3.195,0)" d="M0,-1 V-0.12 Q0,0 0.1,0"/><path transform="translate(3.565,0)" d="M0.000,-0.330 A0.330,0.330 0 1 0 0.660,-0.330 A0.330,0.330 0 1 0 0.000,-0.330 Z M0.66,-0.66 V0"/><path transform="translate(4.494,0)" d="M0,-0.66 V0 M0,-0.36 A0.3,0.3 0 0 1 0.6,-0.36 V0"/><path transform="translate(5.364,0)" d="M0.02,-0.33 H0.66  A0.330,0.330 0 1 0 0.563,-0.097"/><path transform="translate(6.293,0)" d="M0.509,-0.535 C0.402,-0.616 0.335,-0.656 0.254,-0.656 C0.107,-0.656 -0.013,-0.576 0,-0.482 C0.013,-0.388 0.174,-0.348 0.268,-0.308 C0.402,-0.254 0.522,-0.214 0.522,-0.12 C0.522,-0.04 0.402,0 0.254,0 C0.147,0 0.067,-0.054 0,-0.134"/><path transform="translate(7.560,0)" d="M0.000,-0.330 A0.330,0.330 0 1 0 0.660,-0.330 A0.330,0.330 0 1 0 0.000,-0.330 Z"/><path transform="translate(8.490,0)" d="M0.12,0 V-0.78 Q0.12,-1 0.36,-1 M0,-0.64 H0.32"/><path transform="translate(9.596,0)" d="M0.12,-1 V-0.22 Q0.12,0 0.38,0 M0,-0.66 H0.32"/><path transform="translate(10.246,0)" d="M0,-1 V0 M0,-0.36 A0.3,0.3 0 0 1 0.6,-0.36 V0"/><path transform="translate(11.115,0)" d="M0.02,-0.33 H0.66  A0.330,0.330 0 1 0 0.563,-0.097"/><path transform="translate(12.522,0)" d="M0.000,-0.330 A0.330,0.330 0 1 0 0.660,-0.330 A0.330,0.330 0 1 0 0.000,-0.330 Z M0.66,-0.66 V0"/><path transform="translate(13.451,0)" d="M0.000,-0.330 A0.330,0.330 0 1 0 0.660,-0.330 A0.330,0.330 0 1 0 0.000,-0.330 Z M0.66,-0.66 V0.0 Q0.66,0.28 0.33,0.28 Q0.12,0.28 0.03,0.18"/><path transform="translate(14.381,0)" d="M0.000,-0.330 A0.330,0.330 0 1 0 0.660,-0.330 A0.330,0.330 0 1 0 0.000,-0.330 Z M0.66,-0.66 V0"/><path transform="translate(15.310,0)" d="M0,-0.66 V0 M0,-0.34 Q0.05,-0.64 0.36,-0.64"/><path transform="translate(15.940,0)" d="M0.000,-0.330 A0.330,0.330 0 1 0 0.660,-0.330 A0.330,0.330 0 1 0 0.000,-0.330 Z"/><path transform="translate(16.869,0)" d="M0.509,-0.535 C0.402,-0.616 0.335,-0.656 0.254,-0.656 C0.107,-0.656 -0.013,-0.576 0,-0.482 C0.013,-0.388 0.174,-0.348 0.268,-0.308 C0.402,-0.254 0.522,-0.214 0.522,-0.12 C0.522,-0.04 0.402,0 0.254,0 C0.147,0 0.067,-0.054 0,-0.134"/><path transform="translate(17.659,0)" d="M0.02,-0.33 H0.66  A0.330,0.330 0 1 0 0.563,-0.097"/></g><g fill="#000"><circle cx="0.000" cy="-0.900" r="0.075"/></g></g>
<g transform="translate(1271.2,1772.0) scale(25.700)"><g fill="none" stroke="#000" stroke-width="0.1206" stroke-linecap="round" stroke-linejoin="round"><path transform="translate(0.000,0)" d="M0.000,-0.330 A0.330,0.330 0 1 0 0.660,-0.330 A0.330,0.330 0 1 0 0.000,-0.330 Z M0.66,-0.66 V0.0 Q0.66,0.28 0.33,0.28 Q0.12,0.28 0.03,0.18"/><path transform="translate(0.931,0)" d="M0.02,-0.33 H0.66  A0.330,0.330 0 1 0 0.563,-0.097"/><path transform="translate(1.861,0)" d="M0,-1 V-0.12 Q0,0 0.1,0"/><path transform="translate(2.711,0)" d="M0.12,-1 V-0.22 Q0.12,0 0.38,0 M0,-0.66 H0.32"/><path transform="translate(3.362,0)" d="M0.000,-0.330 A0.330,0.330 0 1 0 0.660,-0.330 A0.330,0.330 0 1 0 0.000,-0.330 Z"/><path transform="translate(4.771,0)" d="M0.000,-0.330 A0.330,0.330 0 1 0 0.660,-0.330 A0.330,0.330 0 1 0 0.000,-0.330 Z M0.66,-0.66 V0.0 Q0.66,0.28 0.33,0.28 Q0.12,0.28 0.03,0.18"/><path transform="translate(5.702,0)" d="M0.000,-0.330 A0.330,0.330 0 1 0 0.660,-0.330 A0.330,0.330 0 1 0 0.000,-0.330 Z"/><path transform="translate(7.111,0)" d="M0.12,-1 V-0.22 Q0.12,0 0.38,0 M0,-0.66 H0.32"/><path transform="translate(7.762,0)" d="M0,-1 V0 M0,-0.36 A0.3,0.3 0 0 1 0.6,-0.36 V0"/><path transform="translate(8.633,0)" d="M0,-0.66 V0 M0,-0.34 Q0.05,-0.64 0.36,-0.64"/><path transform="translate(9.263,0)" d="M0.000,-0.330 A0.330,0.330 0 1 0 0.660,-0.330 A0.330,0.330 0 1 0 0.000,-0.330 Z"/><path transform="translate(10.194,0)" d="M0,-0.66 V-0.3 A0.3,0.3 0 0 0 0.6,-0.3 M0.6,-0.66 V0"/><path transform="translate(11.065,0)" d="M0.000,-0.330 A0.330,0.330 0 1 0 0.660,-0.330 A0.330,0.330 0 1 0 0.000,-0.330 Z M0.66,-0.66 V0.0 Q0.66,0.28 0.33,0.28 Q0.12,0.28 0.03,0.18"/><path transform="translate(11.995,0)" d="M0,-1 V0 M0,-0.36 A0.3,0.3 0 0 1 0.6,-0.36 V0"/></g><g fill="#000"></g></g>
<g transform="translate(1282.0,1823.5) scale(25.700)"><g fill="none" stroke="#000" stroke-width="0.1206" stroke-linecap="round" stroke-linejoin="round"><path transform="translate(0.000,0)" d="M0.02,-0.33 H0.66  A0.330,0.330 0 1 0 0.563,-0.097"/><path transform="translate(0.950,0)" d="M0,-1 V-0.12 Q0,0 0.1,0"/><path transform="translate(1.341,0)" d="M0.02,-0.33 H0.66  A0.330,0.330 0 1 0 0.563,-0.097"/><path transform="translate(2.291,0)" d="M0.575,-0.551 A0.330,0.330 0 1 0 0.575,-0.109"/><path transform="translate(3.181,0)" d="M0.12,-1 V-0.22 Q0.12,0 0.38,0 M0,-0.66 H0.32"/><path transform="translate(3.852,0)" d="M0,-0.66 V0 M0,-0.34 Q0.05,-0.64 0.36,-0.64"/><path transform="translate(4.502,0)" d="M0.000,-0.330 A0.330,0.330 0 1 0 0.660,-0.330 A0.330,0.330 0 1 0 0.000,-0.330 Z"/><path transform="translate(5.452,0)" d="M0.000,-0.330 A0.330,0.330 0 1 0 0.660,-0.330 A0.330,0.330 0 1 0 0.000,-0.330 Z M0,-0.66 V0.28"/><path transform="translate(6.403,0)" d="M0,-1 V0 M0,-0.36 A0.3,0.3 0 0 1 0.6,-0.36 V0"/><path transform="translate(7.293,0)" d="M0.000,-0.330 A0.330,0.330 0 1 0 0.660,-0.330 A0.330,0.330 0 1 0 0.000,-0.330 Z"/><path transform="translate(8.243,0)" d="M0,-0.66 V0 M0,-0.34 Q0.05,-0.64 0.36,-0.64"/><path transform="translate(8.894,0)" d="M0.02,-0.33 H0.66  A0.330,0.330 0 1 0 0.563,-0.097"/><path transform="translate(9.844,0)" d="M0.509,-0.535 C0.402,-0.616 0.335,-0.656 0.254,-0.656 C0.107,-0.656 -0.013,-0.576 0,-0.482 C0.013,-0.388 0.174,-0.348 0.268,-0.308 C0.402,-0.254 0.522,-0.214 0.522,-0.12 C0.522,-0.04 0.402,0 0.254,0 C0.147,0 0.067,-0.054 0,-0.134"/><path transform="translate(10.654,0)" d="M0,-0.62 V0"/><path transform="translate(10.945,0)" d="M0.509,-0.535 C0.402,-0.616 0.335,-0.656 0.254,-0.656 C0.107,-0.656 -0.013,-0.576 0,-0.482 C0.013,-0.388 0.174,-0.348 0.268,-0.308 C0.402,-0.254 0.522,-0.214 0.522,-0.12 C0.522,-0.04 0.402,0 0.254,0 C0.147,0 0.067,-0.054 0,-0.134"/></g><g fill="#000"><circle cx="10.654" cy="-0.900" r="0.075"/><circle cx="11.755" cy="0.000" r="0.075"/></g></g>
<g transform="translate(1237.8,1977.5) scale(26.300)"><g fill="none" stroke="#000" stroke-width="0.1179" stroke-linecap="round" stroke-linejoin="round"><path transform="translate(0.000,0)" d="M 0.606 -0.813 C 0.478 -0.936 0.399 -0.997 0.302 -0.997 C 0.127 -0.997 -0.015 -0.876 0.000 -0.733 C 0.015 -0.590 0.207 -0.529 0.319 -0.468 C 0.478 -0.386 0.621 -0.325 0.621 -0.182 C 0.621 -0.061 0.478 0.000 0.302 0.000 C 0.175 0.000 0.080 -0.082 0.000 -0.204"/><path transform="translate(0.876,0)" d="M0,-0.62 V0"/><path transform="translate(1.133,0)" d="M0,-0.66 V0 M0,-0.36 A0.3,0.3 0 0 1 0.6,-0.36 V0"/><path transform="translate(1.989,0)" d="M0.575,-0.551 A0.330,0.330 0 1 0 0.575,-0.109"/><path transform="translate(2.845,0)" d="M0.02,-0.33 H0.66  A0.330,0.330 0 1 0 0.563,-0.097"/><path transform="translate(4.215,0)" d="M0,0 V-1 H0.24 A0.5,0.5 0 0 1 0.24,0 Z"/><path transform="translate(5.211,0)" d="M0,0 V-1 L0.74,0 V-1"/><path transform="translate(6.208,0)" d="M0,0 L0.42,-1 L0.84,0 M0.17,-0.36 H0.67"/><path transform="translate(7.758,0)" d="M0,-1 V0 M0,-0.36 A0.3,0.3 0 0 1 0.6,-0.36 V0"/><path transform="translate(8.614,0)" d="M0.000,-0.330 A0.330,0.330 0 1 0 0.660,-0.330 A0.330,0.330 0 1 0 0.000,-0.330 Z M0.66,-0.66 V0"/><path transform="translate(9.530,0)" d="M0.509,-0.535 C0.402,-0.616 0.335,-0.656 0.254,-0.656 C0.107,-0.656 -0.013,-0.576 0,-0.482 C0.013,-0.388 0.174,-0.348 0.268,-0.308 C0.402,-0.254 0.522,-0.214 0.522,-0.12 C0.522,-0.04 0.402,0 0.254,0 C0.147,0 0.067,-0.054 0,-0.134"/><path transform="translate(10.760,0)" d="M0.000,-0.330 A0.330,0.330 0 1 0 0.660,-0.330 A0.330,0.330 0 1 0 0.000,-0.330 Z M0,-0.66 V0.28"/><path transform="translate(11.676,0)" d="M0.000,-0.330 A0.330,0.330 0 1 0 0.660,-0.330 A0.330,0.330 0 1 0 0.000,-0.330 Z"/><path transform="translate(12.593,0)" d="M0.509,-0.535 C0.402,-0.616 0.335,-0.656 0.254,-0.656 C0.107,-0.656 -0.013,-0.576 0,-0.482 C0.013,-0.388 0.174,-0.348 0.268,-0.308 C0.402,-0.254 0.522,-0.214 0.522,-0.12 C0.522,-0.04 0.402,0 0.254,0 C0.147,0 0.067,-0.054 0,-0.134"/><path transform="translate(13.369,0)" d="M0,-0.62 V0"/><path transform="translate(13.625,0)" d="M0.12,-1 V-0.22 Q0.12,0 0.38,0 M0,-0.66 H0.32"/><path transform="translate(14.262,0)" d="M0,-0.62 V0"/><path transform="translate(14.518,0)" d="M0,-0.66 L0.3,0 L0.6,-0.66"/><path transform="translate(15.374,0)" d="M0.02,-0.33 H0.66  A0.330,0.330 0 1 0 0.563,-0.097"/></g><g fill="#000"><circle cx="0.876" cy="-0.900" r="0.073"/><circle cx="13.369" cy="-0.900" r="0.073"/><circle cx="14.262" cy="-0.900" r="0.073"/></g></g>
<g transform="translate(1246.2,2028.2) scale(26.300)"><g fill="none" stroke="#000" stroke-width="0.1179" stroke-linecap="round" stroke-linejoin="round"><path transform="translate(0.000,0)" d="M0.575,-0.551 A0.330,0.330 0 1 0 0.575,-0.109"/><path transform="translate(0.857,0)" d="M0,-1 V0 M0,-0.36 A0.3,0.3 0 0 1 0.6,-0.36 V0"/><path transform="translate(1.715,0)" d="M0.000,-0.330 A0.330,0.330 0 1 0 0.660,-0.330 A0.330,0.330 0 1 0 0.000,-0.330 Z M0.66,-0.66 V0"/><path transform="translate(2.632,0)" d="M0,-0.66 V0 M0,-0.34 Q0.05,-0.64 0.36,-0.64"/><path transform="translate(3.249,0)" d="M0.000,-0.330 A0.330,0.330 0 1 0 0.660,-0.330 A0.330,0.330 0 1 0 0.000,-0.330 Z M0.66,-0.66 V0.0 Q0.66,0.28 0.33,0.28 Q0.12,0.28 0.03,0.18"/><path transform="translate(4.166,0)" d="M0.02,-0.33 H0.66  A0.330,0.330 0 1 0 0.563,-0.097"/><path transform="translate(5.084,0)" d="M0.06,-0.03 L-0.02,0.2"/><path transform="translate(5.856,0)" d="M0.12,-1 V-0.22 Q0.12,0 0.38,0 M0,-0.66 H0.32"/><path transform="translate(6.493,0)" d="M0,-1 V0 M0,-0.36 A0.3,0.3 0 0 1 0.6,-0.36 V0"/><path transform="translate(7.351,0)" d="M0.02,-0.33 H0.66  A0.330,0.330 0 1 0 0.563,-0.097"/><path transform="translate(8.723,0)" d="M0.02,-0.33 H0.66  A0.330,0.330 0 1 0 0.563,-0.097"/><path transform="translate(9.640,0)" d="M0,-1 V-0.12 Q0,0 0.1,0"/><path transform="translate(9.997,0)" d="M0.02,-0.33 H0.66  A0.330,0.330 0 1 0 0.563,-0.097"/><path transform="translate(10.915,0)" d="M0.12,-1 V-0.22 Q0.12,0 0.38,0 M0,-0.66 H0.32"/><path transform="translate(11.552,0)" d="M0,-0.66 V0 M0,-0.34 Q0.05,-0.64 0.36,-0.64"/><path transform="translate(12.169,0)" d="M0.000,-0.330 A0.330,0.330 0 1 0 0.660,-0.330 A0.330,0.330 0 1 0 0.000,-0.330 Z"/><path transform="translate(13.087,0)" d="M0.000,-0.330 A0.330,0.330 0 1 0 0.660,-0.330 A0.330,0.330 0 1 0 0.000,-0.330 Z M0.66,-1 V0"/><path transform="translate(14.004,0)" d="M0.02,-0.33 H0.66  A0.330,0.330 0 1 0 0.563,-0.097"/><path transform="translate(14.921,0)" d="M0.509,-0.535 C0.402,-0.616 0.335,-0.656 0.254,-0.656 C0.107,-0.656 -0.013,-0.576 0,-0.482 C0.013,-0.388 0.174,-0.348 0.268,-0.308 C0.402,-0.254 0.522,-0.214 0.522,-0.12 C0.522,-0.04 0.402,0 0.254,0 C0.147,0 0.067,-0.054 0,-0.134"/></g><g fill="#000"></g></g>
<g transform="translate(1229.0,2079.4) scale(26.300)"><g fill="none" stroke="#000" stroke-width="0.1179" stroke-linecap="round" stroke-linejoin="round"><path transform="translate(0.000,0)" d="M0,-0.66 V0 M0,-0.4 A0.25,0.25 0 0 1 0.5,-0.4 V0 M0.5,-0.4 A0.25,0.25 0 0 1 1.0,-0.4 V0"/><path transform="translate(1.261,0)" d="M0.000,-0.330 A0.330,0.330 0 1 0 0.660,-0.330 A0.330,0.330 0 1 0 0.000,-0.330 Z M0.66,-0.66 V0"/><path transform="translate(2.182,0)" d="M0,-1 V0 M0.48,-0.66 L0.02,-0.24 M0.2,-0.42 L0.52,0"/><path transform="translate(2.943,0)" d="M0.02,-0.33 H0.66  A0.330,0.330 0 1 0 0.563,-0.097"/><path transform="translate(4.325,0)" d="M0.12,-1 V-0.22 Q0.12,0 0.38,0 M0,-0.66 H0.32"/><path transform="translate(4.966,0)" d="M0,-1 V0 M0,-0.36 A0.3,0.3 0 0 1 0.6,-0.36 V0"/><path transform="translate(5.827,0)" d="M0.02,-0.33 H0.66  A0.330,0.330 0 1 0 0.563,-0.097"/><path transform="translate(7.210,0)" d="M0,0 V-1 H0.24 A0.5,0.5 0 0 1 0.24,0 Z"/><path transform="translate(8.211,0)" d="M0,0 V-1 L0.74,0 V-1"/><path transform="translate(9.212,0)" d="M0,0 L0.42,-1 L0.84,0 M0.17,-0.36 H0.67"/><path transform="translate(10.774,0)" d="M0,-0.66 V0 M0,-0.34 Q0.05,-0.64 0.36,-0.64"/><path transform="translate(11.395,0)" d="M0,-0.66 V-0.3 A0.3,0.3 0 0 0 0.6,-0.3 M0.6,-0.66 V0"/><path transform="translate(12.256,0)" d="M0,-0.66 V0 M0,-0.36 A0.3,0.3 0 0 1 0.6,-0.36 V0"/><path transform="translate(13.579,0)" d="M0.12,0 V-0.78 Q0.12,-1 0.36,-1 M0,-0.64 H0.32"/><path transform="translate(14.200,0)" d="M0,-0.66 V0 M0,-0.34 Q0.05,-0.64 0.36,-0.64"/><path transform="translate(14.821,0)" d="M0.000,-0.330 A0.330,0.330 0 1 0 0.660,-0.330 A0.330,0.330 0 1 0 0.000,-0.330 Z"/><path transform="translate(15.741,0)" d="M0,-0.66 V0 M0,-0.4 A0.25,0.25 0 0 1 0.5,-0.4 V0 M0.5,-0.4 A0.25,0.25 0 0 1 1.0,-0.4 V0"/></g><g fill="#000"></g></g>
<g transform="translate(1233.1,2130.0) scale(26.300)"><g fill="none" stroke="#000" stroke-width="0.1179" stroke-linecap="round" stroke-linejoin="round"><path transform="translate(0.000,0)" d="M0.12,-1 V-0.22 Q0.12,0 0.38,0 M0,-0.66 H0.32"/><path transform="translate(0.632,0)" d="M0,-1 V0 M0,-0.36 A0.3,0.3 0 0 1 0.6,-0.36 V0"/><path transform="translate(1.485,0)" d="M0.02,-0.33 H0.66  A0.330,0.330 0 1 0 0.563,-0.097"/><path transform="translate(2.843,0)" d="M0.000,-0.330 A0.330,0.330 0 1 0 0.660,-0.330 A0.330,0.330 0 1 0 0.000,-0.330 Z M0,-0.66 V0.28"/><path transform="translate(3.756,0)" d="M0.000,-0.330 A0.330,0.330 0 1 0 0.660,-0.330 A0.330,0.330 0 1 0 0.000,-0.330 Z"/><path transform="translate(4.668,0)" d="M0.509,-0.535 C0.402,-0.616 0.335,-0.656 0.254,-0.656 C0.107,-0.656 -0.013,-0.576 0,-0.482 C0.013,-0.388 0.174,-0.348 0.268,-0.308 C0.402,-0.254 0.522,-0.214 0.522,-0.12 C0.522,-0.04 0.402,0 0.254,0 C0.147,0 0.067,-0.054 0,-0.134"/><path transform="translate(5.440,0)" d="M0,-0.62 V0"/><path transform="translate(5.693,0)" d="M0.12,-1 V-0.22 Q0.12,0 0.38,0 M0,-0.66 H0.32"/><path transform="translate(6.325,0)" d="M0,-0.62 V0"/><path transform="translate(6.577,0)" d="M0,-0.66 L0.3,0 L0.6,-0.66"/><path transform="translate(7.430,0)" d="M0.02,-0.33 H0.66  A0.330,0.330 0 1 0 0.563,-0.097"/><path transform="translate(8.789,0)" d="M0.000,-0.330 A0.330,0.330 0 1 0 0.660,-0.330 A0.330,0.330 0 1 0 0.000,-0.330 Z M0,-0.66 V0.28"/><path transform="translate(9.701,0)" d="M0.000,-0.330 A0.330,0.330 0 1 0 0.660,-0.330 A0.330,0.330 0 1 0 0.000,-0.330 Z"/><path transform="translate(10.613,0)" d="M0,-1 V-0.12 Q0,0 0.1,0"/><path transform="translate(10.966,0)" d="M0.02,-0.33 H0.66  A0.330,0.330 0 1 0 0.563,-0.097"/><path transform="translate(12.324,0)" d="M0.12,-1 V-0.22 Q0.12,0 0.38,0 M0,-0.66 H0.32"/><path transform="translate(12.957,0)" d="M0.000,-0.330 A0.330,0.330 0 1 0 0.660,-0.330 A0.330,0.330 0 1 0 0.000,-0.330 Z"/><path transform="translate(14.315,0)" d="M0.12,-1 V-0.22 Q0.12,0 0.38,0 M0,-0.66 H0.32"/><path transform="translate(14.948,0)" d="M0,-1 V0 M0,-0.36 A0.3,0.3 0 0 1 0.6,-0.36 V0"/><path transform="translate(15.800,0)" d="M0.02,-0.33 H0.66  A0.330,0.330 0 1 0 0.563,-0.097"/></g><g fill="#000"><circle cx="5.440" cy="-0.900" r="0.073"/><circle cx="6.325" cy="-0.900" r="0.073"/></g></g>
<g transform="translate(1265.8,2181.8) scale(26.300)"><g fill="none" stroke="#000" stroke-width="0.1179" stroke-linecap="round" stroke-linejoin="round"><path transform="translate(0.000,0)" d="M0,-0.66 V0 M0,-0.36 A0.3,0.3 0 0 1 0.6,-0.36 V0"/><path transform="translate(0.866,0)" d="M0.02,-0.33 H0.66  A0.330,0.330 0 1 0 0.563,-0.097"/><path transform="translate(1.793,0)" d="M0.000,-0.330 A0.330,0.330 0 1 0 0.660,-0.330 A0.330,0.330 0 1 0 0.000,-0.330 Z M0.66,-0.66 V0.0 Q0.66,0.28 0.33,0.28 Q0.12,0.28 0.03,0.18"/><path transform="translate(2.719,0)" d="M0.000,-0.330 A0.330,0.330 0 1 0 0.660,-0.330 A0.330,0.330 0 1 0 0.000,-0.330 Z M0.66,-0.66 V0"/><path transform="translate(3.646,0)" d="M0.12,-1 V-0.22 Q0.12,0 0.38,0 M0,-0.66 H0.32"/><path transform="translate(4.292,0)" d="M0,-0.62 V0"/><path transform="translate(4.559,0)" d="M0,-0.66 L0.3,0 L0.6,-0.66"/><path transform="translate(5.425,0)" d="M0.02,-0.33 H0.66  A0.330,0.330 0 1 0 0.563,-0.097"/><path transform="translate(6.823,0)" d="M0.000,-0.330 A0.330,0.330 0 1 0 0.660,-0.330 A0.330,0.330 0 1 0 0.000,-0.330 Z M0,-0.66 V0.28"/><path transform="translate(7.750,0)" d="M0.000,-0.330 A0.330,0.330 0 1 0 0.660,-0.330 A0.330,0.330 0 1 0 0.000,-0.330 Z"/><path transform="translate(8.676,0)" d="M0,-1 V-0.12 Q0,0 0.1,0"/><path transform="translate(9.043,0)" d="M0.02,-0.33 H0.66  A0.330,0.330 0 1 0 0.563,-0.097"/><path transform="translate(10.707,0)" d="M0.58,-1 H0 V0 H0.58 M0,-0.5 H0.5"/><path transform="translate(11.554,0)" d="M0.000,-0.330 A0.330,0.330 0 1 0 0.660,-0.330 A0.330,0.330 0 1 0 0.000,-0.330 Z M0.66,-0.66 V0"/><path transform="translate(12.480,0)" d="M0.575,-0.551 A0.330,0.330 0 1 0 0.575,-0.109"/><path transform="translate(13.347,0)" d="M0,-1 V0 M0,-0.36 A0.3,0.3 0 0 1 0.6,-0.36 V0"/></g><g fill="#000"><circle cx="4.292" cy="-0.900" r="0.073"/><circle cx="9.969" cy="0.000" r="0.073"/></g></g>
<g transform="translate(1210.3,2232.4) scale(26.300)"><g fill="none" stroke="#000" stroke-width="0.1179" stroke-linecap="round" stroke-linejoin="round"><path transform="translate(0.000,0)" d="M0.509,-0.535 C0.402,-0.616 0.335,-0.656 0.254,-0.656 C0.107,-0.656 -0.013,-0.576 0,-0.482 C0.013,-0.388 0.174,-0.348 0.268,-0.308 C0.402,-0.254 0.522,-0.214 0.522,-0.12 C0.522,-0.04 0.402,0 0.254,0 C0.147,0 0.067,-0.054 0,-0.134"/><path transform="translate(0.781,0)" d="M0.000,-0.330 A0.330,0.330 0 1 0 0.660,-0.330 A0.330,0.330 0 1 0 0.000,-0.330 Z M0.66,-0.66 V0"/><path transform="translate(1.702,0)" d="M0,-0.66 V0 M0,-0.4 A0.25,0.25 0 0 1 0.5,-0.4 V0 M0.5,-0.4 A0.25,0.25 0 0 1 1.0,-0.4 V0"/><path transform="translate(2.964,0)" d="M0.000,-0.330 A0.330,0.330 0 1 0 0.660,-0.330 A0.330,0.330 0 1 0 0.000,-0.330 Z M0,-0.66 V0.28"/><path transform="translate(3.885,0)" d="M0,-1 V-0.12 Q0,0 0.1,0"/><path transform="translate(4.246,0)" d="M0.02,-0.33 H0.66  A0.330,0.330 0 1 0 0.563,-0.097"/><path transform="translate(5.630,0)" d="M0,-0.66 V0 M0,-0.34 Q0.05,-0.64 0.36,-0.64"/><path transform="translate(6.251,0)" d="M0.02,-0.33 H0.66  A0.330,0.330 0 1 0 0.563,-0.097"/><path transform="translate(7.172,0)" d="M0.000,-0.330 A0.330,0.330 0 1 0 0.660,-0.330 A0.330,0.330 0 1 0 0.000,-0.330 Z M0.66,-0.66 V0"/><path transform="translate(8.093,0)" d="M0.575,-0.551 A0.330,0.330 0 1 0 0.575,-0.109"/><path transform="translate(8.955,0)" d="M0,-1 V0 M0,-0.36 A0.3,0.3 0 0 1 0.6,-0.36 V0"/><path transform="translate(9.816,0)" d="M0.02,-0.33 H0.66  A0.330,0.330 0 1 0 0.563,-0.097"/><path transform="translate(10.737,0)" d="M0.509,-0.535 C0.402,-0.616 0.335,-0.656 0.254,-0.656 C0.107,-0.656 -0.013,-0.576 0,-0.482 C0.013,-0.388 0.174,-0.348 0.268,-0.308 C0.402,-0.254 0.522,-0.214 0.522,-0.12 C0.522,-0.04 0.402,0 0.254,0 C0.147,0 0.067,-0.054 0,-0.134"/><path transform="translate(11.980,0)" d="M0.000,-0.330 A0.330,0.330 0 1 0 0.660,-0.330 A0.330,0.330 0 1 0 0.000,-0.330 Z M0.66,-1 V0"/><path transform="translate(12.902,0)" d="M0,-0.62 V0"/><path transform="translate(13.163,0)" d="M0.12,0 V-0.78 Q0.12,-1 0.36,-1 M0,-0.64 H0.32"/><path transform="translate(13.784,0)" d="M0.12,0 V-0.78 Q0.12,-1 0.36,-1 M0,-0.64 H0.32"/><path transform="translate(14.405,0)" d="M0.02,-0.33 H0.66  A0.330,0.330 0 1 0 0.563,-0.097"/><path transform="translate(15.327,0)" d="M0,-0.66 V0 M0,-0.34 Q0.05,-0.64 0.36,-0.64"/><path transform="translate(15.948,0)" d="M0.02,-0.33 H0.66  A0.330,0.330 0 1 0 0.563,-0.097"/><path transform="translate(16.869,0)" d="M0,-0.66 V0 M0,-0.36 A0.3,0.3 0 0 1 0.6,-0.36 V0"/><path transform="translate(17.730,0)" d="M0.12,-1 V-0.22 Q0.12,0 0.38,0 M0,-0.66 H0.32"/></g><g fill="#000"><circle cx="12.902" cy="-0.900" r="0.073"/></g></g>
<g transform="translate(1226.6,2283.0) scale(26.300)"><g fill="none" stroke="#000" stroke-width="0.1179" stroke-linecap="round" stroke-linejoin="round"><path transform="translate(0.000,0)" d="M0.000,-0.330 A0.330,0.330 0 1 0 0.660,-0.330 A0.330,0.330 0 1 0 0.000,-0.330 Z M0.66,-1 V0"/><path transform="translate(0.922,0)" d="M0,-0.62 V0"/><path transform="translate(1.185,0)" d="M0.509,-0.535 C0.402,-0.616 0.335,-0.656 0.254,-0.656 C0.107,-0.656 -0.013,-0.576 0,-0.482 C0.013,-0.388 0.174,-0.348 0.268,-0.308 C0.402,-0.254 0.522,-0.214 0.522,-0.12 C0.522,-0.04 0.402,0 0.254,0 C0.147,0 0.067,-0.054 0,-0.134"/><path transform="translate(1.967,0)" d="M0.12,-1 V-0.22 Q0.12,0 0.38,0 M0,-0.66 H0.32"/><path transform="translate(2.609,0)" d="M0.000,-0.330 A0.330,0.330 0 1 0 0.660,-0.330 A0.330,0.330 0 1 0 0.000,-0.330 Z M0.66,-0.66 V0"/><path transform="translate(3.531,0)" d="M0,-0.66 V0 M0,-0.36 A0.3,0.3 0 0 1 0.6,-0.36 V0"/><path transform="translate(4.394,0)" d="M0.575,-0.551 A0.330,0.330 0 1 0 0.575,-0.109"/><path transform="translate(5.256,0)" d="M0.02,-0.33 H0.66  A0.330,0.330 0 1 0 0.563,-0.097"/><path transform="translate(6.178,0)" d="M0.509,-0.535 C0.402,-0.616 0.335,-0.656 0.254,-0.656 C0.107,-0.656 -0.013,-0.576 0,-0.482 C0.013,-0.388 0.174,-0.348 0.268,-0.308 C0.402,-0.254 0.522,-0.214 0.522,-0.12 C0.522,-0.04 0.402,0 0.254,0 C0.147,0 0.067,-0.054 0,-0.134"/><path transform="translate(7.425,0)" d="M0.000,-0.330 A0.330,0.330 0 1 0 0.660,-0.330 A0.330,0.330 0 1 0 0.000,-0.330 Z M0.66,-1 V0"/><path transform="translate(8.347,0)" d="M0.02,-0.33 H0.66  A0.330,0.330 0 1 0 0.563,-0.097"/><path transform="translate(9.269,0)" d="M0.000,-0.330 A0.330,0.330 0 1 0 0.660,-0.330 A0.330,0.330 0 1 0 0.000,-0.330 Z M0,-0.66 V0.28"/><path transform="translate(10.191,0)" d="M0.02,-0.33 H0.66  A0.330,0.330 0 1 0 0.563,-0.097"/><path transform="translate(11.114,0)" d="M0,-0.66 V0 M0,-0.36 A0.3,0.3 0 0 1 0.6,-0.36 V0"/><path transform="translate(11.976,0)" d="M0.000,-0.330 A0.330,0.330 0 1 0 0.660,-0.330 A0.330,0.330 0 1 0 0.000,-0.330 Z M0.66,-1 V0"/><path transform="translate(12.898,0)" d="M0,-0.62 V0"/><path transform="translate(13.161,0)" d="M0,-0.66 V0 M0,-0.36 A0.3,0.3 0 0 1 0.6,-0.36 V0"/><path transform="translate(14.023,0)" d="M0.000,-0.330 A0.330,0.330 0 1 0 0.660,-0.330 A0.330,0.330 0 1 0 0.000,-0.330 Z M0.66,-0.66 V0.0 Q0.66,0.28 0.33,0.28 Q0.12,0.28 0.03,0.18"/><path transform="translate(15.409,0)" d="M0.000,-0.330 A0.330,0.330 0 1 0 0.660,-0.330 A0.330,0.330 0 1 0 0.000,-0.330 Z"/><path transform="translate(16.332,0)" d="M0,-0.66 V0 M0,-0.36 A0.3,0.3 0 0 1 0.6,-0.36 V0"/></g><g fill="#000"><circle cx="0.922" cy="-0.900" r="0.073"/><circle cx="12.898" cy="-0.900" r="0.073"/></g></g>
<g transform="translate(1236.5,2334.6) scale(26.300)"><g fill="none" stroke="#000" stroke-width="0.1179" stroke-linecap="round" stroke-linejoin="round"><path transform="translate(0.000,0)" d="M0.12,-1 V-0.22 Q0.12,0 0.38,0 M0,-0.66 H0.32"/><path transform="translate(0.642,0)" d="M0,-1 V0 M0,-0.36 A0.3,0.3 0 0 1 0.6,-0.36 V0"/><path transform="translate(1.505,0)" d="M0.02,-0.33 H0.66  A0.330,0.330 0 1 0 0.563,-0.097"/><path transform="translate(2.427,0)" d="M0,-0.62 V0"/><path transform="translate(2.689,0)" d="M0,-0.66 V0 M0,-0.34 Q0.05,-0.64 0.36,-0.64"/><path transform="translate(3.776,0)" d="M0.509,-0.535 C0.402,-0.616 0.335,-0.656 0.254,-0.656 C0.107,-0.656 -0.013,-0.576 0,-0.482 C0.013,-0.388 0.174,-0.348 0.268,-0.308 C0.402,-0.254 0.522,-0.214 0.522,-0.12 C0.522,-0.04 0.402,0 0.254,0 C0.147,0 0.067,-0.054 0,-0.134"/><path transform="translate(4.558,0)" d="M0,-0.62 V0"/><path transform="translate(4.821,0)" d="M0,-0.66 H0.54 L0,0 H0.54"/><path transform="translate(5.623,0)" d="M0.02,-0.33 H0.66  A0.330,0.330 0 1 0 0.563,-0.097"/><path transform="translate(7.010,0)" d="M0.000,-0.330 A0.330,0.330 0 1 0 0.660,-0.330 A0.330,0.330 0 1 0 0.000,-0.330 Z M0.66,-0.66 V0"/><path transform="translate(7.932,0)" d="M0,-0.66 V0 M0,-0.36 A0.3,0.3 0 0 1 0.6,-0.36 V0"/><path transform="translate(8.794,0)" d="M0.000,-0.330 A0.330,0.330 0 1 0 0.660,-0.330 A0.330,0.330 0 1 0 0.000,-0.330 Z M0.66,-1 V0"/><path transform="translate(10.181,0)" d="M0.000,-0.330 A0.330,0.330 0 1 0 0.660,-0.330 A0.330,0.330 0 1 0 0.000,-0.330 Z M0.66,-0.66 V0.28"/><path transform="translate(11.103,0)" d="M0,-0.66 V-0.3 A0.3,0.3 0 0 0 0.6,-0.3 M0.6,-0.66 V0"/><path transform="translate(11.966,0)" d="M0.000,-0.330 A0.330,0.330 0 1 0 0.660,-0.330 A0.330,0.330 0 1 0 0.000,-0.330 Z M0.66,-0.66 V0"/><path transform="translate(12.888,0)" d="M0,-0.66 V0 M0,-0.36 A0.3,0.3 0 0 1 0.6,-0.36 V0"/><path transform="translate(13.750,0)" d="M0.12,-1 V-0.22 Q0.12,0 0.38,0 M0,-0.66 H0.32"/><path transform="translate(14.393,0)" d="M0,-0.62 V0"/><path transform="translate(14.655,0)" d="M0.12,-1 V-0.22 Q0.12,0 0.38,0 M0,-0.66 H0.32"/><path transform="translate(15.297,0)" d="M0,-0.66 L0.3,-0.02 M0.6,-0.66 L0.18,0.28"/></g><g fill="#000"><circle cx="2.427" cy="-0.900" r="0.073"/><circle cx="4.558" cy="-0.900" r="0.073"/><circle cx="14.393" cy="-0.900" r="0.073"/><circle cx="16.160" cy="0.000" r="0.073"/></g></g>
<g transform="translate(124.1,2177.8) scale(26.200)"><g fill="none" stroke="#000" stroke-width="0.1183" stroke-linecap="round" stroke-linejoin="round"><path transform="translate(0.000,0)" d="M0,-1 H0.72 M0.36,-1 V0"/><path transform="translate(0.987,0)" d="M0,-1 V0 M0,-0.36 A0.3,0.3 0 0 1 0.6,-0.36 V0"/><path transform="translate(1.854,0)" d="M0.02,-0.33 H0.66  A0.330,0.330 0 1 0 0.563,-0.097"/><path transform="translate(3.252,0)" d="M0.12,-1 V-0.22 Q0.12,0 0.38,0 M0,-0.66 H0.32"/><path transform="translate(3.899,0)" d="M0,-1 V0 M0,-0.36 A0.3,0.3 0 0 1 0.6,-0.36 V0"/><path transform="translate(4.766,0)" d="M0.02,-0.33 H0.66  A0.330,0.330 0 1 0 0.563,-0.097"/><path transform="translate(5.693,0)" d="M0,-0.66 V0 M0,-0.34 Q0.05,-0.64 0.36,-0.64"/><path transform="translate(6.320,0)" d="M0,-0.66 V0 M0,-0.4 A0.25,0.25 0 0 1 0.5,-0.4 V0 M0.5,-0.4 A0.25,0.25 0 0 1 1.0,-0.4 V0"/><path transform="translate(7.587,0)" d="M0.000,-0.330 A0.330,0.330 0 1 0 0.660,-0.330 A0.330,0.330 0 1 0 0.000,-0.330 Z"/><path transform="translate(8.513,0)" d="M0.575,-0.551 A0.330,0.330 0 1 0 0.575,-0.109"/><path transform="translate(9.380,0)" d="M0,-0.66 L0.3,-0.02 M0.6,-0.66 L0.18,0.28"/><path transform="translate(10.247,0)" d="M0.575,-0.551 A0.330,0.330 0 1 0 0.575,-0.109"/><path transform="translate(11.114,0)" d="M0,-1 V-0.12 Q0,0 0.1,0"/><path transform="translate(11.481,0)" d="M0.02,-0.33 H0.66  A0.330,0.330 0 1 0 0.563,-0.097"/><path transform="translate(12.407,0)" d="M0,-0.66 V0 M0,-0.34 Q0.05,-0.64 0.36,-0.64"/><path transform="translate(13.506,0)" d="M0.575,-0.551 A0.330,0.330 0 1 0 0.575,-0.109"/><path transform="translate(14.373,0)" d="M0.000,-0.330 A0.330,0.330 0 1 0 0.660,-0.330 A0.330,0.330 0 1 0 0.000,-0.330 Z M0.66,-0.66 V0"/><path transform="translate(15.300,0)" d="M0,-0.66 V0 M0,-0.34 Q0.05,-0.64 0.36,-0.64"/><path transform="translate(15.927,0)" d="M0,-0.66 V0 M0,-0.34 Q0.05,-0.64 0.36,-0.64"/><path transform="translate(16.554,0)" d="M0,-0.62 V0"/><path transform="translate(16.820,0)" d="M0.02,-0.33 H0.66  A0.330,0.330 0 1 0 0.563,-0.097"/><path transform="translate(17.747,0)" d="M0.509,-0.535 C0.402,-0.616 0.335,-0.656 0.254,-0.656 C0.107,-0.656 -0.013,-0.576 0,-0.482 C0.013,-0.388 0.174,-0.348 0.268,-0.308 C0.402,-0.254 0.522,-0.214 0.522,-0.12 C0.522,-0.04 0.402,0 0.254,0 C0.147,0 0.067,-0.054 0,-0.134"/></g><g fill="#000"><circle cx="16.554" cy="-0.900" r="0.073"/></g></g>
<g transform="translate(121.5,2228.3) scale(26.200)"><g fill="none" stroke="#000" stroke-width="0.1183" stroke-linecap="round" stroke-linejoin="round"><path transform="translate(0.000,0)" d="M0.12,-1 V-0.22 Q0.12,0 0.38,0 M0,-0.66 H0.32"/><path transform="translate(0.633,0)" d="M0,-1 V0 M0,-0.36 A0.3,0.3 0 0 1 0.6,-0.36 V0"/><path transform="translate(1.487,0)" d="M0.02,-0.33 H0.66  A0.330,0.330 0 1 0 0.563,-0.097"/><path transform="translate(2.848,0)" d="M0.12,-1 V-0.22 Q0.12,0 0.38,0 M0,-0.66 H0.32"/><path transform="translate(3.481,0)" d="M0,-1 V0 M0,-0.36 A0.3,0.3 0 0 1 0.6,-0.36 V0"/><path transform="translate(4.334,0)" d="M0.02,-0.33 H0.66  A0.330,0.330 0 1 0 0.563,-0.097"/><path transform="translate(5.248,0)" d="M0,-0.66 V0 M0,-0.34 Q0.05,-0.64 0.36,-0.64"/><path transform="translate(5.861,0)" d="M0,-0.66 V0 M0,-0.4 A0.25,0.25 0 0 1 0.5,-0.4 V0 M0.5,-0.4 A0.25,0.25 0 0 1 1.0,-0.4 V0"/><path transform="translate(7.114,0)" d="M0.000,-0.330 A0.330,0.330 0 1 0 0.660,-0.330 A0.330,0.330 0 1 0 0.000,-0.330 Z M0.66,-0.66 V0"/><path transform="translate(8.028,0)" d="M0,-1 V-0.12 Q0,0 0.1,0"/><path transform="translate(8.829,0)" d="M0.575,-0.551 A0.330,0.330 0 1 0 0.575,-0.109"/><path transform="translate(9.682,0)" d="M0,-0.66 L0.3,-0.02 M0.6,-0.66 L0.18,0.28"/><path transform="translate(10.535,0)" d="M0.575,-0.551 A0.330,0.330 0 1 0 0.575,-0.109"/><path transform="translate(11.389,0)" d="M0,-1 V-0.12 Q0,0 0.1,0"/><path transform="translate(11.742,0)" d="M0.02,-0.33 H0.66  A0.330,0.330 0 1 0 0.563,-0.097"/><path transform="translate(12.655,0)" d="M0.06,-0.03 L-0.02,0.2"/><path transform="translate(13.417,0)" d="M0,-1 V0 M0,-0.36 A0.3,0.3 0 0 1 0.6,-0.36 V0"/><path transform="translate(14.270,0)" d="M0.02,-0.33 H0.66  A0.330,0.330 0 1 0 0.563,-0.097"/><path transform="translate(15.183,0)" d="M0.000,-0.330 A0.330,0.330 0 1 0 0.660,-0.330 A0.330,0.330 0 1 0 0.000,-0.330 Z M0.66,-0.66 V0"/><path transform="translate(16.096,0)" d="M0.12,-1 V-0.22 Q0.12,0 0.38,0 M0,-0.66 H0.32"/><path transform="translate(16.730,0)" d="M0,-0.62 V0"/><path transform="translate(16.983,0)" d="M0,-0.66 V0 M0,-0.36 A0.3,0.3 0 0 1 0.6,-0.36 V0"/><path transform="translate(17.836,0)" d="M0.000,-0.330 A0.330,0.330 0 1 0 0.660,-0.330 A0.330,0.330 0 1 0 0.000,-0.330 Z M0.66,-0.66 V0.0 Q0.66,0.28 0.33,0.28 Q0.12,0.28 0.03,0.18"/></g><g fill="#000"><circle cx="16.730" cy="-0.900" r="0.073"/></g></g>
<g transform="translate(133.2,2279.9) scale(26.200)"><g fill="none" stroke="#000" stroke-width="0.1183" stroke-linecap="round" stroke-linejoin="round"><path transform="translate(0.000,0)" d="M0.000,-0.330 A0.330,0.330 0 1 0 0.660,-0.330 A0.330,0.330 0 1 0 0.000,-0.330 Z M0.66,-0.66 V0"/><path transform="translate(0.920,0)" d="M0,-0.66 V0 M0,-0.36 A0.3,0.3 0 0 1 0.6,-0.36 V0"/><path transform="translate(1.780,0)" d="M0.000,-0.330 A0.330,0.330 0 1 0 0.660,-0.330 A0.330,0.330 0 1 0 0.000,-0.330 Z M0.66,-1 V0"/><path transform="translate(3.160,0)" d="M0.575,-0.551 A0.330,0.330 0 1 0 0.575,-0.109"/><path transform="translate(4.020,0)" d="M0.000,-0.330 A0.330,0.330 0 1 0 0.660,-0.330 A0.330,0.330 0 1 0 0.000,-0.330 Z"/><path transform="translate(4.941,0)" d="M0.000,-0.330 A0.330,0.330 0 1 0 0.660,-0.330 A0.330,0.330 0 1 0 0.000,-0.330 Z"/><path transform="translate(5.861,0)" d="M0,-1 V-0.12 Q0,0 0.1,0"/><path transform="translate(6.221,0)" d="M0,-0.62 V0"/><path transform="translate(6.481,0)" d="M0,-0.66 V0 M0,-0.36 A0.3,0.3 0 0 1 0.6,-0.36 V0"/><path transform="translate(7.341,0)" d="M0.000,-0.330 A0.330,0.330 0 1 0 0.660,-0.330 A0.330,0.330 0 1 0 0.000,-0.330 Z M0.66,-0.66 V0.0 Q0.66,0.28 0.33,0.28 Q0.12,0.28 0.03,0.18"/><path transform="translate(8.721,0)" d="M0.12,-1 V-0.22 Q0.12,0 0.38,0 M0,-0.66 H0.32"/><path transform="translate(9.361,0)" d="M0,-1 V0 M0,-0.36 A0.3,0.3 0 0 1 0.6,-0.36 V0"/><path transform="translate(10.221,0)" d="M0.02,-0.33 H0.66  A0.330,0.330 0 1 0 0.563,-0.097"/><path transform="translate(11.601,0)" d="M0.509,-0.535 C0.402,-0.616 0.335,-0.656 0.254,-0.656 C0.107,-0.656 -0.013,-0.576 0,-0.482 C0.013,-0.388 0.174,-0.348 0.268,-0.308 C0.402,-0.254 0.522,-0.214 0.522,-0.12 C0.522,-0.04 0.402,0 0.254,0 C0.147,0 0.067,-0.054 0,-0.134"/><path transform="translate(12.382,0)" d="M0.000,-0.330 A0.330,0.330 0 1 0 0.660,-0.330 A0.330,0.330 0 1 0 0.000,-0.330 Z M0.66,-0.66 V0"/><path transform="translate(13.302,0)" d="M0,-0.66 V0 M0,-0.4 A0.25,0.25 0 0 1 0.5,-0.4 V0 M0.5,-0.4 A0.25,0.25 0 0 1 1.0,-0.4 V0"/><path transform="translate(14.562,0)" d="M0.000,-0.330 A0.330,0.330 0 1 0 0.660,-0.330 A0.330,0.330 0 1 0 0.000,-0.330 Z M0,-0.66 V0.28"/><path transform="translate(15.482,0)" d="M0,-1 V-0.12 Q0,0 0.1,0"/><path transform="translate(15.842,0)" d="M0.02,-0.33 H0.66  A0.330,0.330 0 1 0 0.563,-0.097"/><path transform="translate(16.762,0)" d="M0.509,-0.535 C0.402,-0.616 0.335,-0.656 0.254,-0.656 C0.107,-0.656 -0.013,-0.576 0,-0.482 C0.013,-0.388 0.174,-0.348 0.268,-0.308 C0.402,-0.254 0.522,-0.214 0.522,-0.12 C0.522,-0.04 0.402,0 0.254,0 C0.147,0 0.067,-0.054 0,-0.134"/></g><g fill="#000"><circle cx="6.221" cy="-0.900" r="0.073"/><circle cx="17.542" cy="0.000" r="0.073"/></g></g>
<g transform="translate(161.7,2434.0) scale(23.700)"><g fill="none" stroke="#555" stroke-width="0.1097" stroke-linecap="round" stroke-linejoin="round"><path transform="translate(0.000,0)" d="M0,0 V-1 L0.46,-0.3 L0.92,-1 V0"/><path transform="translate(1.168,0)" d="M0,-1 V0"/><path transform="translate(1.416,0)" d="M0,0 V-1 L0.74,0 V-1"/><path transform="translate(2.404,0)" d="M0,0 V-1 H0.24 A0.5,0.5 0 0 1 0.24,0 Z"/><path transform="translate(3.831,0)" d="M0,-1 H0.72 M0.36,-1 V0"/><path transform="translate(4.799,0)" d="M0,-1 V0 M0.74,-1 V0 M0,-0.5 H0.74"/><path transform="translate(5.787,0)" d="M0.58,-1 H0 V0 H0.58 M0,-0.5 H0.5"/></g><g fill="#555"></g></g>
<g transform="translate(164.0,2476.1) scale(27.000)"><g fill="none" stroke="#555" stroke-width="0.2667" stroke-linecap="round" stroke-linejoin="round"><path transform="translate(0.000,0)" d="M0.883,-0.821 A0.500,0.500 0 1 0 1.000,-0.500 H0.55"/><path transform="translate(1.430,0)" d="M0,0 V-1 H0.28 A0.272,0.272 0 0 1 0.28,-0.457 H0 M0.38,-0.43 L0.6,0"/><path transform="translate(2.459,0)" d="M0,0 L0.42,-1 L0.84,0 M0.17,-0.36 H0.67"/><path transform="translate(3.729,0)" d="M0,0 V-1 H0.222 A0.3,0.3 0 0 1 0.222,-0.4 H0"/><path transform="translate(4.679,0)" d="M0,-1 V0 M0.74,-1 V0 M0,-0.5 H0.74"/></g><g fill="#555"></g></g></g>
</svg>
</body></html>
